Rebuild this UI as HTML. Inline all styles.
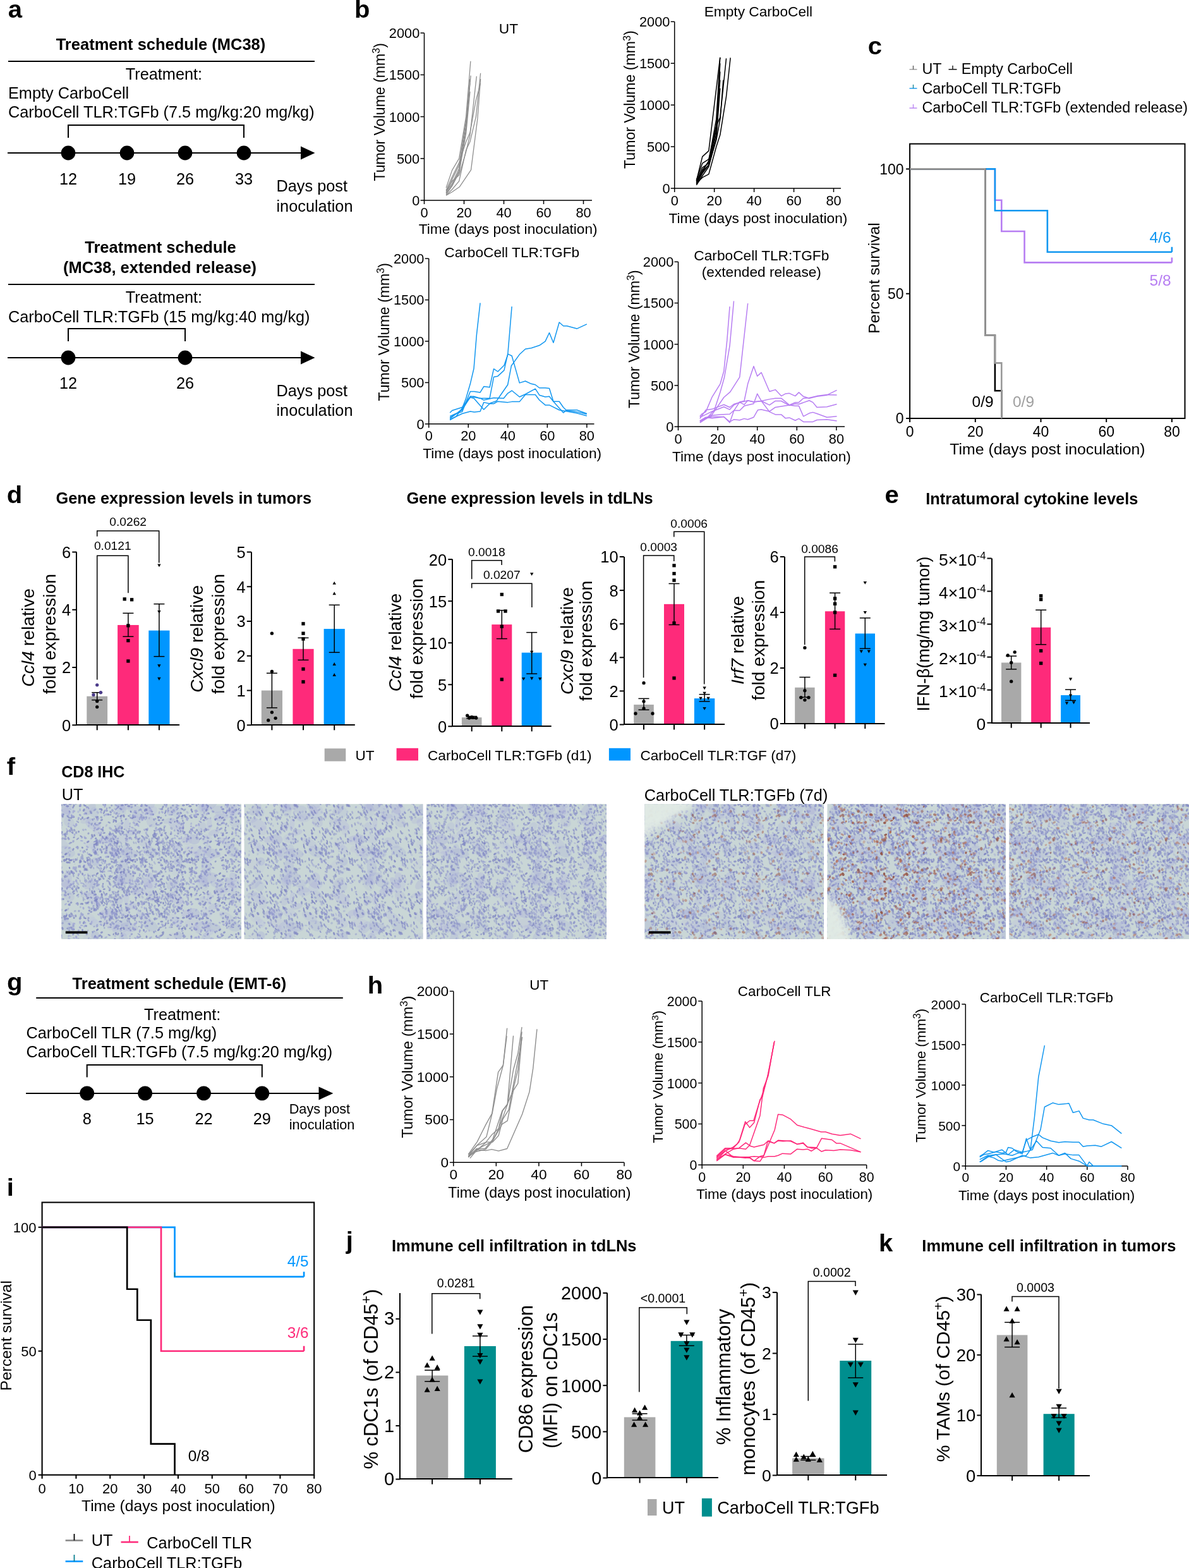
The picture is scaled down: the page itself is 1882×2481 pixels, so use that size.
<!DOCTYPE html>
<html><head><meta charset="utf-8"><title>Figure</title>
<style>html,body{margin:0;padding:0;background:#fff;overflow:hidden;}svg{display:block;}text{font-family:"Liberation Sans", Arial, Helvetica, sans-serif;}</style>
</head><body>
<svg width="1882" height="2481" viewBox="0 0 1882 2481">
<rect width="1882" height="2481" fill="#fff"/>
<text x="0" y="0" font-size="38.5" font-weight="bold" transform="translate(12.8 28.2) scale(1.04 1)">a</text>
<text x="88.69" y="79.2" font-size="25.5" font-weight="bold">Treatment schedule (MC38)</text>
<line x1="13" y1="97" x2="498" y2="97" stroke="#000" stroke-width="2"/>
<text x="198.78" y="125.6" font-size="25.3">Treatment:</text>
<text x="13" y="156.3" font-size="25.3">Empty CarboCell</text>
<text x="13" y="186.3" font-size="25.3">CarboCell TLR:TGFb (7.5 mg/kg:20 mg/kg)</text>
<path d="M108,218 V198 H386 V218" stroke="#000" stroke-width="2" fill="none"/>
<line x1="12" y1="242" x2="480" y2="242" stroke="#000" stroke-width="2"/>
<path d="M476,231.5 L498.5,242 L476,252.5Z" fill="#000"/>
<circle cx="108" cy="242" r="11.4" fill="#000"/>
<text x="93.96" y="292" font-size="25.3">12</text>
<circle cx="201" cy="242" r="11.4" fill="#000"/>
<text x="186.96" y="292" font-size="25.3">19</text>
<circle cx="293" cy="242" r="11.4" fill="#000"/>
<text x="278.96" y="292" font-size="25.3">26</text>
<circle cx="386" cy="242" r="11.4" fill="#000"/>
<text x="371.96" y="292" font-size="25.3">33</text>
<text x="437.5" y="303.2" font-size="25.3">Days post</text>
<text x="437.5" y="334.5" font-size="25.3">inoculation</text>
<text x="134.28" y="400.3" font-size="25.5" font-weight="bold">Treatment schedule</text>
<text x="99.94" y="431.5" font-size="25.5" font-weight="bold">(MC38, extended release)</text>
<line x1="13" y1="450" x2="498" y2="450" stroke="#000" stroke-width="2"/>
<text x="198.78" y="479.2" font-size="25.3">Treatment:</text>
<text x="13" y="509.5" font-size="25.3">CarboCell TLR:TGFb (15 mg/kg:40 mg/kg)</text>
<path d="M108,540 V520 H293 V540" stroke="#000" stroke-width="2" fill="none"/>
<line x1="12" y1="566" x2="480" y2="566" stroke="#000" stroke-width="2"/>
<path d="M476,555.5 L498.5,566 L476,576.5Z" fill="#000"/>
<circle cx="108" cy="566" r="11.4" fill="#000"/>
<text x="93.96" y="615" font-size="25.3">12</text>
<circle cx="293" cy="566" r="11.4" fill="#000"/>
<text x="278.96" y="615" font-size="25.3">26</text>
<text x="437.5" y="626.5" font-size="25.3">Days post</text>
<text x="437.5" y="657.5" font-size="25.3">inoculation</text>
<text x="0" y="0" font-size="38.5" font-weight="bold" transform="translate(561.1 28.3) scale(1.04 1)">b</text>
<line x1="671.5" y1="317" x2="671.5" y2="52.2" stroke="#000" stroke-width="1.5"/>
<line x1="670.75" y1="317" x2="937" y2="317" stroke="#000" stroke-width="1.5"/>
<line x1="665.5" y1="317" x2="671.5" y2="317" stroke="#000" stroke-width="1.5"/>
<text x="652.2" y="324.9" font-size="21.8">0</text>
<line x1="665.5" y1="250.8" x2="671.5" y2="250.8" stroke="#000" stroke-width="1.5"/>
<text x="627.89" y="258.7" font-size="21.8">500</text>
<line x1="665.5" y1="184.6" x2="671.5" y2="184.6" stroke="#000" stroke-width="1.5"/>
<text x="615.79" y="192.5" font-size="21.8">1000</text>
<line x1="665.5" y1="118.4" x2="671.5" y2="118.4" stroke="#000" stroke-width="1.5"/>
<text x="615.79" y="126.3" font-size="21.8">1500</text>
<line x1="665.5" y1="52.2" x2="671.5" y2="52.2" stroke="#000" stroke-width="1.5"/>
<text x="615.79" y="60.1" font-size="21.8">2000</text>
<line x1="671.5" y1="317" x2="671.5" y2="323" stroke="#000" stroke-width="1.5"/>
<text x="665.45" y="343.5" font-size="21.8">0</text>
<line x1="734.5" y1="317" x2="734.5" y2="323" stroke="#000" stroke-width="1.5"/>
<text x="722.4" y="343.5" font-size="21.8">20</text>
<line x1="797.5" y1="317" x2="797.5" y2="323" stroke="#000" stroke-width="1.5"/>
<text x="785.4" y="343.5" font-size="21.8">40</text>
<line x1="860.5" y1="317" x2="860.5" y2="323" stroke="#000" stroke-width="1.5"/>
<text x="848.4" y="343.5" font-size="21.8">60</text>
<line x1="923.5" y1="317" x2="923.5" y2="323" stroke="#000" stroke-width="1.5"/>
<text x="911.4" y="343.5" font-size="21.8">80</text>
<polyline points="706.15,297.14 715.6,269.34 726.62,250.8 737.65,184.6 744.89,96.82" stroke="#8e8e8e" stroke-width="1.3" fill="none" stroke-linejoin="round"/>
<polyline points="706.15,305.08 715.6,283.9 726.62,261.39 737.65,191.22 745.21,119.59" stroke="#8e8e8e" stroke-width="1.3" fill="none" stroke-linejoin="round"/>
<polyline points="706.15,303.76 715.6,290.52 726.62,266.69 737.65,197.84 743.95,125.02" stroke="#8e8e8e" stroke-width="1.3" fill="none" stroke-linejoin="round"/>
<polyline points="706.15,306.41 715.6,293.17 726.62,270.66 737.65,204.46 743.95,131.64" stroke="#8e8e8e" stroke-width="1.3" fill="none" stroke-linejoin="round"/>
<polyline points="706.15,307.73 715.6,294.49 726.62,273.31 737.65,211.08 743.95,144.88" stroke="#8e8e8e" stroke-width="1.3" fill="none" stroke-linejoin="round"/>
<polyline points="706.15,302.44 715.6,286.55 726.62,277.28 737.65,240.21 743.95,213.73 754.35,120.65" stroke="#8e8e8e" stroke-width="1.3" fill="none" stroke-linejoin="round"/>
<polyline points="706.15,309.06 715.6,299.79 726.62,286.55 737.65,237.56 743.95,224.32 753.4,184.6 760.64,115.75" stroke="#8e8e8e" stroke-width="1.3" fill="none" stroke-linejoin="round"/>
<polyline points="706.15,309.06 715.6,303.76 727.25,295.82 745.52,268.81 755.92,187.38 760.64,125.02" stroke="#8e8e8e" stroke-width="1.3" fill="none" stroke-linejoin="round"/>
<polyline points="706.15,301.11 715.6,279.93 726.62,257.42 737.65,224.32 743.95,209.76 753.4,158.12 760.64,131.64" stroke="#8e8e8e" stroke-width="1.3" fill="none" stroke-linejoin="round"/>
<text x="789.85" y="52.5" font-size="22.7">UT</text>
<text x="0" y="0" font-size="23.1" text-anchor="middle" transform="translate(608.5 177.3) rotate(-90)">Tumor Volume (mm<tspan font-size="0.7em" dy="-0.47em">3</tspan><tspan dy="0.329em">)</tspan></text>
<text x="662.77" y="369.5" font-size="22.7">Time (days post inoculation)</text>
<line x1="1067.7" y1="298" x2="1067.7" y2="34.3" stroke="#000" stroke-width="1.5"/>
<line x1="1066.95" y1="298" x2="1331" y2="298" stroke="#000" stroke-width="1.5"/>
<line x1="1061.7" y1="298" x2="1067.7" y2="298" stroke="#000" stroke-width="1.5"/>
<text x="1048.4" y="305.9" font-size="21.8">0</text>
<line x1="1061.7" y1="232.07" x2="1067.7" y2="232.07" stroke="#000" stroke-width="1.5"/>
<text x="1024.09" y="239.97" font-size="21.8">500</text>
<line x1="1061.7" y1="166.15" x2="1067.7" y2="166.15" stroke="#000" stroke-width="1.5"/>
<text x="1012" y="174.05" font-size="21.8">1000</text>
<line x1="1061.7" y1="100.22" x2="1067.7" y2="100.22" stroke="#000" stroke-width="1.5"/>
<text x="1012" y="108.12" font-size="21.8">1500</text>
<line x1="1061.7" y1="34.3" x2="1067.7" y2="34.3" stroke="#000" stroke-width="1.5"/>
<text x="1012" y="42.2" font-size="21.8">2000</text>
<line x1="1067.7" y1="298" x2="1067.7" y2="304" stroke="#000" stroke-width="1.5"/>
<text x="1061.65" y="324.5" font-size="21.8">0</text>
<line x1="1130.65" y1="298" x2="1130.65" y2="304" stroke="#000" stroke-width="1.5"/>
<text x="1118.55" y="324.5" font-size="21.8">20</text>
<line x1="1193.6" y1="298" x2="1193.6" y2="304" stroke="#000" stroke-width="1.5"/>
<text x="1181.5" y="324.5" font-size="21.8">40</text>
<line x1="1256.55" y1="298" x2="1256.55" y2="304" stroke="#000" stroke-width="1.5"/>
<text x="1244.45" y="324.5" font-size="21.8">60</text>
<line x1="1319.5" y1="298" x2="1319.5" y2="304" stroke="#000" stroke-width="1.5"/>
<text x="1307.4" y="324.5" font-size="21.8">80</text>
<polyline points="1102.32,286.13 1111.77,247.9 1121.84,238.67 1139.78,90.86" stroke="#000" stroke-width="1.5" fill="none" stroke-linejoin="round"/>
<polyline points="1102.32,290.09 1111.77,271.63 1121.84,254.49 1133.8,188.56 1139.78,90.86" stroke="#000" stroke-width="1.5" fill="none" stroke-linejoin="round"/>
<polyline points="1102.32,287.45 1111.77,265.04 1121.84,258.44 1133.8,205.7 1139.78,100.22" stroke="#000" stroke-width="1.5" fill="none" stroke-linejoin="round"/>
<polyline points="1102.32,291.41 1111.77,274.27 1121.84,261.08 1133.8,212.3 1139.78,113.41" stroke="#000" stroke-width="1.5" fill="none" stroke-linejoin="round"/>
<polyline points="1102.32,288.77 1111.77,268.99 1121.84,255.81 1133.8,199.11 1139.78,126.59" stroke="#000" stroke-width="1.5" fill="none" stroke-linejoin="round"/>
<polyline points="1102.32,292.73 1111.77,278.22 1121.84,263.72 1133.8,218.89 1139.78,139.78" stroke="#000" stroke-width="1.5" fill="none" stroke-linejoin="round"/>
<polyline points="1102.32,284.81 1111.77,258.44 1121.84,251.85 1133.8,199.11 1139.78,185.93 1149.54,92.45" stroke="#000" stroke-width="1.5" fill="none" stroke-linejoin="round"/>
<polyline points="1102.32,290.09 1111.77,280.86 1121.84,275.59 1133.8,232.07 1139.78,213.62 1149.54,152.97 1156.14,91.39" stroke="#000" stroke-width="1.5" fill="none" stroke-linejoin="round"/>
<polyline points="1102.32,287.45 1111.77,271.63 1121.84,261.08 1133.8,221.53 1140.09,187.25 1144.81,126.59" stroke="#000" stroke-width="1.5" fill="none" stroke-linejoin="round"/>
<text x="1114.69" y="26" font-size="22.7">Empty CarboCell</text>
<text x="0" y="0" font-size="23.1" text-anchor="middle" transform="translate(1005.3 157.6) rotate(-90)">Tumor Volume (mm<tspan font-size="0.7em" dy="-0.47em">3</tspan><tspan dy="0.329em">)</tspan></text>
<text x="1058.47" y="352.5" font-size="22.7">Time (days post inoculation)</text>
<line x1="678.7" y1="670.8" x2="678.7" y2="409.1" stroke="#000" stroke-width="1.5"/>
<line x1="677.95" y1="670.8" x2="940.5" y2="670.8" stroke="#000" stroke-width="1.5"/>
<line x1="672.7" y1="670.8" x2="678.7" y2="670.8" stroke="#000" stroke-width="1.5"/>
<text x="659.4" y="678.7" font-size="21.8">0</text>
<line x1="672.7" y1="605.38" x2="678.7" y2="605.38" stroke="#000" stroke-width="1.5"/>
<text x="635.09" y="613.27" font-size="21.8">500</text>
<line x1="672.7" y1="539.95" x2="678.7" y2="539.95" stroke="#000" stroke-width="1.5"/>
<text x="623" y="547.85" font-size="21.8">1000</text>
<line x1="672.7" y1="474.52" x2="678.7" y2="474.52" stroke="#000" stroke-width="1.5"/>
<text x="623" y="482.42" font-size="21.8">1500</text>
<line x1="672.7" y1="409.1" x2="678.7" y2="409.1" stroke="#000" stroke-width="1.5"/>
<text x="623" y="417" font-size="21.8">2000</text>
<line x1="678.7" y1="670.8" x2="678.7" y2="676.8" stroke="#000" stroke-width="1.5"/>
<text x="672.65" y="697.3" font-size="21.8">0</text>
<line x1="741.24" y1="670.8" x2="741.24" y2="676.8" stroke="#000" stroke-width="1.5"/>
<text x="729.14" y="697.3" font-size="21.8">20</text>
<line x1="803.78" y1="670.8" x2="803.78" y2="676.8" stroke="#000" stroke-width="1.5"/>
<text x="791.68" y="697.3" font-size="21.8">40</text>
<line x1="866.32" y1="670.8" x2="866.32" y2="676.8" stroke="#000" stroke-width="1.5"/>
<text x="854.22" y="697.3" font-size="21.8">60</text>
<line x1="928.86" y1="670.8" x2="928.86" y2="676.8" stroke="#000" stroke-width="1.5"/>
<text x="916.76" y="697.3" font-size="21.8">80</text>
<polyline points="712.16,664.52 722.17,658.8 731.47,645.92 737.19,631.62 744.34,607.31 750.06,582.99 754.35,530.07 760.07,479.3" stroke="#1297f0" stroke-width="1.5" fill="none" stroke-linejoin="round"/>
<polyline points="712.16,658.8 721.45,654.5 731.47,651.64 744.34,619.46 750.77,619.46 760.07,620.89 765.79,611.6 775.09,612.74 781.53,583.71 787.96,588 797.97,577.99 803.69,561.54 810.13,485.02" stroke="#1297f0" stroke-width="1.5" fill="none" stroke-linejoin="round"/>
<polyline points="712.16,660.94 731.47,648.78 744.34,627.33 760.07,630.19 775.09,630.19 781.53,596.58 787.96,595.15 797.97,585.85 803.69,560.11 810.13,562.97 822.29,605.88 831.58,603.01 840.88,607.31 847.32,608.74 853.75,613.74 863.05,613.74 869.49,614.46 875.92,635.2 885.22,635.2 891.66,644.49 895.95,648.78 913.11,648.78 928.84,654.5" stroke="#1297f0" stroke-width="1.5" fill="none" stroke-linejoin="round"/>
<polyline points="712.16,662.37 731.47,647.35 744.34,628.76 750.06,630.19 765.79,648.07 775.8,638.06 785.82,634.48 803.69,608.74 809.42,578.7 822.29,560.82 831.58,552.24 840.88,550.81 853.75,546.52 863.05,540.08 869.49,526.5 875.92,542.23 885.22,510.05 891.66,515.77 897.38,515.77 913.11,520.06 928.84,512.91" stroke="#1297f0" stroke-width="1.5" fill="none" stroke-linejoin="round"/>
<polyline points="712.16,653.07 715.73,649.5 731.47,644.49 744.34,627.33 750.06,627.33 760.07,630.19 765.79,633.05 781.53,629.47 797.26,630.19 803.69,622.32 810.13,618.03 822.29,628.04 831.58,623.75 847.32,615.17 853.75,625.18 863.05,628.04 869.49,627.33 875.92,635.2 891.66,653.07 895.95,649.5 913.11,651.64 928.84,655.22" stroke="#1297f0" stroke-width="1.5" fill="none" stroke-linejoin="round"/>
<polyline points="712.16,663.8 731.47,654.5 744.34,650.93 750.77,651.93 760.07,650.93 765.79,636.63 775.09,638.77 781.53,638.77 787.96,635.2 803.69,636.63 810.13,635.62 822.29,635.62 831.58,624.47 840.88,624.47 847.32,624.47 853.75,633.05 863.05,640.92 869.49,640.92 885.22,648.78 913.11,653.79 928.84,658.08" stroke="#1297f0" stroke-width="1.5" fill="none" stroke-linejoin="round"/>
<text x="703.27" y="406.5" font-size="22.7">CarboCell TLR:TGFb</text>
<text x="0" y="0" font-size="23.1" text-anchor="middle" transform="translate(615.8 525.3) rotate(-90)">Tumor Volume (mm<tspan font-size="0.7em" dy="-0.47em">3</tspan><tspan dy="0.329em">)</tspan></text>
<text x="669.27" y="725" font-size="22.7">Time (days post inoculation)</text>
<line x1="1073.5" y1="675.1" x2="1073.5" y2="414.3" stroke="#000" stroke-width="1.5"/>
<line x1="1072.75" y1="675.1" x2="1337" y2="675.1" stroke="#000" stroke-width="1.5"/>
<line x1="1067.5" y1="675.1" x2="1073.5" y2="675.1" stroke="#000" stroke-width="1.5"/>
<text x="1054.2" y="683" font-size="21.8">0</text>
<line x1="1067.5" y1="609.9" x2="1073.5" y2="609.9" stroke="#000" stroke-width="1.5"/>
<text x="1029.89" y="617.8" font-size="21.8">500</text>
<line x1="1067.5" y1="544.7" x2="1073.5" y2="544.7" stroke="#000" stroke-width="1.5"/>
<text x="1017.79" y="552.6" font-size="21.8">1000</text>
<line x1="1067.5" y1="479.5" x2="1073.5" y2="479.5" stroke="#000" stroke-width="1.5"/>
<text x="1017.79" y="487.4" font-size="21.8">1500</text>
<line x1="1067.5" y1="414.3" x2="1073.5" y2="414.3" stroke="#000" stroke-width="1.5"/>
<text x="1017.79" y="422.2" font-size="21.8">2000</text>
<line x1="1073.5" y1="675.1" x2="1073.5" y2="681.1" stroke="#000" stroke-width="1.5"/>
<text x="1067.45" y="701.6" font-size="21.8">0</text>
<line x1="1136.1" y1="675.1" x2="1136.1" y2="681.1" stroke="#000" stroke-width="1.5"/>
<text x="1124" y="701.6" font-size="21.8">20</text>
<line x1="1198.7" y1="675.1" x2="1198.7" y2="681.1" stroke="#000" stroke-width="1.5"/>
<text x="1186.6" y="701.6" font-size="21.8">40</text>
<line x1="1261.3" y1="675.1" x2="1261.3" y2="681.1" stroke="#000" stroke-width="1.5"/>
<text x="1249.2" y="701.6" font-size="21.8">60</text>
<line x1="1323.9" y1="675.1" x2="1323.9" y2="681.1" stroke="#000" stroke-width="1.5"/>
<text x="1311.8" y="701.6" font-size="21.8">80</text>
<polyline points="1107.87,658.8 1110.73,655.22 1117.16,651.64 1127.18,628.04 1140.05,607.31 1145.77,587.28 1150.77,538.65 1155.07,485.02" stroke="#b77ef2" stroke-width="1.5" fill="none" stroke-linejoin="round"/>
<polyline points="1107.87,665.95 1121.45,658.8 1130.75,648.78 1140.05,620.18 1146.48,597.29 1155.07,547.23 1161.5,476.44" stroke="#b77ef2" stroke-width="1.5" fill="none" stroke-linejoin="round"/>
<polyline points="1107.87,668.81 1127.18,655.93 1145.77,628.76 1155.78,620.18 1170.8,596.58 1183.67,480.01" stroke="#b77ef2" stroke-width="1.5" fill="none" stroke-linejoin="round"/>
<polyline points="1107.87,666.66 1117.16,661.66 1127.18,659.51 1145.77,659.51 1155.07,668.81 1161.5,650.21 1170.8,635.91 1177.95,634.48 1183.67,607.31 1192.97,579.42 1198.69,595.15 1205.12,589.43 1218,619.46 1227.29,616.6 1236.59,626.61 1243.03,623.04 1249.46,622.32 1258.76,626.61 1264.48,620.89 1271.63,627.33 1280.93,630.19 1293.09,627.33 1308.82,625.18 1324.55,617.32" stroke="#b77ef2" stroke-width="1.5" fill="none" stroke-linejoin="round"/>
<polyline points="1107.87,662.37 1117.16,648.78 1127.18,647.35 1145.77,640.2 1155.07,644.49 1161.5,639.49 1170.8,636.63 1177.95,640.2 1183.67,633.77 1192.97,635.91 1205.12,634.48 1218,631.62 1227.29,630.19 1236.59,630.19 1249.46,640.92 1258.76,636.63 1264.48,636.63 1271.63,630.19 1280.93,629.47 1293.09,626.61 1308.82,624.47 1324.55,624.9" stroke="#b77ef2" stroke-width="1.5" fill="none" stroke-linejoin="round"/>
<polyline points="1107.87,665.95 1117.16,660.23 1127.18,661.66 1145.77,659.51 1155.07,667.38 1161.5,663.8 1170.8,664.8 1177.95,662.37 1183.67,663.8 1192.97,660.23 1199.4,648.78 1205.12,648.07 1218,650.93 1227.29,644.49 1236.59,643.06 1249.46,640.92 1258.76,642.35 1264.48,642.35 1271.63,658.8 1280.93,653.79 1286.65,652.36 1293.09,654.5 1308.82,660.23 1324.55,658.8" stroke="#b77ef2" stroke-width="1.5" fill="none" stroke-linejoin="round"/>
<polyline points="1107.87,668.09 1127.18,657.37 1140.05,655.93 1155.07,655.22 1161.5,649.5 1170.8,649.5 1177.95,642.35 1192.97,638.77 1198.69,623.04 1205.12,634.48 1218,651.64 1227.29,655.93 1236.59,655.93 1243.03,661.66 1249.46,660.94 1258.76,665.23 1264.48,662.37 1271.63,667.38 1286.65,667.38 1293.09,664.52 1308.82,663.8 1324.55,665.95" stroke="#b77ef2" stroke-width="1.5" fill="none" stroke-linejoin="round"/>
<polyline points="1107.87,660.23 1117.16,655.93 1127.18,650.93 1145.77,643.78 1155.07,648.07 1161.5,640.92 1170.8,636.63 1177.95,635.2 1183.67,633.77 1192.97,635.91 1205.12,634.48 1218,640.92 1227.29,634.48 1236.59,634.48 1249.46,641.63 1258.76,638.77 1264.48,639.49 1280.93,633.77 1286.65,636.63 1293.09,644.49 1308.82,643.78 1324.55,639.49" stroke="#b77ef2" stroke-width="1.5" fill="none" stroke-linejoin="round"/>
<text x="1098.37" y="411.5" font-size="22.7">CarboCell TLR:TGFb</text>
<text x="1110.74" y="437.5" font-size="22.7">(extended release)</text>
<text x="0" y="0" font-size="23.1" text-anchor="middle" transform="translate(1011.5 536.6) rotate(-90)">Tumor Volume (mm<tspan font-size="0.7em" dy="-0.47em">3</tspan><tspan dy="0.329em">)</tspan></text>
<text x="1063.97" y="729.5" font-size="22.7">Time (days post inoculation)</text>
<text x="0" y="0" font-size="38.5" font-weight="bold" transform="translate(1373.8 86.4) scale(1.04 1)">c</text>
<line x1="1439.5" y1="109.8" x2="1451.5" y2="109.8" stroke="#999" stroke-width="1.4"/>
<line x1="1445.5" y1="103.8" x2="1445.5" y2="109.8" stroke="#555" stroke-width="1.3"/>
<text x="1459.5" y="116.8" font-size="23.3">UT</text>
<line x1="1501.5" y1="109.8" x2="1514.5" y2="109.8" stroke="#000" stroke-width="1.4"/>
<line x1="1508" y1="103.8" x2="1508" y2="109.8" stroke="#000" stroke-width="1.3"/>
<text x="1521.8" y="116.8" font-size="23.3">Empty CarboCell</text>
<line x1="1439.5" y1="139.8" x2="1451.5" y2="139.8" stroke="#1297f0" stroke-width="1.4"/>
<line x1="1445.5" y1="133.8" x2="1445.5" y2="139.8" stroke="#0a7f8f" stroke-width="1.3"/>
<text x="1459.5" y="147.6" font-size="23.3">CarboCell TLR:TGFb</text>
<line x1="1439.5" y1="171" x2="1451.5" y2="171" stroke="#b77ef2" stroke-width="1.4"/>
<line x1="1445.5" y1="165" x2="1445.5" y2="171" stroke="#b77ef2" stroke-width="1.3"/>
<text x="1459.5" y="178.4" font-size="23.3">CarboCell TLR:TGFb (extended release)</text>
<rect x="1440.1" y="227.6" width="435.4" height="434.4" fill="none" stroke="#000" stroke-width="2"/>
<line x1="1434.1" y1="662" x2="1440.1" y2="662" stroke="#000" stroke-width="2"/>
<text x="1417.83" y="670.2" font-size="23">0</text>
<line x1="1434.1" y1="464.7" x2="1440.1" y2="464.7" stroke="#000" stroke-width="2"/>
<text x="1405.07" y="472.9" font-size="23">50</text>
<line x1="1434.1" y1="267.4" x2="1440.1" y2="267.4" stroke="#000" stroke-width="2"/>
<text x="1392.19" y="275.6" font-size="23">100</text>
<line x1="1440.1" y1="662" x2="1440.1" y2="668" stroke="#000" stroke-width="2"/>
<text x="1433.72" y="691" font-size="23">0</text>
<line x1="1543.8" y1="662" x2="1543.8" y2="668" stroke="#000" stroke-width="2"/>
<text x="1531.03" y="691" font-size="23">20</text>
<line x1="1647.5" y1="662" x2="1647.5" y2="668" stroke="#000" stroke-width="2"/>
<text x="1634.73" y="691" font-size="23">40</text>
<line x1="1751.2" y1="662" x2="1751.2" y2="668" stroke="#000" stroke-width="2"/>
<text x="1738.43" y="691" font-size="23">60</text>
<line x1="1854.9" y1="662" x2="1854.9" y2="668" stroke="#000" stroke-width="2"/>
<text x="1842.13" y="691" font-size="23">80</text>
<path d="M1440.1,267.4 H1574.91 V316.72 H1585.28 V366.05 H1621.57 V415.38 H1854.9 M1854.9,407.38 V415.38" stroke="#b77ef2" stroke-width="2.6" fill="none"/>
<path d="M1440.1,267.4 H1574.91 V333.3 H1657.87 V398.8 H1854.9 M1854.9,390.8 V398.8" stroke="#1297f0" stroke-width="2.6" fill="none"/>
<path d="M1440.1,267.4 H1559.36 V530.6 H1574.91 V618.2 H1585.28 V662" stroke="#000" stroke-width="2.6" fill="none"/>
<path d="M1440.1,267.4 H1559.36 V530.6 H1574.91 V574.4 H1585.28 V662" stroke="#999" stroke-width="2.6" fill="none"/>
<text x="1819.54" y="384" font-size="24.5" fill="#1297f0">4/6</text>
<text x="1819.54" y="451.5" font-size="24.5" fill="#b77ef2">5/8</text>
<text x="1538.6" y="644.3" font-size="24.46">0/9</text>
<text x="1603" y="644.3" font-size="24.46" fill="#a0a0a0">0/9</text>
<text x="1503.37" y="719" font-size="24.8">Time (days post inoculation)</text>
<text x="0" y="0" font-size="24.7" text-anchor="middle" transform="translate(1391.8 440) rotate(-90)">Percent survival</text>
<text x="0" y="0" font-size="38.5" font-weight="bold" transform="translate(10.8 796.4) scale(1.04 1)">d</text>
<text x="88.5" y="796.8" font-size="25.36" font-weight="bold">Gene expression levels in tumors</text>
<text x="643.4" y="797" font-size="25.35" font-weight="bold">Gene expression levels in tdLNs</text>
<rect x="137.3" y="1101.67" width="32.8" height="45.63" fill="#a9a9a9"/>
<rect x="186.1" y="988.96" width="33.6" height="158.34" fill="#fe2a7a"/>
<rect x="235.3" y="997.63" width="33.2" height="149.67" fill="#0096ff"/>
<line x1="153.7" y1="1107.6" x2="153.7" y2="1095.74" stroke="#000" stroke-width="1.5"/>
<line x1="145.2" y1="1107.6" x2="162.2" y2="1107.6" stroke="#000" stroke-width="1.5"/>
<line x1="145.2" y1="1095.74" x2="162.2" y2="1095.74" stroke="#000" stroke-width="1.5"/>
<circle cx="153.7" cy="1083.87" r="2.66" fill="#4b3b8a"/>
<circle cx="148" cy="1099.39" r="2.66" fill="#4b3b8a"/>
<circle cx="159.4" cy="1095.74" r="2.66" fill="#4b3b8a"/>
<circle cx="153.7" cy="1109.43" r="2.66" fill="#000"/>
<circle cx="153.7" cy="1118.55" r="2.66" fill="#000"/>
<line x1="202.9" y1="1007.22" x2="202.9" y2="970.26" stroke="#000" stroke-width="1.5"/>
<line x1="194.4" y1="1007.22" x2="211.4" y2="1007.22" stroke="#000" stroke-width="1.5"/>
<line x1="194.4" y1="970.26" x2="211.4" y2="970.26" stroke="#000" stroke-width="1.5"/>
<rect x="194.54" y="945.24" width="5.31" height="5.31" fill="#000"/>
<rect x="205.94" y="946.15" width="5.31" height="5.31" fill="#000"/>
<rect x="200.24" y="987.22" width="5.31" height="5.31" fill="#000"/>
<rect x="200.24" y="1010.95" width="5.31" height="5.31" fill="#000"/>
<rect x="200.24" y="1043.35" width="5.31" height="5.31" fill="#000"/>
<line x1="251.9" y1="1038.7" x2="251.9" y2="955.65" stroke="#000" stroke-width="1.5"/>
<line x1="243.4" y1="1038.7" x2="260.4" y2="1038.7" stroke="#000" stroke-width="1.5"/>
<line x1="243.4" y1="955.65" x2="260.4" y2="955.65" stroke="#000" stroke-width="1.5"/>
<path d="M251.9,897.36 L254.61,892.51 L249.19,892.51Z" fill="#000"/>
<path d="M251.9,970.83 L254.61,965.98 L249.19,965.98Z" fill="#000"/>
<path d="M251.9,1056.15 L254.61,1051.31 L249.19,1051.31Z" fill="#000"/>
<path d="M251.9,1076.69 L254.61,1071.84 L249.19,1071.84Z" fill="#000"/>
<line x1="121" y1="1148" x2="121" y2="873.5" stroke="#000" stroke-width="2"/>
<line x1="120" y1="1147" x2="284.1" y2="1147" stroke="#000" stroke-width="2"/>
<line x1="114.3" y1="1147.3" x2="121.3" y2="1147.3" stroke="#000" stroke-width="2"/>
<text x="97.95" y="1156.7" font-size="25.5">0</text>
<line x1="114.3" y1="1056.04" x2="121.3" y2="1056.04" stroke="#000" stroke-width="2"/>
<text x="97.95" y="1065.44" font-size="25.5">2</text>
<line x1="114.3" y1="964.78" x2="121.3" y2="964.78" stroke="#000" stroke-width="2"/>
<text x="97.95" y="974.18" font-size="25.5">4</text>
<line x1="114.3" y1="873.52" x2="121.3" y2="873.52" stroke="#000" stroke-width="2"/>
<text x="97.95" y="882.92" font-size="25.5">6</text>
<line x1="153.7" y1="1147.3" x2="153.7" y2="1155.3" stroke="#000" stroke-width="2"/>
<line x1="202.9" y1="1147.3" x2="202.9" y2="1155.3" stroke="#000" stroke-width="2"/>
<line x1="251.9" y1="1147.3" x2="251.9" y2="1155.3" stroke="#000" stroke-width="2"/>
<path d="M153.7,1075.6 V879.2 H202.9 V938.3" stroke="#000" stroke-width="1.5" fill="none"/>
<text x="148.92" y="869.7" font-size="19.2">0.0121</text>
<path d="M153.7,848.7 V840 H251.7 V890.6" stroke="#000" stroke-width="1.5" fill="none"/>
<text x="173.32" y="832" font-size="19.2">0.0262</text>
<text x="0" y="0" font-size="28.3" text-anchor="middle" transform="translate(53.8 1008.8) rotate(-90)"><tspan font-style="italic">Ccl4</tspan> relative</text>
<text x="0" y="0" font-size="28.3" text-anchor="middle" transform="translate(87.8 1003.2) rotate(-90)">fold expression</text>
<rect x="413.8" y="1092.54" width="33.2" height="54.76" fill="#a9a9a9"/>
<rect x="463.4" y="1026.83" width="33.2" height="120.47" fill="#fe2a7a"/>
<rect x="512.6" y="995.07" width="33.2" height="152.23" fill="#0096ff"/>
<line x1="430.4" y1="1119.92" x2="430.4" y2="1065.16" stroke="#000" stroke-width="1.5"/>
<line x1="421.9" y1="1119.92" x2="438.9" y2="1119.92" stroke="#000" stroke-width="1.5"/>
<line x1="421.9" y1="1065.16" x2="438.9" y2="1065.16" stroke="#000" stroke-width="1.5"/>
<circle cx="430.4" cy="1002.19" r="2.66" fill="#000"/>
<circle cx="430.4" cy="1062.42" r="2.66" fill="#000"/>
<circle cx="436.1" cy="1136.35" r="2.66" fill="#000"/>
<circle cx="424.7" cy="1139.63" r="2.66" fill="#000"/>
<circle cx="430.4" cy="1127.04" r="2.66" fill="#000"/>
<line x1="480" y1="1044.35" x2="480" y2="1009.3" stroke="#000" stroke-width="1.5"/>
<line x1="471.5" y1="1044.35" x2="488.5" y2="1044.35" stroke="#000" stroke-width="1.5"/>
<line x1="471.5" y1="1009.3" x2="488.5" y2="1009.3" stroke="#000" stroke-width="1.5"/>
<rect x="477.34" y="984.2" width="5.31" height="5.31" fill="#000"/>
<rect x="477.34" y="999.53" width="5.31" height="5.31" fill="#000"/>
<rect x="477.34" y="1008.29" width="5.31" height="5.31" fill="#000"/>
<rect x="477.34" y="1055.93" width="5.31" height="5.31" fill="#000"/>
<rect x="477.34" y="1076.19" width="5.31" height="5.31" fill="#000"/>
<line x1="529.2" y1="1032.3" x2="529.2" y2="957.28" stroke="#000" stroke-width="1.5"/>
<line x1="520.7" y1="1032.3" x2="537.7" y2="1032.3" stroke="#000" stroke-width="1.5"/>
<line x1="520.7" y1="957.28" x2="537.7" y2="957.28" stroke="#000" stroke-width="1.5"/>
<path d="M529.2,919.93 L531.91,924.78 L526.49,924.78Z" fill="#000"/>
<path d="M529.2,936.36 L531.91,941.21 L526.49,941.21Z" fill="#000"/>
<path d="M529.2,1048.07 L531.91,1052.92 L526.49,1052.92Z" fill="#000"/>
<path d="M529.2,1065.05 L531.91,1069.89 L526.49,1069.89Z" fill="#000"/>
<line x1="398" y1="1148" x2="398" y2="873.5" stroke="#000" stroke-width="2"/>
<line x1="397" y1="1147" x2="561.8" y2="1147" stroke="#000" stroke-width="2"/>
<line x1="390.8" y1="1147.3" x2="397.8" y2="1147.3" stroke="#000" stroke-width="2"/>
<text x="374.45" y="1156.7" font-size="25.5">0</text>
<line x1="390.8" y1="1092.54" x2="397.8" y2="1092.54" stroke="#000" stroke-width="2"/>
<text x="374.45" y="1101.94" font-size="25.5">1</text>
<line x1="390.8" y1="1037.78" x2="397.8" y2="1037.78" stroke="#000" stroke-width="2"/>
<text x="374.45" y="1047.18" font-size="25.5">2</text>
<line x1="390.8" y1="983.02" x2="397.8" y2="983.02" stroke="#000" stroke-width="2"/>
<text x="374.45" y="992.42" font-size="25.5">3</text>
<line x1="390.8" y1="928.26" x2="397.8" y2="928.26" stroke="#000" stroke-width="2"/>
<text x="374.45" y="937.66" font-size="25.5">4</text>
<line x1="390.8" y1="873.5" x2="397.8" y2="873.5" stroke="#000" stroke-width="2"/>
<text x="374.45" y="882.9" font-size="25.5">5</text>
<line x1="430.4" y1="1147.3" x2="430.4" y2="1155.3" stroke="#000" stroke-width="2"/>
<line x1="480" y1="1147.3" x2="480" y2="1155.3" stroke="#000" stroke-width="2"/>
<line x1="529.2" y1="1147.3" x2="529.2" y2="1155.3" stroke="#000" stroke-width="2"/>
<text x="0" y="0" font-size="28.3" text-anchor="middle" transform="translate(320.6 1010.8) rotate(-90)"><tspan font-style="italic">Cxcl9</tspan> relative</text>
<text x="0" y="0" font-size="28.3" text-anchor="middle" transform="translate(354.6 1003.2) rotate(-90)">fold expression</text>
<rect x="730.9" y="1135.17" width="31.6" height="14.13" fill="#a9a9a9"/>
<rect x="778.3" y="988.14" width="32" height="161.16" fill="#fe2a7a"/>
<rect x="825.7" y="1032.66" width="32" height="116.64" fill="#0096ff"/>
<line x1="746.7" y1="1136.75" x2="746.7" y2="1133.45" stroke="#000" stroke-width="1.5"/>
<line x1="738.2" y1="1136.75" x2="755.2" y2="1136.75" stroke="#000" stroke-width="1.5"/>
<line x1="738.2" y1="1133.45" x2="755.2" y2="1133.45" stroke="#000" stroke-width="1.5"/>
<circle cx="739.7" cy="1132.13" r="2.66" fill="#000"/>
<circle cx="742.7" cy="1136.09" r="2.66" fill="#000"/>
<circle cx="748.7" cy="1135.43" r="2.66" fill="#000"/>
<circle cx="753.7" cy="1136.09" r="2.66" fill="#000"/>
<circle cx="746.7" cy="1134.77" r="2.66" fill="#000"/>
<line x1="794.3" y1="1010.59" x2="794.3" y2="965.68" stroke="#000" stroke-width="1.5"/>
<line x1="785.8" y1="1010.59" x2="802.8" y2="1010.59" stroke="#000" stroke-width="1.5"/>
<line x1="785.8" y1="965.68" x2="802.8" y2="965.68" stroke="#000" stroke-width="1.5"/>
<rect x="791.64" y="937.93" width="5.31" height="5.31" fill="#000"/>
<rect x="785.94" y="964.35" width="5.31" height="5.31" fill="#000"/>
<rect x="797.34" y="964.35" width="5.31" height="5.31" fill="#000"/>
<rect x="791.64" y="988.65" width="5.31" height="5.31" fill="#000"/>
<rect x="791.64" y="1072.4" width="5.31" height="5.31" fill="#000"/>
<line x1="841.7" y1="1066.08" x2="841.7" y2="1000.69" stroke="#000" stroke-width="1.5"/>
<line x1="833.2" y1="1066.08" x2="850.2" y2="1066.08" stroke="#000" stroke-width="1.5"/>
<line x1="833.2" y1="1000.69" x2="850.2" y2="1000.69" stroke="#000" stroke-width="1.5"/>
<path d="M841.7,911.07 L844.41,906.22 L838.99,906.22Z" fill="#000"/>
<path d="M841.7,1034.58 L844.41,1029.73 L838.99,1029.73Z" fill="#000"/>
<path d="M828.7,1076.86 L831.41,1072.01 L825.99,1072.01Z" fill="#000"/>
<path d="M841.7,1076.19 L844.41,1071.35 L838.99,1071.35Z" fill="#000"/>
<path d="M854.7,1076.86 L857.41,1072.01 L851.99,1072.01Z" fill="#000"/>
<line x1="716" y1="1150" x2="716" y2="885.1" stroke="#000" stroke-width="2"/>
<line x1="715" y1="1149" x2="872.7" y2="1149" stroke="#000" stroke-width="2"/>
<line x1="709.3" y1="1149.3" x2="716.3" y2="1149.3" stroke="#000" stroke-width="2"/>
<text x="692.95" y="1158.7" font-size="25.5">0</text>
<line x1="709.3" y1="1083.25" x2="716.3" y2="1083.25" stroke="#000" stroke-width="2"/>
<text x="692.95" y="1092.65" font-size="25.5">5</text>
<line x1="709.3" y1="1017.2" x2="716.3" y2="1017.2" stroke="#000" stroke-width="2"/>
<text x="678.79" y="1026.6" font-size="25.5">10</text>
<line x1="709.3" y1="951.15" x2="716.3" y2="951.15" stroke="#000" stroke-width="2"/>
<text x="678.79" y="960.55" font-size="25.5">15</text>
<line x1="709.3" y1="885.1" x2="716.3" y2="885.1" stroke="#000" stroke-width="2"/>
<text x="678.79" y="894.5" font-size="25.5">20</text>
<line x1="746.7" y1="1149.3" x2="746.7" y2="1157.3" stroke="#000" stroke-width="2"/>
<line x1="794.3" y1="1149.3" x2="794.3" y2="1157.3" stroke="#000" stroke-width="2"/>
<line x1="841.7" y1="1149.3" x2="841.7" y2="1157.3" stroke="#000" stroke-width="2"/>
<path d="M746.7,916.3 V886.7 H794.1 V894" stroke="#000" stroke-width="1.5" fill="none"/>
<text x="741.02" y="879.8" font-size="19.2">0.0018</text>
<path d="M746.7,930.5 V923.2 H841.9 V960.9" stroke="#000" stroke-width="1.5" fill="none"/>
<text x="764.92" y="916.3" font-size="19.2">0.0207</text>
<text x="0" y="0" font-size="28.3" text-anchor="middle" transform="translate(635 1016.5) rotate(-90)"><tspan font-style="italic">Ccl4</tspan> relative</text>
<text x="0" y="0" font-size="28.3" text-anchor="middle" transform="translate(669 1010.5) rotate(-90)">fold expression</text>
<rect x="1003.2" y="1114.91" width="31.6" height="31.59" fill="#a9a9a9"/>
<rect x="1051" y="955.87" width="32" height="190.63" fill="#fe2a7a"/>
<rect x="1098.9" y="1105.08" width="32.4" height="41.42" fill="#0096ff"/>
<line x1="1019" y1="1123.14" x2="1019" y2="1105.35" stroke="#000" stroke-width="1.5"/>
<line x1="1010.5" y1="1123.14" x2="1027.5" y2="1123.14" stroke="#000" stroke-width="1.5"/>
<line x1="1010.5" y1="1105.35" x2="1027.5" y2="1105.35" stroke="#000" stroke-width="1.5"/>
<circle cx="1019" cy="1080.66" r="2.66" fill="#000"/>
<circle cx="1019" cy="1109.86" r="2.66" fill="#000"/>
<circle cx="1006" cy="1128.98" r="2.66" fill="#000"/>
<circle cx="1019" cy="1121.01" r="2.66" fill="#000"/>
<circle cx="1033" cy="1128.98" r="2.66" fill="#000"/>
<line x1="1067" y1="988.53" x2="1067" y2="923.48" stroke="#000" stroke-width="1.5"/>
<line x1="1058.5" y1="988.53" x2="1075.5" y2="988.53" stroke="#000" stroke-width="1.5"/>
<line x1="1058.5" y1="923.48" x2="1075.5" y2="923.48" stroke="#000" stroke-width="1.5"/>
<rect x="1064.34" y="892.15" width="5.31" height="5.31" fill="#000"/>
<rect x="1064.34" y="904.89" width="5.31" height="5.31" fill="#000"/>
<rect x="1064.34" y="915.51" width="5.31" height="5.31" fill="#000"/>
<rect x="1064.34" y="983.22" width="5.31" height="5.31" fill="#000"/>
<rect x="1064.34" y="1070.3" width="5.31" height="5.31" fill="#000"/>
<line x1="1115.1" y1="1109.86" x2="1115.1" y2="1098.71" stroke="#000" stroke-width="1.5"/>
<line x1="1106.6" y1="1109.86" x2="1123.6" y2="1109.86" stroke="#000" stroke-width="1.5"/>
<line x1="1106.6" y1="1098.71" x2="1123.6" y2="1098.71" stroke="#000" stroke-width="1.5"/>
<path d="M1115.1,1091.47 L1117.81,1086.62 L1112.39,1086.62Z" fill="#000"/>
<path d="M1115.1,1099.7 L1117.81,1094.86 L1112.39,1094.86Z" fill="#000"/>
<path d="M1109.1,1107.67 L1111.81,1102.82 L1106.39,1102.82Z" fill="#000"/>
<path d="M1121.1,1107.67 L1123.81,1102.82 L1118.39,1102.82Z" fill="#000"/>
<path d="M1115.1,1123.86 L1117.81,1119.02 L1112.39,1119.02Z" fill="#000"/>
<line x1="988" y1="1147" x2="988" y2="881" stroke="#000" stroke-width="2"/>
<line x1="987" y1="1146" x2="1147.1" y2="1146" stroke="#000" stroke-width="2"/>
<line x1="980.8" y1="1146.5" x2="987.8" y2="1146.5" stroke="#000" stroke-width="2"/>
<text x="964.45" y="1155.9" font-size="25.5">0</text>
<line x1="980.8" y1="1093.4" x2="987.8" y2="1093.4" stroke="#000" stroke-width="2"/>
<text x="964.45" y="1102.8" font-size="25.5">2</text>
<line x1="980.8" y1="1040.3" x2="987.8" y2="1040.3" stroke="#000" stroke-width="2"/>
<text x="964.45" y="1049.7" font-size="25.5">4</text>
<line x1="980.8" y1="987.2" x2="987.8" y2="987.2" stroke="#000" stroke-width="2"/>
<text x="964.45" y="996.6" font-size="25.5">6</text>
<line x1="980.8" y1="934.1" x2="987.8" y2="934.1" stroke="#000" stroke-width="2"/>
<text x="964.45" y="943.5" font-size="25.5">8</text>
<line x1="980.8" y1="881" x2="987.8" y2="881" stroke="#000" stroke-width="2"/>
<text x="950.29" y="890.4" font-size="25.5">10</text>
<line x1="1019" y1="1146.5" x2="1019" y2="1154.5" stroke="#000" stroke-width="2"/>
<line x1="1067" y1="1146.5" x2="1067" y2="1154.5" stroke="#000" stroke-width="2"/>
<line x1="1115.1" y1="1146.5" x2="1115.1" y2="1154.5" stroke="#000" stroke-width="2"/>
<path d="M1018.6,1072.3 V879 H1066.8 V888" stroke="#000" stroke-width="1.5" fill="none"/>
<text x="1013.32" y="871.7" font-size="19.2">0.0003</text>
<path d="M1066.8,849.4 V841.3 H1114.7 V1082.4" stroke="#000" stroke-width="1.5" fill="none"/>
<text x="1061.37" y="835.2" font-size="19.2">0.0006</text>
<text x="0" y="0" font-size="28.3" text-anchor="middle" transform="translate(906.5 1014) rotate(-90)"><tspan font-style="italic">Cxcl9</tspan> relative</text>
<text x="0" y="0" font-size="28.3" text-anchor="middle" transform="translate(937 1014) rotate(-90)">fold expression</text>
<rect x="1258.2" y="1087.8" width="31.4" height="57.2" fill="#a9a9a9"/>
<rect x="1305.9" y="967.24" width="31.4" height="177.76" fill="#fe2a7a"/>
<rect x="1353.6" y="1002.44" width="31.4" height="142.56" fill="#0096ff"/>
<line x1="1273.9" y1="1103.2" x2="1273.9" y2="1071.52" stroke="#000" stroke-width="1.5"/>
<line x1="1265.4" y1="1103.2" x2="1282.4" y2="1103.2" stroke="#000" stroke-width="1.5"/>
<line x1="1265.4" y1="1071.52" x2="1282.4" y2="1071.52" stroke="#000" stroke-width="1.5"/>
<circle cx="1273.9" cy="1024.88" r="2.66" fill="#000"/>
<circle cx="1273.9" cy="1092.64" r="2.66" fill="#000"/>
<circle cx="1267.9" cy="1103.64" r="2.66" fill="#000"/>
<circle cx="1279.9" cy="1103.64" r="2.66" fill="#000"/>
<circle cx="1273.9" cy="1107.6" r="2.66" fill="#000"/>
<line x1="1321.6" y1="995.4" x2="1321.6" y2="938.2" stroke="#000" stroke-width="1.5"/>
<line x1="1313.1" y1="995.4" x2="1330.1" y2="995.4" stroke="#000" stroke-width="1.5"/>
<line x1="1313.1" y1="938.2" x2="1330.1" y2="938.2" stroke="#000" stroke-width="1.5"/>
<rect x="1318.94" y="894.18" width="5.31" height="5.31" fill="#000"/>
<rect x="1318.94" y="944.34" width="5.31" height="5.31" fill="#000"/>
<rect x="1318.94" y="952.7" width="5.31" height="5.31" fill="#000"/>
<rect x="1318.94" y="966.34" width="5.31" height="5.31" fill="#000"/>
<rect x="1318.94" y="1065.78" width="5.31" height="5.31" fill="#000"/>
<line x1="1369.3" y1="1026.2" x2="1369.3" y2="977.8" stroke="#000" stroke-width="1.5"/>
<line x1="1360.8" y1="1026.2" x2="1377.8" y2="1026.2" stroke="#000" stroke-width="1.5"/>
<line x1="1360.8" y1="977.8" x2="1377.8" y2="977.8" stroke="#000" stroke-width="1.5"/>
<path d="M1369.3,924.77 L1372.01,919.92 L1366.59,919.92Z" fill="#000"/>
<path d="M1369.3,971.85 L1372.01,967 L1366.59,967Z" fill="#000"/>
<path d="M1363.3,1033.45 L1366.01,1028.6 L1360.59,1028.6Z" fill="#000"/>
<path d="M1375.3,1033.45 L1378.01,1028.6 L1372.59,1028.6Z" fill="#000"/>
<path d="M1369.3,1054.57 L1372.01,1049.72 L1366.59,1049.72Z" fill="#000"/>
<line x1="1242" y1="1146" x2="1242" y2="881" stroke="#000" stroke-width="2"/>
<line x1="1241" y1="1145" x2="1400.5" y2="1145" stroke="#000" stroke-width="2"/>
<line x1="1234.9" y1="1145" x2="1241.9" y2="1145" stroke="#000" stroke-width="2"/>
<text x="1218.55" y="1154.4" font-size="25.5">0</text>
<line x1="1234.9" y1="1057" x2="1241.9" y2="1057" stroke="#000" stroke-width="2"/>
<text x="1218.55" y="1066.4" font-size="25.5">2</text>
<line x1="1234.9" y1="969" x2="1241.9" y2="969" stroke="#000" stroke-width="2"/>
<text x="1218.55" y="978.4" font-size="25.5">4</text>
<line x1="1234.9" y1="881" x2="1241.9" y2="881" stroke="#000" stroke-width="2"/>
<text x="1218.55" y="890.4" font-size="25.5">6</text>
<line x1="1273.9" y1="1145" x2="1273.9" y2="1153" stroke="#000" stroke-width="2"/>
<line x1="1321.6" y1="1145" x2="1321.6" y2="1153" stroke="#000" stroke-width="2"/>
<line x1="1369.3" y1="1145" x2="1369.3" y2="1153" stroke="#000" stroke-width="2"/>
<path d="M1273.7,1020.3 V881 H1321.4 V888.5" stroke="#000" stroke-width="1.5" fill="none"/>
<text x="1268.17" y="874.7" font-size="19.2">0.0086</text>
<text x="0" y="0" font-size="28.3" text-anchor="middle" transform="translate(1176.5 1013) rotate(-90)"><tspan font-style="italic">Irf7</tspan> relative</text>
<text x="0" y="0" font-size="28.3" text-anchor="middle" transform="translate(1209.5 1013) rotate(-90)">fold expression</text>
<text x="0" y="0" font-size="38.5" font-weight="bold" transform="translate(1400.4 796.2) scale(1.04 1)">e</text>
<text x="1465.3" y="798.3" font-size="25.41" font-weight="bold">Intratumoral cytokine levels</text>
<rect x="1585" y="1048.47" width="31.4" height="95.23" fill="#a9a9a9"/>
<rect x="1632.2" y="992.78" width="31" height="150.92" fill="#fe2a7a"/>
<rect x="1679.1" y="1099.99" width="30.9" height="43.71" fill="#0096ff"/>
<line x1="1600.7" y1="1058.87" x2="1600.7" y2="1038.06" stroke="#000" stroke-width="1.5"/>
<line x1="1592.2" y1="1058.87" x2="1609.2" y2="1058.87" stroke="#000" stroke-width="1.5"/>
<line x1="1592.2" y1="1038.06" x2="1609.2" y2="1038.06" stroke="#000" stroke-width="1.5"/>
<circle cx="1595.2" cy="1037.02" r="2.66" fill="#000"/>
<circle cx="1606.2" cy="1031.81" r="2.66" fill="#000"/>
<circle cx="1600.7" cy="1048.47" r="2.66" fill="#000"/>
<circle cx="1600.7" cy="1078.13" r="2.66" fill="#000"/>
<line x1="1647.7" y1="1019.84" x2="1647.7" y2="965.2" stroke="#000" stroke-width="1.5"/>
<line x1="1639.2" y1="1019.84" x2="1656.2" y2="1019.84" stroke="#000" stroke-width="1.5"/>
<line x1="1639.2" y1="965.2" x2="1656.2" y2="965.2" stroke="#000" stroke-width="1.5"/>
<rect x="1645.04" y="940.17" width="5.31" height="5.31" fill="#000"/>
<rect x="1645.04" y="945.89" width="5.31" height="5.31" fill="#000"/>
<rect x="1645.04" y="1027.08" width="5.31" height="5.31" fill="#000"/>
<rect x="1645.04" y="1046.85" width="5.31" height="5.31" fill="#000"/>
<line x1="1694.55" y1="1108.31" x2="1694.55" y2="1091.14" stroke="#000" stroke-width="1.5"/>
<line x1="1686.05" y1="1108.31" x2="1703.05" y2="1108.31" stroke="#000" stroke-width="1.5"/>
<line x1="1686.05" y1="1091.14" x2="1703.05" y2="1091.14" stroke="#000" stroke-width="1.5"/>
<path d="M1694.55,1077.34 L1697.26,1072.49 L1691.84,1072.49Z" fill="#000"/>
<path d="M1694.55,1103.36 L1697.26,1098.51 L1691.84,1098.51Z" fill="#000"/>
<path d="M1688.55,1115.33 L1691.26,1110.48 L1685.84,1110.48Z" fill="#000"/>
<path d="M1699.55,1114.29 L1702.26,1109.44 L1696.84,1109.44Z" fill="#000"/>
<line x1="1570" y1="1145" x2="1570" y2="883.5" stroke="#000" stroke-width="2"/>
<line x1="1569" y1="1144" x2="1725.1" y2="1144" stroke="#000" stroke-width="2"/>
<line x1="1562.5" y1="1143.7" x2="1569.5" y2="1143.7" stroke="#000" stroke-width="2"/>
<text x="1545.59" y="1155.1" font-size="26.5">0</text>
<line x1="1562.5" y1="1091.66" x2="1569.5" y2="1091.66" stroke="#000" stroke-width="2"/>
<text x="1560.3" y="1103.06" font-size="26.5" text-anchor="end">1×10<tspan font-size="0.62em" dy="-0.62em">-4</tspan></text>
<line x1="1562.5" y1="1039.62" x2="1569.5" y2="1039.62" stroke="#000" stroke-width="2"/>
<text x="1560.3" y="1051.02" font-size="26.5" text-anchor="end">2×10<tspan font-size="0.62em" dy="-0.62em">-4</tspan></text>
<line x1="1562.5" y1="987.58" x2="1569.5" y2="987.58" stroke="#000" stroke-width="2"/>
<text x="1560.3" y="998.98" font-size="26.5" text-anchor="end">3×10<tspan font-size="0.62em" dy="-0.62em">-4</tspan></text>
<line x1="1562.5" y1="935.54" x2="1569.5" y2="935.54" stroke="#000" stroke-width="2"/>
<text x="1560.3" y="946.94" font-size="26.5" text-anchor="end">4×10<tspan font-size="0.62em" dy="-0.62em">-4</tspan></text>
<line x1="1562.5" y1="883.5" x2="1569.5" y2="883.5" stroke="#000" stroke-width="2"/>
<text x="1560.3" y="894.9" font-size="26.5" text-anchor="end">5×10<tspan font-size="0.62em" dy="-0.62em">-4</tspan></text>
<line x1="1600.7" y1="1143.7" x2="1600.7" y2="1151.7" stroke="#000" stroke-width="2"/>
<line x1="1647.7" y1="1143.7" x2="1647.7" y2="1151.7" stroke="#000" stroke-width="2"/>
<line x1="1694.55" y1="1143.7" x2="1694.55" y2="1151.7" stroke="#000" stroke-width="2"/>
<text x="0" y="0" font-size="27" text-anchor="middle" transform="translate(1470.5 1003) rotate(-90)">IFN-β(mg/mg tumor)</text>
<rect x="513.7" y="1184.3" width="33.6" height="20.2" fill="#a9a9a9"/>
<text x="562.5" y="1203.2" font-size="22.6">UT</text>
<rect x="627.6" y="1183.8" width="34.4" height="19.6" fill="#fe2a7a"/>
<text x="677" y="1203.2" font-size="22.6">CarboCell TLR:TGFb (d1)</text>
<rect x="963.9" y="1183.8" width="34.1" height="19.6" fill="#0096ff"/>
<text x="1013.4" y="1203.2" font-size="22.6">CarboCell TLR:TGF (d7)</text>
<defs><pattern id="nucA" patternUnits="userSpaceOnUse" width="97" height="89"><ellipse cx="82.2" cy="68.0" rx="1.8" ry="1.4" transform="rotate(81 82.2 68.0)" fill="#a0a6d4" fill-opacity="0.83"/><ellipse cx="2.7" cy="74.4" rx="2.0" ry="1.6" transform="rotate(0 2.7 74.4)" fill="#a0a6d4" fill-opacity="0.64"/><ellipse cx="99.7" cy="74.4" rx="2.0" ry="1.6" transform="rotate(0 99.7 74.4)" fill="#a0a6d4" fill-opacity="0.64"/><ellipse cx="57.3" cy="9.1" rx="1.9" ry="1.1" transform="rotate(117 57.3 9.1)" fill="#858cc6" fill-opacity="0.88"/><ellipse cx="21.0" cy="37.6" rx="1.5" ry="1.3" transform="rotate(79 21.0 37.6)" fill="#a0a6d4" fill-opacity="0.74"/><ellipse cx="65.7" cy="67.7" rx="2.6" ry="1.7" transform="rotate(75 65.7 67.7)" fill="#858cc6" fill-opacity="0.62"/><ellipse cx="83.4" cy="10.8" rx="1.9" ry="1.6" transform="rotate(128 83.4 10.8)" fill="#a0a6d4" fill-opacity="0.73"/><ellipse cx="18.4" cy="25.3" rx="2.7" ry="1.4" transform="rotate(169 18.4 25.3)" fill="#a0a6d4" fill-opacity="0.76"/><ellipse cx="23.5" cy="71.0" rx="2.0" ry="1.2" transform="rotate(99 23.5 71.0)" fill="#7a81c0" fill-opacity="0.58"/><ellipse cx="10.5" cy="14.6" rx="2.5" ry="1.4" transform="rotate(132 10.5 14.6)" fill="#a0a6d4" fill-opacity="0.57"/><ellipse cx="-1.6" cy="52.8" rx="2.0" ry="1.2" transform="rotate(90 -1.6 52.8)" fill="#858cc6" fill-opacity="0.82"/><ellipse cx="95.4" cy="52.8" rx="2.0" ry="1.2" transform="rotate(90 95.4 52.8)" fill="#858cc6" fill-opacity="0.82"/><ellipse cx="83.4" cy="20.7" rx="2.1" ry="1.8" transform="rotate(104 83.4 20.7)" fill="#a0a6d4" fill-opacity="0.87"/><ellipse cx="59.1" cy="64.9" rx="2.0" ry="1.7" transform="rotate(172 59.1 64.9)" fill="#939acd" fill-opacity="0.73"/><ellipse cx="41.3" cy="5.0" rx="2.5" ry="1.5" transform="rotate(36 41.3 5.0)" fill="#a0a6d4" fill-opacity="0.72"/><ellipse cx="41.3" cy="94.0" rx="2.5" ry="1.5" transform="rotate(36 41.3 94.0)" fill="#a0a6d4" fill-opacity="0.72"/><ellipse cx="33.6" cy="47.9" rx="2.2" ry="1.5" transform="rotate(82 33.6 47.9)" fill="#858cc6" fill-opacity="0.83"/><ellipse cx="53.4" cy="16.1" rx="1.6" ry="1.5" transform="rotate(153 53.4 16.1)" fill="#7a81c0" fill-opacity="0.56"/><ellipse cx="6.8" cy="77.3" rx="2.0" ry="1.6" transform="rotate(51 6.8 77.3)" fill="#7a81c0" fill-opacity="0.59"/><ellipse cx="103.8" cy="77.3" rx="2.0" ry="1.6" transform="rotate(51 103.8 77.3)" fill="#7a81c0" fill-opacity="0.59"/><ellipse cx="33.4" cy="6.2" rx="1.7" ry="1.5" transform="rotate(30 33.4 6.2)" fill="#7a81c0" fill-opacity="0.78"/><ellipse cx="33.4" cy="95.2" rx="1.7" ry="1.5" transform="rotate(30 33.4 95.2)" fill="#7a81c0" fill-opacity="0.78"/><ellipse cx="68.2" cy="44.2" rx="1.6" ry="1.3" transform="rotate(62 68.2 44.2)" fill="#939acd" fill-opacity="0.64"/><ellipse cx="70.8" cy="-2.1" rx="2.7" ry="1.4" transform="rotate(176 70.8 -2.1)" fill="#939acd" fill-opacity="0.56"/><ellipse cx="70.8" cy="86.9" rx="2.7" ry="1.4" transform="rotate(176 70.8 86.9)" fill="#939acd" fill-opacity="0.56"/><ellipse cx="69.7" cy="14.3" rx="2.3" ry="1.6" transform="rotate(98 69.7 14.3)" fill="#939acd" fill-opacity="0.89"/><ellipse cx="67.4" cy="40.1" rx="2.1" ry="1.1" transform="rotate(121 67.4 40.1)" fill="#7a81c0" fill-opacity="0.78"/><ellipse cx="71.5" cy="11.2" rx="1.8" ry="1.1" transform="rotate(13 71.5 11.2)" fill="#858cc6" fill-opacity="0.66"/><ellipse cx="72.2" cy="37.0" rx="1.8" ry="1.1" transform="rotate(158 72.2 37.0)" fill="#858cc6" fill-opacity="0.76"/><ellipse cx="87.4" cy="41.0" rx="2.5" ry="1.7" transform="rotate(140 87.4 41.0)" fill="#858cc6" fill-opacity="0.68"/><ellipse cx="20.0" cy="60.0" rx="2.0" ry="1.2" transform="rotate(19 20.0 60.0)" fill="#a0a6d4" fill-opacity="0.65"/><ellipse cx="31.6" cy="77.6" rx="2.6" ry="1.1" transform="rotate(36 31.6 77.6)" fill="#7a81c0" fill-opacity="0.83"/><ellipse cx="13.1" cy="38.2" rx="1.8" ry="1.2" transform="rotate(68 13.1 38.2)" fill="#7a81c0" fill-opacity="0.87"/><ellipse cx="51.8" cy="68.3" rx="2.1" ry="1.1" transform="rotate(7 51.8 68.3)" fill="#939acd" fill-opacity="0.61"/><ellipse cx="20.7" cy="67.6" rx="2.2" ry="1.7" transform="rotate(66 20.7 67.6)" fill="#7a81c0" fill-opacity="0.59"/><ellipse cx="-5.4" cy="69.4" rx="2.4" ry="1.4" transform="rotate(104 -5.4 69.4)" fill="#858cc6" fill-opacity="0.66"/><ellipse cx="91.6" cy="69.4" rx="2.4" ry="1.4" transform="rotate(104 91.6 69.4)" fill="#858cc6" fill-opacity="0.66"/><ellipse cx="36.9" cy="-0.8" rx="1.7" ry="1.2" transform="rotate(21 36.9 -0.8)" fill="#a0a6d4" fill-opacity="0.58"/><ellipse cx="36.9" cy="88.2" rx="1.7" ry="1.2" transform="rotate(21 36.9 88.2)" fill="#a0a6d4" fill-opacity="0.58"/><ellipse cx="54.9" cy="-4.3" rx="1.9" ry="1.3" transform="rotate(96 54.9 -4.3)" fill="#858cc6" fill-opacity="0.71"/><ellipse cx="54.9" cy="84.7" rx="1.9" ry="1.3" transform="rotate(96 54.9 84.7)" fill="#858cc6" fill-opacity="0.71"/><ellipse cx="76.3" cy="73.7" rx="1.5" ry="1.6" transform="rotate(17 76.3 73.7)" fill="#858cc6" fill-opacity="0.84"/><ellipse cx="18.2" cy="69.9" rx="2.2" ry="1.2" transform="rotate(81 18.2 69.9)" fill="#939acd" fill-opacity="0.61"/><ellipse cx="42.2" cy="-3.1" rx="2.5" ry="1.5" transform="rotate(147 42.2 -3.1)" fill="#7a81c0" fill-opacity="0.80"/><ellipse cx="42.2" cy="85.9" rx="2.5" ry="1.5" transform="rotate(147 42.2 85.9)" fill="#7a81c0" fill-opacity="0.80"/><ellipse cx="20.1" cy="28.3" rx="1.5" ry="1.7" transform="rotate(167 20.1 28.3)" fill="#7a81c0" fill-opacity="0.71"/><ellipse cx="6.1" cy="-7.7" rx="2.7" ry="1.8" transform="rotate(20 6.1 -7.7)" fill="#939acd" fill-opacity="0.82"/><ellipse cx="6.1" cy="81.3" rx="2.7" ry="1.8" transform="rotate(20 6.1 81.3)" fill="#939acd" fill-opacity="0.82"/><ellipse cx="103.1" cy="-7.7" rx="2.7" ry="1.8" transform="rotate(20 103.1 -7.7)" fill="#939acd" fill-opacity="0.82"/><ellipse cx="103.1" cy="81.3" rx="2.7" ry="1.8" transform="rotate(20 103.1 81.3)" fill="#939acd" fill-opacity="0.82"/><ellipse cx="86.4" cy="77.2" rx="2.1" ry="1.3" transform="rotate(33 86.4 77.2)" fill="#939acd" fill-opacity="0.66"/><ellipse cx="7.9" cy="25.0" rx="2.7" ry="1.4" transform="rotate(117 7.9 25.0)" fill="#7a81c0" fill-opacity="0.88"/><ellipse cx="104.9" cy="25.0" rx="2.7" ry="1.4" transform="rotate(117 104.9 25.0)" fill="#7a81c0" fill-opacity="0.88"/><ellipse cx="29.8" cy="29.1" rx="1.9" ry="1.7" transform="rotate(161 29.8 29.1)" fill="#7a81c0" fill-opacity="0.64"/><ellipse cx="59.3" cy="71.9" rx="1.6" ry="1.3" transform="rotate(145 59.3 71.9)" fill="#a0a6d4" fill-opacity="0.58"/><ellipse cx="6.9" cy="6.7" rx="2.3" ry="1.3" transform="rotate(143 6.9 6.7)" fill="#a0a6d4" fill-opacity="0.71"/><ellipse cx="6.9" cy="95.7" rx="2.3" ry="1.3" transform="rotate(143 6.9 95.7)" fill="#a0a6d4" fill-opacity="0.71"/><ellipse cx="103.9" cy="6.7" rx="2.3" ry="1.3" transform="rotate(143 103.9 6.7)" fill="#a0a6d4" fill-opacity="0.71"/><ellipse cx="103.9" cy="95.7" rx="2.3" ry="1.3" transform="rotate(143 103.9 95.7)" fill="#a0a6d4" fill-opacity="0.71"/><ellipse cx="9.8" cy="69.2" rx="1.9" ry="1.5" transform="rotate(120 9.8 69.2)" fill="#939acd" fill-opacity="0.82"/><ellipse cx="79.7" cy="28.5" rx="1.6" ry="1.5" transform="rotate(165 79.7 28.5)" fill="#7a81c0" fill-opacity="0.59"/><ellipse cx="52.9" cy="64.3" rx="2.4" ry="1.7" transform="rotate(112 52.9 64.3)" fill="#939acd" fill-opacity="0.61"/><ellipse cx="15.3" cy="63.6" rx="2.3" ry="1.3" transform="rotate(12 15.3 63.6)" fill="#a0a6d4" fill-opacity="0.83"/><ellipse cx="52.5" cy="75.8" rx="2.0" ry="1.4" transform="rotate(61 52.5 75.8)" fill="#7a81c0" fill-opacity="0.72"/><ellipse cx="-6.5" cy="-2.1" rx="1.5" ry="1.6" transform="rotate(104 -6.5 -2.1)" fill="#939acd" fill-opacity="0.60"/><ellipse cx="-6.5" cy="86.9" rx="1.5" ry="1.6" transform="rotate(104 -6.5 86.9)" fill="#939acd" fill-opacity="0.60"/><ellipse cx="90.5" cy="-2.1" rx="1.5" ry="1.6" transform="rotate(104 90.5 -2.1)" fill="#939acd" fill-opacity="0.60"/><ellipse cx="90.5" cy="86.9" rx="1.5" ry="1.6" transform="rotate(104 90.5 86.9)" fill="#939acd" fill-opacity="0.60"/><ellipse cx="26.9" cy="50.2" rx="1.7" ry="1.2" transform="rotate(87 26.9 50.2)" fill="#939acd" fill-opacity="0.74"/><ellipse cx="62.9" cy="39.0" rx="2.3" ry="1.6" transform="rotate(43 62.9 39.0)" fill="#a0a6d4" fill-opacity="0.79"/><ellipse cx="69.1" cy="30.0" rx="2.2" ry="1.6" transform="rotate(118 69.1 30.0)" fill="#939acd" fill-opacity="0.57"/><ellipse cx="49.6" cy="78.1" rx="1.7" ry="1.6" transform="rotate(159 49.6 78.1)" fill="#7a81c0" fill-opacity="0.65"/><ellipse cx="53.6" cy="14.7" rx="2.3" ry="1.4" transform="rotate(15 53.6 14.7)" fill="#858cc6" fill-opacity="0.86"/><ellipse cx="55.4" cy="15.7" rx="1.8" ry="1.3" transform="rotate(103 55.4 15.7)" fill="#858cc6" fill-opacity="0.72"/><ellipse cx="61.8" cy="34.2" rx="2.5" ry="1.5" transform="rotate(179 61.8 34.2)" fill="#858cc6" fill-opacity="0.83"/><ellipse cx="26.0" cy="-7.8" rx="2.7" ry="1.2" transform="rotate(140 26.0 -7.8)" fill="#858cc6" fill-opacity="0.71"/><ellipse cx="26.0" cy="81.2" rx="2.7" ry="1.2" transform="rotate(140 26.0 81.2)" fill="#858cc6" fill-opacity="0.71"/><ellipse cx="-2.8" cy="34.0" rx="2.5" ry="1.4" transform="rotate(30 -2.8 34.0)" fill="#7a81c0" fill-opacity="0.70"/><ellipse cx="94.2" cy="34.0" rx="2.5" ry="1.4" transform="rotate(30 94.2 34.0)" fill="#7a81c0" fill-opacity="0.70"/><ellipse cx="47.3" cy="18.9" rx="2.0" ry="1.5" transform="rotate(164 47.3 18.9)" fill="#7a81c0" fill-opacity="0.65"/><ellipse cx="54.3" cy="-3.6" rx="2.1" ry="1.5" transform="rotate(6 54.3 -3.6)" fill="#939acd" fill-opacity="0.84"/><ellipse cx="54.3" cy="85.4" rx="2.1" ry="1.5" transform="rotate(6 54.3 85.4)" fill="#939acd" fill-opacity="0.84"/><ellipse cx="27.6" cy="48.3" rx="1.8" ry="1.5" transform="rotate(45 27.6 48.3)" fill="#a0a6d4" fill-opacity="0.83"/><ellipse cx="-2.6" cy="48.5" rx="2.1" ry="1.7" transform="rotate(138 -2.6 48.5)" fill="#a0a6d4" fill-opacity="0.62"/><ellipse cx="94.4" cy="48.5" rx="2.1" ry="1.7" transform="rotate(138 94.4 48.5)" fill="#a0a6d4" fill-opacity="0.62"/><ellipse cx="87.7" cy="2.1" rx="2.2" ry="1.1" transform="rotate(53 87.7 2.1)" fill="#939acd" fill-opacity="0.58"/><ellipse cx="87.7" cy="91.1" rx="2.2" ry="1.1" transform="rotate(53 87.7 91.1)" fill="#939acd" fill-opacity="0.58"/><ellipse cx="78.1" cy="38.9" rx="2.3" ry="1.6" transform="rotate(58 78.1 38.9)" fill="#858cc6" fill-opacity="0.70"/><ellipse cx="29.6" cy="35.5" rx="2.4" ry="1.6" transform="rotate(89 29.6 35.5)" fill="#a0a6d4" fill-opacity="0.68"/><ellipse cx="-0.5" cy="56.6" rx="2.4" ry="1.6" transform="rotate(131 -0.5 56.6)" fill="#939acd" fill-opacity="0.90"/><ellipse cx="96.5" cy="56.6" rx="2.4" ry="1.6" transform="rotate(131 96.5 56.6)" fill="#939acd" fill-opacity="0.90"/><ellipse cx="81.0" cy="36.4" rx="2.4" ry="1.8" transform="rotate(55 81.0 36.4)" fill="#939acd" fill-opacity="0.71"/><ellipse cx="19.1" cy="46.8" rx="2.3" ry="1.5" transform="rotate(175 19.1 46.8)" fill="#7a81c0" fill-opacity="0.85"/><ellipse cx="71.2" cy="79.9" rx="2.4" ry="1.4" transform="rotate(134 71.2 79.9)" fill="#7a81c0" fill-opacity="0.77"/><ellipse cx="61.0" cy="56.4" rx="2.6" ry="1.6" transform="rotate(152 61.0 56.4)" fill="#858cc6" fill-opacity="0.84"/><ellipse cx="33.9" cy="23.5" rx="2.3" ry="1.7" transform="rotate(98 33.9 23.5)" fill="#939acd" fill-opacity="0.71"/><ellipse cx="16.5" cy="45.4" rx="1.8" ry="1.2" transform="rotate(106 16.5 45.4)" fill="#858cc6" fill-opacity="0.67"/><ellipse cx="1.9" cy="45.1" rx="2.6" ry="1.6" transform="rotate(72 1.9 45.1)" fill="#7a81c0" fill-opacity="0.76"/><ellipse cx="98.9" cy="45.1" rx="2.6" ry="1.6" transform="rotate(72 98.9 45.1)" fill="#7a81c0" fill-opacity="0.76"/><ellipse cx="20.1" cy="78.9" rx="1.8" ry="1.2" transform="rotate(150 20.1 78.9)" fill="#7a81c0" fill-opacity="0.71"/><ellipse cx="4.8" cy="26.4" rx="2.4" ry="1.8" transform="rotate(100 4.8 26.4)" fill="#7a81c0" fill-opacity="0.76"/><ellipse cx="101.8" cy="26.4" rx="2.4" ry="1.8" transform="rotate(100 101.8 26.4)" fill="#7a81c0" fill-opacity="0.76"/><ellipse cx="54.4" cy="15.3" rx="2.4" ry="1.7" transform="rotate(59 54.4 15.3)" fill="#939acd" fill-opacity="0.64"/><ellipse cx="23.7" cy="58.8" rx="2.5" ry="1.7" transform="rotate(72 23.7 58.8)" fill="#a0a6d4" fill-opacity="0.88"/><ellipse cx="26.1" cy="6.5" rx="2.4" ry="1.7" transform="rotate(104 26.1 6.5)" fill="#939acd" fill-opacity="0.76"/><ellipse cx="26.1" cy="95.5" rx="2.4" ry="1.7" transform="rotate(104 26.1 95.5)" fill="#939acd" fill-opacity="0.76"/><ellipse cx="51.1" cy="12.3" rx="1.7" ry="1.6" transform="rotate(65 51.1 12.3)" fill="#a0a6d4" fill-opacity="0.63"/><ellipse cx="69.7" cy="27.2" rx="1.6" ry="1.4" transform="rotate(89 69.7 27.2)" fill="#858cc6" fill-opacity="0.88"/><ellipse cx="78.5" cy="2.1" rx="2.4" ry="1.6" transform="rotate(89 78.5 2.1)" fill="#a0a6d4" fill-opacity="0.67"/><ellipse cx="78.5" cy="91.1" rx="2.4" ry="1.6" transform="rotate(89 78.5 91.1)" fill="#a0a6d4" fill-opacity="0.67"/><ellipse cx="11.5" cy="61.6" rx="1.6" ry="1.4" transform="rotate(89 11.5 61.6)" fill="#a0a6d4" fill-opacity="0.81"/><ellipse cx="22.9" cy="25.2" rx="2.2" ry="1.4" transform="rotate(81 22.9 25.2)" fill="#7a81c0" fill-opacity="0.67"/><ellipse cx="88.2" cy="-0.5" rx="1.6" ry="1.7" transform="rotate(154 88.2 -0.5)" fill="#7a81c0" fill-opacity="0.86"/><ellipse cx="88.2" cy="88.5" rx="1.6" ry="1.7" transform="rotate(154 88.2 88.5)" fill="#7a81c0" fill-opacity="0.86"/><ellipse cx="27.9" cy="17.4" rx="1.7" ry="1.7" transform="rotate(116 27.9 17.4)" fill="#858cc6" fill-opacity="0.56"/><ellipse cx="64.5" cy="5.1" rx="2.0" ry="1.2" transform="rotate(83 64.5 5.1)" fill="#7a81c0" fill-opacity="0.87"/><ellipse cx="64.5" cy="94.1" rx="2.0" ry="1.2" transform="rotate(83 64.5 94.1)" fill="#7a81c0" fill-opacity="0.87"/><ellipse cx="5.9" cy="74.8" rx="1.6" ry="1.3" transform="rotate(21 5.9 74.8)" fill="#858cc6" fill-opacity="0.62"/><ellipse cx="102.9" cy="74.8" rx="1.6" ry="1.3" transform="rotate(21 102.9 74.8)" fill="#858cc6" fill-opacity="0.62"/><ellipse cx="12.6" cy="24.9" rx="2.5" ry="1.2" transform="rotate(81 12.6 24.9)" fill="#7a81c0" fill-opacity="0.77"/><ellipse cx="62.2" cy="21.6" rx="1.6" ry="1.8" transform="rotate(106 62.2 21.6)" fill="#7a81c0" fill-opacity="0.70"/><ellipse cx="61.9" cy="-2.7" rx="2.6" ry="1.5" transform="rotate(97 61.9 -2.7)" fill="#a0a6d4" fill-opacity="0.87"/><ellipse cx="61.9" cy="86.3" rx="2.6" ry="1.5" transform="rotate(97 61.9 86.3)" fill="#a0a6d4" fill-opacity="0.87"/><ellipse cx="25.9" cy="54.3" rx="2.7" ry="1.2" transform="rotate(32 25.9 54.3)" fill="#858cc6" fill-opacity="0.60"/><ellipse cx="82.9" cy="75.8" rx="1.6" ry="1.2" transform="rotate(146 82.9 75.8)" fill="#a0a6d4" fill-opacity="0.73"/><ellipse cx="30.3" cy="11.3" rx="1.5" ry="1.6" transform="rotate(161 30.3 11.3)" fill="#a0a6d4" fill-opacity="0.56"/><ellipse cx="8.8" cy="71.2" rx="1.6" ry="1.1" transform="rotate(69 8.8 71.2)" fill="#7a81c0" fill-opacity="0.66"/><ellipse cx="77.1" cy="71.8" rx="2.5" ry="1.3" transform="rotate(76 77.1 71.8)" fill="#939acd" fill-opacity="0.73"/><ellipse cx="-7.5" cy="45.3" rx="2.0" ry="1.7" transform="rotate(87 -7.5 45.3)" fill="#939acd" fill-opacity="0.78"/><ellipse cx="89.5" cy="45.3" rx="2.0" ry="1.7" transform="rotate(87 89.5 45.3)" fill="#939acd" fill-opacity="0.78"/><ellipse cx="-1.2" cy="64.0" rx="2.5" ry="1.6" transform="rotate(96 -1.2 64.0)" fill="#7a81c0" fill-opacity="0.81"/><ellipse cx="95.8" cy="64.0" rx="2.5" ry="1.6" transform="rotate(96 95.8 64.0)" fill="#7a81c0" fill-opacity="0.81"/><ellipse cx="37.8" cy="28.9" rx="2.0" ry="1.2" transform="rotate(12 37.8 28.9)" fill="#7a81c0" fill-opacity="0.84"/><ellipse cx="30.4" cy="26.6" rx="1.9" ry="1.3" transform="rotate(135 30.4 26.6)" fill="#858cc6" fill-opacity="0.73"/><ellipse cx="88.7" cy="29.0" rx="1.9" ry="1.1" transform="rotate(176 88.7 29.0)" fill="#a0a6d4" fill-opacity="0.71"/><ellipse cx="71.9" cy="33.9" rx="2.6" ry="1.2" transform="rotate(104 71.9 33.9)" fill="#858cc6" fill-opacity="0.60"/><ellipse cx="55.8" cy="-0.7" rx="2.4" ry="1.6" transform="rotate(134 55.8 -0.7)" fill="#7a81c0" fill-opacity="0.90"/><ellipse cx="55.8" cy="88.3" rx="2.4" ry="1.6" transform="rotate(134 55.8 88.3)" fill="#7a81c0" fill-opacity="0.90"/><ellipse cx="35.9" cy="27.4" rx="2.2" ry="1.3" transform="rotate(91 35.9 27.4)" fill="#858cc6" fill-opacity="0.60"/><ellipse cx="54.6" cy="80.7" rx="1.7" ry="1.4" transform="rotate(131 54.6 80.7)" fill="#858cc6" fill-opacity="0.83"/><ellipse cx="66.1" cy="63.6" rx="1.7" ry="1.1" transform="rotate(103 66.1 63.6)" fill="#858cc6" fill-opacity="0.85"/><ellipse cx="21.1" cy="74.6" rx="2.1" ry="1.4" transform="rotate(106 21.1 74.6)" fill="#a0a6d4" fill-opacity="0.80"/><ellipse cx="86.5" cy="53.2" rx="2.5" ry="1.7" transform="rotate(77 86.5 53.2)" fill="#7a81c0" fill-opacity="0.74"/><ellipse cx="77.4" cy="64.6" rx="2.5" ry="1.8" transform="rotate(46 77.4 64.6)" fill="#939acd" fill-opacity="0.55"/><ellipse cx="36.9" cy="78.0" rx="1.6" ry="1.5" transform="rotate(92 36.9 78.0)" fill="#a0a6d4" fill-opacity="0.56"/><ellipse cx="44.5" cy="16.9" rx="1.9" ry="1.6" transform="rotate(1 44.5 16.9)" fill="#858cc6" fill-opacity="0.84"/><ellipse cx="-0.6" cy="28.1" rx="2.4" ry="1.6" transform="rotate(179 -0.6 28.1)" fill="#7a81c0" fill-opacity="0.73"/><ellipse cx="96.4" cy="28.1" rx="2.4" ry="1.6" transform="rotate(179 96.4 28.1)" fill="#7a81c0" fill-opacity="0.73"/><ellipse cx="79.4" cy="-4.2" rx="2.0" ry="1.5" transform="rotate(55 79.4 -4.2)" fill="#7a81c0" fill-opacity="0.60"/><ellipse cx="79.4" cy="84.8" rx="2.0" ry="1.5" transform="rotate(55 79.4 84.8)" fill="#7a81c0" fill-opacity="0.60"/><ellipse cx="13.6" cy="68.8" rx="2.7" ry="1.3" transform="rotate(2 13.6 68.8)" fill="#a0a6d4" fill-opacity="0.81"/><ellipse cx="35.7" cy="35.8" rx="2.6" ry="1.7" transform="rotate(121 35.7 35.8)" fill="#858cc6" fill-opacity="0.87"/><ellipse cx="37.2" cy="41.3" rx="2.5" ry="1.4" transform="rotate(135 37.2 41.3)" fill="#a0a6d4" fill-opacity="0.82"/><ellipse cx="77.9" cy="43.1" rx="1.7" ry="1.2" transform="rotate(179 77.9 43.1)" fill="#7a81c0" fill-opacity="0.68"/><ellipse cx="76.3" cy="-4.5" rx="2.0" ry="1.8" transform="rotate(52 76.3 -4.5)" fill="#a0a6d4" fill-opacity="0.79"/><ellipse cx="76.3" cy="84.5" rx="2.0" ry="1.8" transform="rotate(52 76.3 84.5)" fill="#a0a6d4" fill-opacity="0.79"/><ellipse cx="75.4" cy="43.2" rx="2.4" ry="1.4" transform="rotate(175 75.4 43.2)" fill="#a0a6d4" fill-opacity="0.58"/><ellipse cx="-3.2" cy="20.4" rx="1.5" ry="1.3" transform="rotate(86 -3.2 20.4)" fill="#858cc6" fill-opacity="0.69"/><ellipse cx="93.8" cy="20.4" rx="1.5" ry="1.3" transform="rotate(86 93.8 20.4)" fill="#858cc6" fill-opacity="0.69"/><ellipse cx="80.9" cy="7.9" rx="2.2" ry="1.8" transform="rotate(99 80.9 7.9)" fill="#a0a6d4" fill-opacity="0.67"/><ellipse cx="80.9" cy="96.9" rx="2.2" ry="1.8" transform="rotate(99 80.9 96.9)" fill="#a0a6d4" fill-opacity="0.67"/><ellipse cx="-2.9" cy="9.2" rx="2.2" ry="1.4" transform="rotate(121 -2.9 9.2)" fill="#858cc6" fill-opacity="0.90"/><ellipse cx="94.1" cy="9.2" rx="2.2" ry="1.4" transform="rotate(121 94.1 9.2)" fill="#858cc6" fill-opacity="0.90"/><ellipse cx="17.4" cy="71.7" rx="2.3" ry="1.1" transform="rotate(39 17.4 71.7)" fill="#858cc6" fill-opacity="0.85"/><ellipse cx="43.4" cy="60.7" rx="2.1" ry="1.4" transform="rotate(109 43.4 60.7)" fill="#a0a6d4" fill-opacity="0.59"/><ellipse cx="87.8" cy="17.9" rx="2.1" ry="1.4" transform="rotate(160 87.8 17.9)" fill="#7a81c0" fill-opacity="0.85"/><ellipse cx="78.6" cy="-7.7" rx="2.4" ry="1.5" transform="rotate(155 78.6 -7.7)" fill="#858cc6" fill-opacity="0.55"/><ellipse cx="78.6" cy="81.3" rx="2.4" ry="1.5" transform="rotate(155 78.6 81.3)" fill="#858cc6" fill-opacity="0.55"/><ellipse cx="63.8" cy="-6.6" rx="2.7" ry="1.3" transform="rotate(97 63.8 -6.6)" fill="#a0a6d4" fill-opacity="0.65"/><ellipse cx="63.8" cy="82.4" rx="2.7" ry="1.3" transform="rotate(97 63.8 82.4)" fill="#a0a6d4" fill-opacity="0.65"/><ellipse cx="9.8" cy="45.2" rx="1.8" ry="1.3" transform="rotate(27 9.8 45.2)" fill="#7a81c0" fill-opacity="0.62"/><ellipse cx="58.1" cy="-3.6" rx="2.1" ry="1.5" transform="rotate(27 58.1 -3.6)" fill="#a0a6d4" fill-opacity="0.64"/><ellipse cx="58.1" cy="85.4" rx="2.1" ry="1.5" transform="rotate(27 58.1 85.4)" fill="#a0a6d4" fill-opacity="0.64"/><ellipse cx="29.7" cy="43.7" rx="2.1" ry="1.5" transform="rotate(43 29.7 43.7)" fill="#939acd" fill-opacity="0.76"/><ellipse cx="85.4" cy="61.8" rx="2.1" ry="1.1" transform="rotate(59 85.4 61.8)" fill="#939acd" fill-opacity="0.78"/><ellipse cx="86.5" cy="28.1" rx="2.1" ry="1.3" transform="rotate(23 86.5 28.1)" fill="#939acd" fill-opacity="0.79"/><ellipse cx="61.6" cy="73.8" rx="1.6" ry="1.2" transform="rotate(21 61.6 73.8)" fill="#939acd" fill-opacity="0.73"/><ellipse cx="29.9" cy="29.2" rx="2.4" ry="1.7" transform="rotate(148 29.9 29.2)" fill="#939acd" fill-opacity="0.58"/><ellipse cx="66.0" cy="-1.3" rx="1.9" ry="1.5" transform="rotate(93 66.0 -1.3)" fill="#858cc6" fill-opacity="0.59"/><ellipse cx="66.0" cy="87.7" rx="1.9" ry="1.5" transform="rotate(93 66.0 87.7)" fill="#858cc6" fill-opacity="0.59"/><ellipse cx="11.0" cy="80.0" rx="1.7" ry="1.5" transform="rotate(62 11.0 80.0)" fill="#858cc6" fill-opacity="0.80"/><ellipse cx="30.8" cy="24.0" rx="1.6" ry="1.1" transform="rotate(25 30.8 24.0)" fill="#a0a6d4" fill-opacity="0.68"/><ellipse cx="67.1" cy="8.4" rx="1.9" ry="1.1" transform="rotate(160 67.1 8.4)" fill="#858cc6" fill-opacity="0.67"/><ellipse cx="62.2" cy="75.1" rx="2.2" ry="1.7" transform="rotate(73 62.2 75.1)" fill="#a0a6d4" fill-opacity="0.75"/><ellipse cx="38.2" cy="80.0" rx="2.3" ry="1.5" transform="rotate(10 38.2 80.0)" fill="#858cc6" fill-opacity="0.61"/><ellipse cx="42.2" cy="48.6" rx="1.8" ry="1.3" transform="rotate(95 42.2 48.6)" fill="#a0a6d4" fill-opacity="0.59"/><ellipse cx="72.3" cy="6.1" rx="2.7" ry="1.4" transform="rotate(100 72.3 6.1)" fill="#858cc6" fill-opacity="0.77"/><ellipse cx="72.3" cy="95.1" rx="2.7" ry="1.4" transform="rotate(100 72.3 95.1)" fill="#858cc6" fill-opacity="0.77"/><ellipse cx="12.8" cy="6.6" rx="2.2" ry="1.6" transform="rotate(149 12.8 6.6)" fill="#a0a6d4" fill-opacity="0.84"/><ellipse cx="12.8" cy="95.6" rx="2.2" ry="1.6" transform="rotate(149 12.8 95.6)" fill="#a0a6d4" fill-opacity="0.84"/><ellipse cx="32.5" cy="79.1" rx="1.7" ry="1.7" transform="rotate(69 32.5 79.1)" fill="#a0a6d4" fill-opacity="0.69"/><ellipse cx="14.1" cy="26.3" rx="2.3" ry="1.5" transform="rotate(172 14.1 26.3)" fill="#858cc6" fill-opacity="0.87"/><ellipse cx="36.8" cy="50.0" rx="2.6" ry="1.4" transform="rotate(140 36.8 50.0)" fill="#a0a6d4" fill-opacity="0.65"/><ellipse cx="39.4" cy="41.1" rx="1.6" ry="1.6" transform="rotate(116 39.4 41.1)" fill="#858cc6" fill-opacity="0.83"/><ellipse cx="57.0" cy="47.2" rx="2.4" ry="1.5" transform="rotate(141 57.0 47.2)" fill="#7a81c0" fill-opacity="0.83"/><ellipse cx="23.8" cy="71.9" rx="1.8" ry="1.5" transform="rotate(64 23.8 71.9)" fill="#939acd" fill-opacity="0.59"/><ellipse cx="68.3" cy="37.6" rx="2.4" ry="1.3" transform="rotate(113 68.3 37.6)" fill="#858cc6" fill-opacity="0.77"/><ellipse cx="34.8" cy="67.1" rx="1.9" ry="1.7" transform="rotate(43 34.8 67.1)" fill="#939acd" fill-opacity="0.57"/><ellipse cx="86.5" cy="15.3" rx="2.3" ry="1.4" transform="rotate(61 86.5 15.3)" fill="#858cc6" fill-opacity="0.89"/><ellipse cx="87.0" cy="34.1" rx="2.5" ry="1.2" transform="rotate(129 87.0 34.1)" fill="#858cc6" fill-opacity="0.64"/><ellipse cx="31.9" cy="21.8" rx="2.3" ry="1.6" transform="rotate(67 31.9 21.8)" fill="#939acd" fill-opacity="0.70"/><ellipse cx="11.7" cy="43.5" rx="1.8" ry="1.2" transform="rotate(2 11.7 43.5)" fill="#a0a6d4" fill-opacity="0.59"/><ellipse cx="7.2" cy="16.3" rx="2.4" ry="1.6" transform="rotate(144 7.2 16.3)" fill="#7a81c0" fill-opacity="0.87"/><ellipse cx="104.2" cy="16.3" rx="2.4" ry="1.6" transform="rotate(144 104.2 16.3)" fill="#7a81c0" fill-opacity="0.87"/><ellipse cx="50.9" cy="9.4" rx="1.8" ry="1.4" transform="rotate(146 50.9 9.4)" fill="#939acd" fill-opacity="0.74"/><ellipse cx="0.5" cy="71.5" rx="2.7" ry="1.7" transform="rotate(119 0.5 71.5)" fill="#7a81c0" fill-opacity="0.78"/><ellipse cx="97.5" cy="71.5" rx="2.7" ry="1.7" transform="rotate(119 97.5 71.5)" fill="#7a81c0" fill-opacity="0.78"/><ellipse cx="52.0" cy="49.6" rx="1.7" ry="1.4" transform="rotate(4 52.0 49.6)" fill="#939acd" fill-opacity="0.70"/><ellipse cx="-6.2" cy="64.5" rx="2.3" ry="1.6" transform="rotate(118 -6.2 64.5)" fill="#858cc6" fill-opacity="0.64"/><ellipse cx="90.8" cy="64.5" rx="2.3" ry="1.6" transform="rotate(118 90.8 64.5)" fill="#858cc6" fill-opacity="0.64"/><ellipse cx="11.6" cy="57.3" rx="2.0" ry="1.5" transform="rotate(115 11.6 57.3)" fill="#a0a6d4" fill-opacity="0.57"/><ellipse cx="75.4" cy="1.9" rx="2.5" ry="1.4" transform="rotate(130 75.4 1.9)" fill="#939acd" fill-opacity="0.76"/><ellipse cx="75.4" cy="90.9" rx="2.5" ry="1.4" transform="rotate(130 75.4 90.9)" fill="#939acd" fill-opacity="0.76"/><ellipse cx="68.6" cy="28.3" rx="2.1" ry="1.4" transform="rotate(90 68.6 28.3)" fill="#a0a6d4" fill-opacity="0.74"/><ellipse cx="67.8" cy="71.9" rx="2.1" ry="1.3" transform="rotate(167 67.8 71.9)" fill="#7a81c0" fill-opacity="0.75"/><ellipse cx="75.7" cy="55.4" rx="2.4" ry="1.3" transform="rotate(26 75.7 55.4)" fill="#7a81c0" fill-opacity="0.64"/><ellipse cx="54.9" cy="1.2" rx="2.6" ry="1.8" transform="rotate(41 54.9 1.2)" fill="#858cc6" fill-opacity="0.83"/><ellipse cx="54.9" cy="90.2" rx="2.6" ry="1.8" transform="rotate(41 54.9 90.2)" fill="#858cc6" fill-opacity="0.83"/><ellipse cx="19.2" cy="38.2" rx="2.5" ry="1.5" transform="rotate(100 19.2 38.2)" fill="#a0a6d4" fill-opacity="0.80"/><ellipse cx="-6.3" cy="13.6" rx="2.3" ry="1.1" transform="rotate(73 -6.3 13.6)" fill="#a0a6d4" fill-opacity="0.79"/><ellipse cx="90.7" cy="13.6" rx="2.3" ry="1.1" transform="rotate(73 90.7 13.6)" fill="#a0a6d4" fill-opacity="0.79"/><ellipse cx="12.5" cy="47.9" rx="1.6" ry="1.3" transform="rotate(69 12.5 47.9)" fill="#7a81c0" fill-opacity="0.62"/><ellipse cx="38.5" cy="66.7" rx="1.7" ry="1.3" transform="rotate(26 38.5 66.7)" fill="#a0a6d4" fill-opacity="0.74"/><ellipse cx="80.3" cy="18.6" rx="2.1" ry="1.3" transform="rotate(146 80.3 18.6)" fill="#858cc6" fill-opacity="0.77"/><ellipse cx="24.7" cy="5.2" rx="2.5" ry="1.3" transform="rotate(146 24.7 5.2)" fill="#858cc6" fill-opacity="0.59"/><ellipse cx="24.7" cy="94.2" rx="2.5" ry="1.3" transform="rotate(146 24.7 94.2)" fill="#858cc6" fill-opacity="0.59"/><ellipse cx="56.9" cy="66.3" rx="2.1" ry="1.4" transform="rotate(164 56.9 66.3)" fill="#939acd" fill-opacity="0.84"/><ellipse cx="-7.5" cy="11.9" rx="2.4" ry="1.3" transform="rotate(1 -7.5 11.9)" fill="#858cc6" fill-opacity="0.83"/><ellipse cx="89.5" cy="11.9" rx="2.4" ry="1.3" transform="rotate(1 89.5 11.9)" fill="#858cc6" fill-opacity="0.83"/><ellipse cx="54.6" cy="59.0" rx="2.2" ry="1.3" transform="rotate(7 54.6 59.0)" fill="#939acd" fill-opacity="0.79"/><ellipse cx="48.8" cy="76.1" rx="2.7" ry="1.6" transform="rotate(76 48.8 76.1)" fill="#7a81c0" fill-opacity="0.72"/><ellipse cx="80.9" cy="16.6" rx="1.5" ry="1.6" transform="rotate(88 80.9 16.6)" fill="#a0a6d4" fill-opacity="0.84"/><ellipse cx="-7.3" cy="80.8" rx="1.6" ry="1.6" transform="rotate(8 -7.3 80.8)" fill="#a0a6d4" fill-opacity="0.84"/><ellipse cx="89.7" cy="80.8" rx="1.6" ry="1.6" transform="rotate(8 89.7 80.8)" fill="#a0a6d4" fill-opacity="0.84"/><ellipse cx="16.8" cy="44.7" rx="2.5" ry="1.4" transform="rotate(65 16.8 44.7)" fill="#939acd" fill-opacity="0.68"/><ellipse cx="-1.8" cy="69.1" rx="1.6" ry="1.7" transform="rotate(83 -1.8 69.1)" fill="#939acd" fill-opacity="0.86"/><ellipse cx="95.2" cy="69.1" rx="1.6" ry="1.7" transform="rotate(83 95.2 69.1)" fill="#939acd" fill-opacity="0.86"/><ellipse cx="-6.0" cy="41.8" rx="2.2" ry="1.1" transform="rotate(156 -6.0 41.8)" fill="#a0a6d4" fill-opacity="0.58"/><ellipse cx="91.0" cy="41.8" rx="2.2" ry="1.1" transform="rotate(156 91.0 41.8)" fill="#a0a6d4" fill-opacity="0.58"/><ellipse cx="49.6" cy="50.9" rx="1.9" ry="1.3" transform="rotate(63 49.6 50.9)" fill="#858cc6" fill-opacity="0.74"/><ellipse cx="46.3" cy="38.0" rx="2.2" ry="1.3" transform="rotate(27 46.3 38.0)" fill="#7a81c0" fill-opacity="0.57"/><ellipse cx="76.7" cy="32.1" rx="2.0" ry="1.5" transform="rotate(4 76.7 32.1)" fill="#858cc6" fill-opacity="0.56"/><ellipse cx="9.8" cy="29.6" rx="2.6" ry="1.6" transform="rotate(6 9.8 29.6)" fill="#7a81c0" fill-opacity="0.75"/><ellipse cx="61.5" cy="75.4" rx="2.0" ry="1.5" transform="rotate(146 61.5 75.4)" fill="#858cc6" fill-opacity="0.87"/><ellipse cx="35.0" cy="13.0" rx="2.2" ry="1.5" transform="rotate(73 35.0 13.0)" fill="#a0a6d4" fill-opacity="0.84"/><ellipse cx="82.6" cy="54.2" rx="1.5" ry="1.1" transform="rotate(114 82.6 54.2)" fill="#7a81c0" fill-opacity="0.81"/><ellipse cx="27.5" cy="69.9" rx="1.6" ry="1.6" transform="rotate(163 27.5 69.9)" fill="#7a81c0" fill-opacity="0.69"/><ellipse cx="53.4" cy="57.1" rx="1.8" ry="1.2" transform="rotate(130 53.4 57.1)" fill="#858cc6" fill-opacity="0.81"/><ellipse cx="84.7" cy="-2.1" rx="2.5" ry="1.2" transform="rotate(57 84.7 -2.1)" fill="#7a81c0" fill-opacity="0.85"/><ellipse cx="84.7" cy="86.9" rx="2.5" ry="1.2" transform="rotate(57 84.7 86.9)" fill="#7a81c0" fill-opacity="0.85"/><ellipse cx="42.9" cy="32.4" rx="2.4" ry="1.1" transform="rotate(57 42.9 32.4)" fill="#939acd" fill-opacity="0.86"/><ellipse cx="57.1" cy="59.1" rx="2.5" ry="1.4" transform="rotate(175 57.1 59.1)" fill="#939acd" fill-opacity="0.63"/><ellipse cx="-2.5" cy="45.1" rx="2.4" ry="1.4" transform="rotate(141 -2.5 45.1)" fill="#7a81c0" fill-opacity="0.89"/><ellipse cx="94.5" cy="45.1" rx="2.4" ry="1.4" transform="rotate(141 94.5 45.1)" fill="#7a81c0" fill-opacity="0.89"/><ellipse cx="-3.5" cy="64.4" rx="1.8" ry="1.8" transform="rotate(2 -3.5 64.4)" fill="#a0a6d4" fill-opacity="0.56"/><ellipse cx="93.5" cy="64.4" rx="1.8" ry="1.8" transform="rotate(2 93.5 64.4)" fill="#a0a6d4" fill-opacity="0.56"/><ellipse cx="53.5" cy="0.8" rx="2.4" ry="1.2" transform="rotate(147 53.5 0.8)" fill="#858cc6" fill-opacity="0.88"/><ellipse cx="53.5" cy="89.8" rx="2.4" ry="1.2" transform="rotate(147 53.5 89.8)" fill="#858cc6" fill-opacity="0.88"/><ellipse cx="43.0" cy="21.6" rx="2.1" ry="1.3" transform="rotate(170 43.0 21.6)" fill="#858cc6" fill-opacity="0.62"/><ellipse cx="66.4" cy="26.4" rx="2.6" ry="1.4" transform="rotate(85 66.4 26.4)" fill="#858cc6" fill-opacity="0.72"/><ellipse cx="63.9" cy="51.4" rx="2.2" ry="1.7" transform="rotate(149 63.9 51.4)" fill="#7a81c0" fill-opacity="0.67"/><ellipse cx="18.9" cy="45.8" rx="2.1" ry="1.7" transform="rotate(109 18.9 45.8)" fill="#a0a6d4" fill-opacity="0.76"/><ellipse cx="87.8" cy="68.4" rx="2.2" ry="1.2" transform="rotate(48 87.8 68.4)" fill="#7a81c0" fill-opacity="0.75"/><ellipse cx="58.9" cy="23.1" rx="1.9" ry="1.5" transform="rotate(8 58.9 23.1)" fill="#a0a6d4" fill-opacity="0.71"/></pattern><pattern id="nucB" patternUnits="userSpaceOnUse" width="83" height="101"><ellipse cx="-4.3" cy="5.7" rx="2.0" ry="1.5" transform="rotate(72 -4.3 5.7)" fill="#7a81c0" fill-opacity="0.80"/><ellipse cx="-4.3" cy="106.7" rx="2.0" ry="1.5" transform="rotate(72 -4.3 106.7)" fill="#7a81c0" fill-opacity="0.80"/><ellipse cx="78.7" cy="5.7" rx="2.0" ry="1.5" transform="rotate(72 78.7 5.7)" fill="#7a81c0" fill-opacity="0.80"/><ellipse cx="78.7" cy="106.7" rx="2.0" ry="1.5" transform="rotate(72 78.7 106.7)" fill="#7a81c0" fill-opacity="0.80"/><ellipse cx="17.6" cy="3.6" rx="2.9" ry="1.6" transform="rotate(69 17.6 3.6)" fill="#7a81c0" fill-opacity="0.80"/><ellipse cx="17.6" cy="104.6" rx="2.9" ry="1.6" transform="rotate(69 17.6 104.6)" fill="#7a81c0" fill-opacity="0.80"/><ellipse cx="30.9" cy="-6.5" rx="2.6" ry="1.5" transform="rotate(76 30.9 -6.5)" fill="#939acd" fill-opacity="0.66"/><ellipse cx="30.9" cy="94.5" rx="2.6" ry="1.5" transform="rotate(76 30.9 94.5)" fill="#939acd" fill-opacity="0.66"/><ellipse cx="31.5" cy="90.1" rx="2.6" ry="1.3" transform="rotate(57 31.5 90.1)" fill="#858cc6" fill-opacity="0.56"/><ellipse cx="42.3" cy="36.3" rx="2.6" ry="1.3" transform="rotate(80 42.3 36.3)" fill="#939acd" fill-opacity="0.78"/><ellipse cx="-7.8" cy="77.1" rx="3.0" ry="1.2" transform="rotate(79 -7.8 77.1)" fill="#939acd" fill-opacity="0.56"/><ellipse cx="75.2" cy="77.1" rx="3.0" ry="1.2" transform="rotate(79 75.2 77.1)" fill="#939acd" fill-opacity="0.56"/><ellipse cx="59.4" cy="46.6" rx="2.6" ry="1.3" transform="rotate(78 59.4 46.6)" fill="#7a81c0" fill-opacity="0.68"/><ellipse cx="54.9" cy="45.9" rx="3.2" ry="1.2" transform="rotate(72 54.9 45.9)" fill="#7a81c0" fill-opacity="0.75"/><ellipse cx="18.4" cy="32.8" rx="2.9" ry="1.1" transform="rotate(77 18.4 32.8)" fill="#939acd" fill-opacity="0.77"/><ellipse cx="25.2" cy="80.7" rx="3.1" ry="1.3" transform="rotate(65 25.2 80.7)" fill="#7a81c0" fill-opacity="0.71"/><ellipse cx="17.2" cy="51.7" rx="3.2" ry="1.4" transform="rotate(52 17.2 51.7)" fill="#939acd" fill-opacity="0.75"/><ellipse cx="15.9" cy="75.2" rx="2.0" ry="1.4" transform="rotate(58 15.9 75.2)" fill="#858cc6" fill-opacity="0.74"/><ellipse cx="62.6" cy="13.8" rx="2.3" ry="1.5" transform="rotate(78 62.6 13.8)" fill="#858cc6" fill-opacity="0.65"/><ellipse cx="2.6" cy="36.6" rx="2.1" ry="1.4" transform="rotate(52 2.6 36.6)" fill="#858cc6" fill-opacity="0.51"/><ellipse cx="85.6" cy="36.6" rx="2.1" ry="1.4" transform="rotate(52 85.6 36.6)" fill="#858cc6" fill-opacity="0.51"/><ellipse cx="1.8" cy="25.8" rx="3.0" ry="1.1" transform="rotate(56 1.8 25.8)" fill="#7a81c0" fill-opacity="0.50"/><ellipse cx="84.8" cy="25.8" rx="3.0" ry="1.1" transform="rotate(56 84.8 25.8)" fill="#7a81c0" fill-opacity="0.50"/><ellipse cx="65.9" cy="25.0" rx="3.3" ry="1.0" transform="rotate(78 65.9 25.0)" fill="#7a81c0" fill-opacity="0.76"/><ellipse cx="28.0" cy="3.1" rx="2.5" ry="1.5" transform="rotate(72 28.0 3.1)" fill="#939acd" fill-opacity="0.76"/><ellipse cx="28.0" cy="104.1" rx="2.5" ry="1.5" transform="rotate(72 28.0 104.1)" fill="#939acd" fill-opacity="0.76"/><ellipse cx="58.5" cy="47.8" rx="2.2" ry="1.4" transform="rotate(59 58.5 47.8)" fill="#858cc6" fill-opacity="0.51"/><ellipse cx="-4.3" cy="52.3" rx="3.0" ry="1.3" transform="rotate(60 -4.3 52.3)" fill="#939acd" fill-opacity="0.59"/><ellipse cx="78.7" cy="52.3" rx="3.0" ry="1.3" transform="rotate(60 78.7 52.3)" fill="#939acd" fill-opacity="0.59"/><ellipse cx="34.8" cy="1.8" rx="2.7" ry="1.1" transform="rotate(52 34.8 1.8)" fill="#858cc6" fill-opacity="0.55"/><ellipse cx="34.8" cy="102.8" rx="2.7" ry="1.1" transform="rotate(52 34.8 102.8)" fill="#858cc6" fill-opacity="0.55"/><ellipse cx="37.6" cy="23.4" rx="3.2" ry="1.4" transform="rotate(51 37.6 23.4)" fill="#858cc6" fill-opacity="0.58"/><ellipse cx="20.8" cy="59.7" rx="2.8" ry="1.5" transform="rotate(71 20.8 59.7)" fill="#939acd" fill-opacity="0.74"/><ellipse cx="62.3" cy="15.3" rx="2.4" ry="1.1" transform="rotate(65 62.3 15.3)" fill="#858cc6" fill-opacity="0.58"/><ellipse cx="15.1" cy="23.4" rx="2.2" ry="1.3" transform="rotate(64 15.1 23.4)" fill="#939acd" fill-opacity="0.69"/><ellipse cx="56.8" cy="76.8" rx="2.2" ry="1.5" transform="rotate(63 56.8 76.8)" fill="#858cc6" fill-opacity="0.70"/><ellipse cx="34.7" cy="53.0" rx="2.2" ry="1.1" transform="rotate(74 34.7 53.0)" fill="#939acd" fill-opacity="0.51"/><ellipse cx="9.8" cy="37.0" rx="2.9" ry="1.6" transform="rotate(59 9.8 37.0)" fill="#7a81c0" fill-opacity="0.64"/><ellipse cx="16.5" cy="78.3" rx="3.1" ry="1.5" transform="rotate(52 16.5 78.3)" fill="#7a81c0" fill-opacity="0.67"/><ellipse cx="48.9" cy="7.5" rx="2.3" ry="1.2" transform="rotate(78 48.9 7.5)" fill="#858cc6" fill-opacity="0.58"/><ellipse cx="48.9" cy="108.5" rx="2.3" ry="1.2" transform="rotate(78 48.9 108.5)" fill="#858cc6" fill-opacity="0.58"/><ellipse cx="9.6" cy="37.7" rx="2.9" ry="1.1" transform="rotate(60 9.6 37.7)" fill="#858cc6" fill-opacity="0.59"/><ellipse cx="51.2" cy="33.8" rx="2.4" ry="1.1" transform="rotate(53 51.2 33.8)" fill="#7a81c0" fill-opacity="0.73"/><ellipse cx="60.1" cy="50.3" rx="2.4" ry="1.3" transform="rotate(74 60.1 50.3)" fill="#939acd" fill-opacity="0.67"/><ellipse cx="59.7" cy="73.5" rx="2.5" ry="1.3" transform="rotate(70 59.7 73.5)" fill="#939acd" fill-opacity="0.58"/><ellipse cx="21.5" cy="43.2" rx="2.9" ry="1.6" transform="rotate(68 21.5 43.2)" fill="#7a81c0" fill-opacity="0.53"/><ellipse cx="-0.2" cy="14.8" rx="2.5" ry="1.0" transform="rotate(53 -0.2 14.8)" fill="#7a81c0" fill-opacity="0.85"/><ellipse cx="82.8" cy="14.8" rx="2.5" ry="1.0" transform="rotate(53 82.8 14.8)" fill="#7a81c0" fill-opacity="0.85"/><ellipse cx="10.7" cy="29.9" rx="2.2" ry="1.4" transform="rotate(70 10.7 29.9)" fill="#939acd" fill-opacity="0.56"/><ellipse cx="12.9" cy="-1.3" rx="3.3" ry="1.3" transform="rotate(60 12.9 -1.3)" fill="#858cc6" fill-opacity="0.75"/><ellipse cx="12.9" cy="99.7" rx="3.3" ry="1.3" transform="rotate(60 12.9 99.7)" fill="#858cc6" fill-opacity="0.75"/><ellipse cx="74.3" cy="46.6" rx="2.9" ry="1.2" transform="rotate(80 74.3 46.6)" fill="#7a81c0" fill-opacity="0.76"/><ellipse cx="59.7" cy="81.8" rx="2.4" ry="1.4" transform="rotate(62 59.7 81.8)" fill="#858cc6" fill-opacity="0.67"/><ellipse cx="59.0" cy="-6.4" rx="2.9" ry="1.3" transform="rotate(79 59.0 -6.4)" fill="#939acd" fill-opacity="0.75"/><ellipse cx="59.0" cy="94.6" rx="2.9" ry="1.3" transform="rotate(79 59.0 94.6)" fill="#939acd" fill-opacity="0.75"/><ellipse cx="6.8" cy="82.8" rx="2.9" ry="1.3" transform="rotate(56 6.8 82.8)" fill="#7a81c0" fill-opacity="0.63"/><ellipse cx="89.8" cy="82.8" rx="2.9" ry="1.3" transform="rotate(56 89.8 82.8)" fill="#7a81c0" fill-opacity="0.63"/><ellipse cx="-7.1" cy="31.6" rx="2.6" ry="1.5" transform="rotate(64 -7.1 31.6)" fill="#858cc6" fill-opacity="0.79"/><ellipse cx="75.9" cy="31.6" rx="2.6" ry="1.5" transform="rotate(64 75.9 31.6)" fill="#858cc6" fill-opacity="0.79"/><ellipse cx="-4.7" cy="73.7" rx="2.7" ry="1.5" transform="rotate(77 -4.7 73.7)" fill="#858cc6" fill-opacity="0.64"/><ellipse cx="78.3" cy="73.7" rx="2.7" ry="1.5" transform="rotate(77 78.3 73.7)" fill="#858cc6" fill-opacity="0.64"/><ellipse cx="66.5" cy="27.7" rx="3.2" ry="1.3" transform="rotate(65 66.5 27.7)" fill="#7a81c0" fill-opacity="0.55"/><ellipse cx="36.1" cy="25.6" rx="2.7" ry="1.3" transform="rotate(56 36.1 25.6)" fill="#858cc6" fill-opacity="0.62"/><ellipse cx="44.3" cy="67.6" rx="2.0" ry="1.4" transform="rotate(78 44.3 67.6)" fill="#939acd" fill-opacity="0.66"/><ellipse cx="38.2" cy="-1.3" rx="2.8" ry="1.2" transform="rotate(73 38.2 -1.3)" fill="#939acd" fill-opacity="0.59"/><ellipse cx="38.2" cy="99.7" rx="2.8" ry="1.2" transform="rotate(73 38.2 99.7)" fill="#939acd" fill-opacity="0.59"/><ellipse cx="69.2" cy="72.7" rx="2.0" ry="1.3" transform="rotate(80 69.2 72.7)" fill="#7a81c0" fill-opacity="0.60"/><ellipse cx="46.3" cy="-3.3" rx="2.4" ry="1.3" transform="rotate(61 46.3 -3.3)" fill="#939acd" fill-opacity="0.57"/><ellipse cx="46.3" cy="97.7" rx="2.4" ry="1.3" transform="rotate(61 46.3 97.7)" fill="#939acd" fill-opacity="0.57"/><ellipse cx="41.4" cy="13.5" rx="2.9" ry="1.4" transform="rotate(59 41.4 13.5)" fill="#939acd" fill-opacity="0.79"/><ellipse cx="53.6" cy="80.4" rx="2.8" ry="1.2" transform="rotate(75 53.6 80.4)" fill="#858cc6" fill-opacity="0.68"/><ellipse cx="49.5" cy="85.7" rx="2.1" ry="1.3" transform="rotate(53 49.5 85.7)" fill="#858cc6" fill-opacity="0.58"/><ellipse cx="19.3" cy="28.0" rx="3.2" ry="1.1" transform="rotate(75 19.3 28.0)" fill="#939acd" fill-opacity="0.80"/><ellipse cx="29.6" cy="33.8" rx="2.4" ry="1.3" transform="rotate(76 29.6 33.8)" fill="#939acd" fill-opacity="0.81"/><ellipse cx="36.7" cy="64.6" rx="3.2" ry="1.2" transform="rotate(53 36.7 64.6)" fill="#858cc6" fill-opacity="0.66"/><ellipse cx="70.2" cy="18.7" rx="2.1" ry="1.1" transform="rotate(58 70.2 18.7)" fill="#7a81c0" fill-opacity="0.72"/><ellipse cx="68.4" cy="34.6" rx="3.1" ry="1.6" transform="rotate(65 68.4 34.6)" fill="#7a81c0" fill-opacity="0.76"/><ellipse cx="33.2" cy="72.1" rx="2.9" ry="1.4" transform="rotate(79 33.2 72.1)" fill="#7a81c0" fill-opacity="0.60"/><ellipse cx="55.7" cy="37.1" rx="2.5" ry="1.1" transform="rotate(79 55.7 37.1)" fill="#939acd" fill-opacity="0.65"/><ellipse cx="-6.3" cy="31.8" rx="2.4" ry="1.6" transform="rotate(53 -6.3 31.8)" fill="#858cc6" fill-opacity="0.63"/><ellipse cx="76.7" cy="31.8" rx="2.4" ry="1.6" transform="rotate(53 76.7 31.8)" fill="#858cc6" fill-opacity="0.63"/><ellipse cx="73.3" cy="76.9" rx="2.5" ry="1.3" transform="rotate(57 73.3 76.9)" fill="#7a81c0" fill-opacity="0.64"/><ellipse cx="52.9" cy="15.2" rx="2.3" ry="1.6" transform="rotate(53 52.9 15.2)" fill="#858cc6" fill-opacity="0.77"/><ellipse cx="11.7" cy="36.4" rx="2.0" ry="1.1" transform="rotate(71 11.7 36.4)" fill="#7a81c0" fill-opacity="0.71"/><ellipse cx="30.9" cy="77.5" rx="2.0" ry="1.1" transform="rotate(76 30.9 77.5)" fill="#939acd" fill-opacity="0.66"/><ellipse cx="26.6" cy="58.3" rx="2.1" ry="1.4" transform="rotate(71 26.6 58.3)" fill="#939acd" fill-opacity="0.58"/><ellipse cx="63.6" cy="49.5" rx="3.1" ry="1.3" transform="rotate(69 63.6 49.5)" fill="#858cc6" fill-opacity="0.71"/><ellipse cx="-1.3" cy="-1.1" rx="3.1" ry="1.3" transform="rotate(62 -1.3 -1.1)" fill="#7a81c0" fill-opacity="0.66"/><ellipse cx="-1.3" cy="99.9" rx="3.1" ry="1.3" transform="rotate(62 -1.3 99.9)" fill="#7a81c0" fill-opacity="0.66"/><ellipse cx="81.7" cy="-1.1" rx="3.1" ry="1.3" transform="rotate(62 81.7 -1.1)" fill="#7a81c0" fill-opacity="0.66"/><ellipse cx="81.7" cy="99.9" rx="3.1" ry="1.3" transform="rotate(62 81.7 99.9)" fill="#7a81c0" fill-opacity="0.66"/><ellipse cx="37.5" cy="59.7" rx="2.1" ry="1.6" transform="rotate(65 37.5 59.7)" fill="#858cc6" fill-opacity="0.53"/><ellipse cx="66.2" cy="0.9" rx="2.0" ry="1.2" transform="rotate(55 66.2 0.9)" fill="#858cc6" fill-opacity="0.65"/><ellipse cx="66.2" cy="101.9" rx="2.0" ry="1.2" transform="rotate(55 66.2 101.9)" fill="#858cc6" fill-opacity="0.65"/><ellipse cx="27.9" cy="82.8" rx="2.6" ry="1.5" transform="rotate(64 27.9 82.8)" fill="#858cc6" fill-opacity="0.67"/><ellipse cx="11.5" cy="50.7" rx="2.0" ry="1.1" transform="rotate(78 11.5 50.7)" fill="#7a81c0" fill-opacity="0.62"/><ellipse cx="19.8" cy="37.5" rx="1.9" ry="1.3" transform="rotate(57 19.8 37.5)" fill="#939acd" fill-opacity="0.57"/><ellipse cx="17.9" cy="38.3" rx="2.8" ry="1.5" transform="rotate(77 17.9 38.3)" fill="#7a81c0" fill-opacity="0.68"/><ellipse cx="56.1" cy="51.6" rx="3.1" ry="1.1" transform="rotate(79 56.1 51.6)" fill="#858cc6" fill-opacity="0.63"/><ellipse cx="35.8" cy="43.2" rx="2.5" ry="1.5" transform="rotate(74 35.8 43.2)" fill="#7a81c0" fill-opacity="0.53"/><ellipse cx="43.8" cy="49.4" rx="2.3" ry="1.3" transform="rotate(54 43.8 49.4)" fill="#7a81c0" fill-opacity="0.73"/><ellipse cx="45.8" cy="20.4" rx="2.2" ry="1.3" transform="rotate(69 45.8 20.4)" fill="#7a81c0" fill-opacity="0.51"/><ellipse cx="59.9" cy="54.5" rx="2.9" ry="1.5" transform="rotate(57 59.9 54.5)" fill="#858cc6" fill-opacity="0.71"/><ellipse cx="16.3" cy="10.9" rx="2.8" ry="1.3" transform="rotate(56 16.3 10.9)" fill="#858cc6" fill-opacity="0.84"/><ellipse cx="38.5" cy="29.5" rx="2.2" ry="1.5" transform="rotate(71 38.5 29.5)" fill="#939acd" fill-opacity="0.80"/><ellipse cx="5.6" cy="90.7" rx="2.8" ry="1.0" transform="rotate(59 5.6 90.7)" fill="#858cc6" fill-opacity="0.72"/><ellipse cx="88.6" cy="90.7" rx="2.8" ry="1.0" transform="rotate(59 88.6 90.7)" fill="#858cc6" fill-opacity="0.72"/><ellipse cx="-4.6" cy="1.6" rx="2.5" ry="1.2" transform="rotate(72 -4.6 1.6)" fill="#7a81c0" fill-opacity="0.68"/><ellipse cx="-4.6" cy="102.6" rx="2.5" ry="1.2" transform="rotate(72 -4.6 102.6)" fill="#7a81c0" fill-opacity="0.68"/><ellipse cx="78.4" cy="1.6" rx="2.5" ry="1.2" transform="rotate(72 78.4 1.6)" fill="#7a81c0" fill-opacity="0.68"/><ellipse cx="78.4" cy="102.6" rx="2.5" ry="1.2" transform="rotate(72 78.4 102.6)" fill="#7a81c0" fill-opacity="0.68"/><ellipse cx="16.7" cy="78.0" rx="2.9" ry="1.5" transform="rotate(63 16.7 78.0)" fill="#939acd" fill-opacity="0.84"/><ellipse cx="50.9" cy="62.1" rx="2.7" ry="1.3" transform="rotate(73 50.9 62.1)" fill="#7a81c0" fill-opacity="0.62"/><ellipse cx="30.7" cy="63.3" rx="2.6" ry="1.5" transform="rotate(70 30.7 63.3)" fill="#7a81c0" fill-opacity="0.81"/><ellipse cx="25.5" cy="20.9" rx="3.1" ry="1.2" transform="rotate(50 25.5 20.9)" fill="#858cc6" fill-opacity="0.57"/><ellipse cx="26.5" cy="25.8" rx="2.9" ry="1.2" transform="rotate(63 26.5 25.8)" fill="#939acd" fill-opacity="0.66"/><ellipse cx="23.5" cy="58.0" rx="2.2" ry="1.1" transform="rotate(73 23.5 58.0)" fill="#7a81c0" fill-opacity="0.52"/><ellipse cx="-7.1" cy="65.2" rx="2.6" ry="1.5" transform="rotate(77 -7.1 65.2)" fill="#858cc6" fill-opacity="0.70"/><ellipse cx="75.9" cy="65.2" rx="2.6" ry="1.5" transform="rotate(77 75.9 65.2)" fill="#858cc6" fill-opacity="0.70"/><ellipse cx="71.1" cy="22.9" rx="2.8" ry="1.6" transform="rotate(60 71.1 22.9)" fill="#7a81c0" fill-opacity="0.75"/><ellipse cx="19.5" cy="21.5" rx="2.0" ry="1.4" transform="rotate(54 19.5 21.5)" fill="#7a81c0" fill-opacity="0.76"/><ellipse cx="9.9" cy="46.0" rx="2.5" ry="1.6" transform="rotate(59 9.9 46.0)" fill="#858cc6" fill-opacity="0.58"/><ellipse cx="67.8" cy="9.1" rx="3.2" ry="1.4" transform="rotate(52 67.8 9.1)" fill="#7a81c0" fill-opacity="0.65"/><ellipse cx="22.6" cy="36.8" rx="2.4" ry="1.6" transform="rotate(65 22.6 36.8)" fill="#858cc6" fill-opacity="0.75"/><ellipse cx="18.4" cy="2.5" rx="2.6" ry="1.1" transform="rotate(54 18.4 2.5)" fill="#939acd" fill-opacity="0.58"/><ellipse cx="18.4" cy="103.5" rx="2.6" ry="1.1" transform="rotate(54 18.4 103.5)" fill="#939acd" fill-opacity="0.58"/><ellipse cx="12.0" cy="29.8" rx="3.0" ry="1.4" transform="rotate(66 12.0 29.8)" fill="#7a81c0" fill-opacity="0.73"/><ellipse cx="11.6" cy="31.4" rx="2.8" ry="1.3" transform="rotate(78 11.6 31.4)" fill="#939acd" fill-opacity="0.77"/><ellipse cx="8.1" cy="36.3" rx="2.8" ry="1.2" transform="rotate(74 8.1 36.3)" fill="#7a81c0" fill-opacity="0.60"/><ellipse cx="23.5" cy="60.6" rx="2.1" ry="1.0" transform="rotate(63 23.5 60.6)" fill="#7a81c0" fill-opacity="0.50"/><ellipse cx="-0.1" cy="72.2" rx="3.1" ry="1.0" transform="rotate(66 -0.1 72.2)" fill="#7a81c0" fill-opacity="0.77"/><ellipse cx="82.9" cy="72.2" rx="3.1" ry="1.0" transform="rotate(66 82.9 72.2)" fill="#7a81c0" fill-opacity="0.77"/><ellipse cx="19.9" cy="18.4" rx="2.8" ry="1.0" transform="rotate(73 19.9 18.4)" fill="#7a81c0" fill-opacity="0.79"/><ellipse cx="24.5" cy="91.3" rx="2.0" ry="1.1" transform="rotate(74 24.5 91.3)" fill="#858cc6" fill-opacity="0.64"/><ellipse cx="9.2" cy="60.3" rx="2.0" ry="1.1" transform="rotate(56 9.2 60.3)" fill="#858cc6" fill-opacity="0.74"/><ellipse cx="70.8" cy="58.8" rx="2.2" ry="1.3" transform="rotate(80 70.8 58.8)" fill="#939acd" fill-opacity="0.65"/><ellipse cx="12.8" cy="13.1" rx="2.9" ry="1.0" transform="rotate(79 12.8 13.1)" fill="#858cc6" fill-opacity="0.68"/><ellipse cx="36.3" cy="-4.9" rx="3.0" ry="1.4" transform="rotate(55 36.3 -4.9)" fill="#7a81c0" fill-opacity="0.85"/><ellipse cx="36.3" cy="96.1" rx="3.0" ry="1.4" transform="rotate(55 36.3 96.1)" fill="#7a81c0" fill-opacity="0.85"/><ellipse cx="12.1" cy="25.4" rx="2.2" ry="1.1" transform="rotate(62 12.1 25.4)" fill="#7a81c0" fill-opacity="0.59"/><ellipse cx="38.5" cy="42.7" rx="2.3" ry="1.1" transform="rotate(73 38.5 42.7)" fill="#858cc6" fill-opacity="0.79"/><ellipse cx="2.3" cy="30.5" rx="3.1" ry="1.6" transform="rotate(66 2.3 30.5)" fill="#7a81c0" fill-opacity="0.59"/><ellipse cx="85.3" cy="30.5" rx="3.1" ry="1.6" transform="rotate(66 85.3 30.5)" fill="#7a81c0" fill-opacity="0.59"/><ellipse cx="38.7" cy="46.2" rx="2.6" ry="1.4" transform="rotate(77 38.7 46.2)" fill="#858cc6" fill-opacity="0.69"/><ellipse cx="38.3" cy="-4.8" rx="3.0" ry="1.3" transform="rotate(65 38.3 -4.8)" fill="#858cc6" fill-opacity="0.76"/><ellipse cx="38.3" cy="96.2" rx="3.0" ry="1.3" transform="rotate(65 38.3 96.2)" fill="#858cc6" fill-opacity="0.76"/><ellipse cx="-3.4" cy="11.8" rx="2.7" ry="1.4" transform="rotate(64 -3.4 11.8)" fill="#7a81c0" fill-opacity="0.84"/><ellipse cx="79.6" cy="11.8" rx="2.7" ry="1.4" transform="rotate(64 79.6 11.8)" fill="#7a81c0" fill-opacity="0.84"/><ellipse cx="51.2" cy="77.3" rx="2.9" ry="1.2" transform="rotate(74 51.2 77.3)" fill="#939acd" fill-opacity="0.56"/><ellipse cx="74.4" cy="17.6" rx="2.5" ry="1.4" transform="rotate(72 74.4 17.6)" fill="#858cc6" fill-opacity="0.64"/><ellipse cx="47.3" cy="40.9" rx="2.8" ry="1.5" transform="rotate(77 47.3 40.9)" fill="#7a81c0" fill-opacity="0.61"/><ellipse cx="49.2" cy="20.8" rx="2.0" ry="1.0" transform="rotate(75 49.2 20.8)" fill="#939acd" fill-opacity="0.71"/><ellipse cx="14.8" cy="84.2" rx="2.4" ry="1.0" transform="rotate(68 14.8 84.2)" fill="#939acd" fill-opacity="0.72"/><ellipse cx="73.5" cy="60.9" rx="2.4" ry="1.2" transform="rotate(54 73.5 60.9)" fill="#7a81c0" fill-opacity="0.52"/><ellipse cx="39.7" cy="90.7" rx="3.3" ry="1.5" transform="rotate(69 39.7 90.7)" fill="#7a81c0" fill-opacity="0.57"/><ellipse cx="27.2" cy="33.7" rx="3.0" ry="1.2" transform="rotate(68 27.2 33.7)" fill="#939acd" fill-opacity="0.66"/><ellipse cx="41.8" cy="57.9" rx="2.2" ry="1.5" transform="rotate(79 41.8 57.9)" fill="#858cc6" fill-opacity="0.81"/><ellipse cx="53.9" cy="63.1" rx="2.2" ry="1.3" transform="rotate(62 53.9 63.1)" fill="#939acd" fill-opacity="0.71"/><ellipse cx="13.4" cy="41.0" rx="2.6" ry="1.2" transform="rotate(55 13.4 41.0)" fill="#858cc6" fill-opacity="0.75"/><ellipse cx="15.1" cy="48.9" rx="1.9" ry="1.4" transform="rotate(78 15.1 48.9)" fill="#7a81c0" fill-opacity="0.58"/><ellipse cx="37.9" cy="64.5" rx="2.9" ry="1.2" transform="rotate(69 37.9 64.5)" fill="#858cc6" fill-opacity="0.50"/><ellipse cx="25.3" cy="57.7" rx="2.6" ry="1.1" transform="rotate(79 25.3 57.7)" fill="#858cc6" fill-opacity="0.55"/><ellipse cx="63.9" cy="91.9" rx="2.8" ry="1.2" transform="rotate(76 63.9 91.9)" fill="#7a81c0" fill-opacity="0.53"/><ellipse cx="43.7" cy="80.7" rx="2.3" ry="1.0" transform="rotate(77 43.7 80.7)" fill="#858cc6" fill-opacity="0.53"/><ellipse cx="15.5" cy="31.1" rx="3.2" ry="1.5" transform="rotate(71 15.5 31.1)" fill="#939acd" fill-opacity="0.77"/><ellipse cx="19.0" cy="62.5" rx="2.8" ry="1.5" transform="rotate(69 19.0 62.5)" fill="#858cc6" fill-opacity="0.55"/><ellipse cx="2.4" cy="12.0" rx="2.0" ry="1.5" transform="rotate(65 2.4 12.0)" fill="#7a81c0" fill-opacity="0.71"/><ellipse cx="85.4" cy="12.0" rx="2.0" ry="1.5" transform="rotate(65 85.4 12.0)" fill="#7a81c0" fill-opacity="0.71"/><ellipse cx="-3.6" cy="74.0" rx="2.2" ry="1.3" transform="rotate(51 -3.6 74.0)" fill="#858cc6" fill-opacity="0.62"/><ellipse cx="79.4" cy="74.0" rx="2.2" ry="1.3" transform="rotate(51 79.4 74.0)" fill="#858cc6" fill-opacity="0.62"/><ellipse cx="6.1" cy="55.0" rx="2.0" ry="1.6" transform="rotate(65 6.1 55.0)" fill="#939acd" fill-opacity="0.74"/><ellipse cx="89.1" cy="55.0" rx="2.0" ry="1.6" transform="rotate(65 89.1 55.0)" fill="#939acd" fill-opacity="0.74"/><ellipse cx="24.5" cy="6.4" rx="2.8" ry="1.6" transform="rotate(53 24.5 6.4)" fill="#858cc6" fill-opacity="0.81"/><ellipse cx="24.5" cy="107.4" rx="2.8" ry="1.6" transform="rotate(53 24.5 107.4)" fill="#858cc6" fill-opacity="0.81"/><ellipse cx="70.2" cy="15.7" rx="2.3" ry="1.3" transform="rotate(76 70.2 15.7)" fill="#7a81c0" fill-opacity="0.55"/><ellipse cx="19.0" cy="73.3" rx="2.9" ry="1.5" transform="rotate(80 19.0 73.3)" fill="#858cc6" fill-opacity="0.73"/><ellipse cx="53.9" cy="3.8" rx="3.3" ry="1.3" transform="rotate(65 53.9 3.8)" fill="#7a81c0" fill-opacity="0.62"/><ellipse cx="53.9" cy="104.8" rx="3.3" ry="1.3" transform="rotate(65 53.9 104.8)" fill="#7a81c0" fill-opacity="0.62"/><ellipse cx="-3.7" cy="66.3" rx="2.0" ry="1.4" transform="rotate(61 -3.7 66.3)" fill="#939acd" fill-opacity="0.77"/><ellipse cx="79.3" cy="66.3" rx="2.0" ry="1.4" transform="rotate(61 79.3 66.3)" fill="#939acd" fill-opacity="0.77"/><ellipse cx="52.6" cy="62.2" rx="2.9" ry="1.1" transform="rotate(65 52.6 62.2)" fill="#7a81c0" fill-opacity="0.75"/><ellipse cx="54.9" cy="62.7" rx="2.9" ry="1.3" transform="rotate(59 54.9 62.7)" fill="#7a81c0" fill-opacity="0.58"/><ellipse cx="55.9" cy="46.1" rx="2.3" ry="1.0" transform="rotate(53 55.9 46.1)" fill="#858cc6" fill-opacity="0.70"/><ellipse cx="21.5" cy="56.0" rx="2.4" ry="1.1" transform="rotate(54 21.5 56.0)" fill="#858cc6" fill-opacity="0.83"/><ellipse cx="14.2" cy="15.3" rx="2.0" ry="1.2" transform="rotate(63 14.2 15.3)" fill="#858cc6" fill-opacity="0.54"/><ellipse cx="8.0" cy="3.3" rx="2.5" ry="1.1" transform="rotate(76 8.0 3.3)" fill="#939acd" fill-opacity="0.80"/><ellipse cx="8.0" cy="104.3" rx="2.5" ry="1.1" transform="rotate(76 8.0 104.3)" fill="#939acd" fill-opacity="0.80"/><ellipse cx="91.0" cy="3.3" rx="2.5" ry="1.1" transform="rotate(76 91.0 3.3)" fill="#939acd" fill-opacity="0.80"/><ellipse cx="91.0" cy="104.3" rx="2.5" ry="1.1" transform="rotate(76 91.0 104.3)" fill="#939acd" fill-opacity="0.80"/><ellipse cx="70.8" cy="81.8" rx="2.7" ry="1.6" transform="rotate(78 70.8 81.8)" fill="#939acd" fill-opacity="0.61"/><ellipse cx="40.1" cy="85.1" rx="3.0" ry="1.6" transform="rotate(55 40.1 85.1)" fill="#939acd" fill-opacity="0.60"/><ellipse cx="43.8" cy="58.0" rx="2.4" ry="1.0" transform="rotate(50 43.8 58.0)" fill="#939acd" fill-opacity="0.81"/><ellipse cx="7.5" cy="84.7" rx="2.6" ry="1.3" transform="rotate(69 7.5 84.7)" fill="#858cc6" fill-opacity="0.84"/><ellipse cx="90.5" cy="84.7" rx="2.6" ry="1.3" transform="rotate(69 90.5 84.7)" fill="#858cc6" fill-opacity="0.84"/><ellipse cx="8.8" cy="22.4" rx="2.2" ry="1.1" transform="rotate(65 8.8 22.4)" fill="#858cc6" fill-opacity="0.68"/><ellipse cx="13.5" cy="7.1" rx="3.0" ry="1.1" transform="rotate(65 13.5 7.1)" fill="#7a81c0" fill-opacity="0.63"/><ellipse cx="13.5" cy="108.1" rx="3.0" ry="1.1" transform="rotate(65 13.5 108.1)" fill="#7a81c0" fill-opacity="0.63"/><ellipse cx="74.6" cy="55.8" rx="2.5" ry="1.0" transform="rotate(62 74.6 55.8)" fill="#939acd" fill-opacity="0.58"/><ellipse cx="33.1" cy="22.4" rx="3.1" ry="1.1" transform="rotate(79 33.1 22.4)" fill="#858cc6" fill-opacity="0.68"/><ellipse cx="23.1" cy="26.4" rx="1.9" ry="1.4" transform="rotate(62 23.1 26.4)" fill="#7a81c0" fill-opacity="0.52"/><ellipse cx="16.2" cy="32.7" rx="2.3" ry="1.6" transform="rotate(69 16.2 32.7)" fill="#939acd" fill-opacity="0.62"/><ellipse cx="17.2" cy="26.0" rx="2.9" ry="1.2" transform="rotate(65 17.2 26.0)" fill="#939acd" fill-opacity="0.52"/><ellipse cx="34.7" cy="22.8" rx="2.4" ry="1.4" transform="rotate(54 34.7 22.8)" fill="#7a81c0" fill-opacity="0.85"/><ellipse cx="-2.2" cy="77.1" rx="2.0" ry="1.5" transform="rotate(52 -2.2 77.1)" fill="#7a81c0" fill-opacity="0.70"/><ellipse cx="80.8" cy="77.1" rx="2.0" ry="1.5" transform="rotate(52 80.8 77.1)" fill="#7a81c0" fill-opacity="0.70"/><ellipse cx="30.4" cy="-2.4" rx="2.8" ry="1.5" transform="rotate(64 30.4 -2.4)" fill="#7a81c0" fill-opacity="0.82"/><ellipse cx="30.4" cy="98.6" rx="2.8" ry="1.5" transform="rotate(64 30.4 98.6)" fill="#7a81c0" fill-opacity="0.82"/><ellipse cx="48.9" cy="10.4" rx="1.9" ry="1.1" transform="rotate(72 48.9 10.4)" fill="#7a81c0" fill-opacity="0.51"/><ellipse cx="21.2" cy="1.8" rx="2.7" ry="1.6" transform="rotate(77 21.2 1.8)" fill="#858cc6" fill-opacity="0.64"/><ellipse cx="21.2" cy="102.8" rx="2.7" ry="1.6" transform="rotate(77 21.2 102.8)" fill="#858cc6" fill-opacity="0.64"/><ellipse cx="52.7" cy="18.9" rx="1.9" ry="1.1" transform="rotate(55 52.7 18.9)" fill="#7a81c0" fill-opacity="0.75"/><ellipse cx="2.7" cy="27.9" rx="2.2" ry="1.1" transform="rotate(56 2.7 27.9)" fill="#7a81c0" fill-opacity="0.58"/><ellipse cx="85.7" cy="27.9" rx="2.2" ry="1.1" transform="rotate(56 85.7 27.9)" fill="#7a81c0" fill-opacity="0.58"/><ellipse cx="51.8" cy="82.1" rx="2.1" ry="1.1" transform="rotate(56 51.8 82.1)" fill="#858cc6" fill-opacity="0.60"/><ellipse cx="72.7" cy="20.7" rx="2.1" ry="1.5" transform="rotate(57 72.7 20.7)" fill="#858cc6" fill-opacity="0.63"/><ellipse cx="17.4" cy="39.1" rx="1.9" ry="1.1" transform="rotate(80 17.4 39.1)" fill="#939acd" fill-opacity="0.73"/></pattern><pattern id="nucC" patternUnits="userSpaceOnUse" width="71" height="67"><ellipse cx="38.6" cy="24.8" rx="2.2" ry="1.5" transform="rotate(12 38.6 24.8)" fill="#858cc6" fill-opacity="0.87"/><ellipse cx="39.1" cy="12.8" rx="2.4" ry="1.5" transform="rotate(99 39.1 12.8)" fill="#a0a6d4" fill-opacity="0.77"/><ellipse cx="45.1" cy="58.2" rx="2.1" ry="1.6" transform="rotate(121 45.1 58.2)" fill="#858cc6" fill-opacity="0.61"/><ellipse cx="3.0" cy="52.3" rx="2.5" ry="1.3" transform="rotate(107 3.0 52.3)" fill="#a0a6d4" fill-opacity="0.80"/><ellipse cx="74.0" cy="52.3" rx="2.5" ry="1.3" transform="rotate(107 74.0 52.3)" fill="#a0a6d4" fill-opacity="0.80"/><ellipse cx="28.0" cy="53.7" rx="2.0" ry="1.8" transform="rotate(158 28.0 53.7)" fill="#858cc6" fill-opacity="0.56"/><ellipse cx="18.3" cy="45.0" rx="2.4" ry="1.7" transform="rotate(76 18.3 45.0)" fill="#a0a6d4" fill-opacity="0.75"/><ellipse cx="28.9" cy="15.6" rx="1.9" ry="1.7" transform="rotate(5 28.9 15.6)" fill="#7a81c0" fill-opacity="0.90"/><ellipse cx="11.6" cy="57.7" rx="2.7" ry="1.7" transform="rotate(102 11.6 57.7)" fill="#939acd" fill-opacity="0.77"/><ellipse cx="19.0" cy="8.3" rx="2.1" ry="1.5" transform="rotate(87 19.0 8.3)" fill="#7a81c0" fill-opacity="0.83"/><ellipse cx="10.7" cy="19.7" rx="2.4" ry="1.7" transform="rotate(8 10.7 19.7)" fill="#858cc6" fill-opacity="0.68"/><ellipse cx="39.1" cy="-5.2" rx="1.8" ry="1.3" transform="rotate(6 39.1 -5.2)" fill="#858cc6" fill-opacity="0.58"/><ellipse cx="39.1" cy="61.8" rx="1.8" ry="1.3" transform="rotate(6 39.1 61.8)" fill="#858cc6" fill-opacity="0.58"/><ellipse cx="2.2" cy="13.2" rx="2.0" ry="1.5" transform="rotate(28 2.2 13.2)" fill="#858cc6" fill-opacity="0.89"/><ellipse cx="73.2" cy="13.2" rx="2.0" ry="1.5" transform="rotate(28 73.2 13.2)" fill="#858cc6" fill-opacity="0.89"/><ellipse cx="25.6" cy="9.3" rx="2.5" ry="1.4" transform="rotate(157 25.6 9.3)" fill="#a0a6d4" fill-opacity="0.78"/><ellipse cx="39.7" cy="41.5" rx="2.6" ry="1.5" transform="rotate(78 39.7 41.5)" fill="#939acd" fill-opacity="0.88"/><ellipse cx="18.3" cy="20.3" rx="1.9" ry="1.7" transform="rotate(178 18.3 20.3)" fill="#7a81c0" fill-opacity="0.56"/><ellipse cx="44.9" cy="4.0" rx="2.3" ry="1.4" transform="rotate(122 44.9 4.0)" fill="#7a81c0" fill-opacity="0.76"/><ellipse cx="44.9" cy="71.0" rx="2.3" ry="1.4" transform="rotate(122 44.9 71.0)" fill="#7a81c0" fill-opacity="0.76"/><ellipse cx="34.8" cy="39.5" rx="2.6" ry="1.1" transform="rotate(66 34.8 39.5)" fill="#a0a6d4" fill-opacity="0.65"/><ellipse cx="12.6" cy="12.4" rx="2.4" ry="1.7" transform="rotate(48 12.6 12.4)" fill="#a0a6d4" fill-opacity="0.59"/><ellipse cx="-2.0" cy="45.8" rx="1.7" ry="1.5" transform="rotate(118 -2.0 45.8)" fill="#7a81c0" fill-opacity="0.63"/><ellipse cx="69.0" cy="45.8" rx="1.7" ry="1.5" transform="rotate(118 69.0 45.8)" fill="#7a81c0" fill-opacity="0.63"/><ellipse cx="30.9" cy="46.8" rx="1.6" ry="1.3" transform="rotate(60 30.9 46.8)" fill="#939acd" fill-opacity="0.70"/><ellipse cx="12.0" cy="22.6" rx="2.3" ry="1.7" transform="rotate(81 12.0 22.6)" fill="#939acd" fill-opacity="0.83"/><ellipse cx="-3.0" cy="21.1" rx="2.5" ry="1.5" transform="rotate(155 -3.0 21.1)" fill="#7a81c0" fill-opacity="0.83"/><ellipse cx="68.0" cy="21.1" rx="2.5" ry="1.5" transform="rotate(155 68.0 21.1)" fill="#7a81c0" fill-opacity="0.83"/><ellipse cx="57.2" cy="23.1" rx="1.7" ry="1.3" transform="rotate(143 57.2 23.1)" fill="#7a81c0" fill-opacity="0.71"/><ellipse cx="20.6" cy="38.1" rx="1.5" ry="1.4" transform="rotate(36 20.6 38.1)" fill="#a0a6d4" fill-opacity="0.88"/><ellipse cx="-0.9" cy="29.1" rx="2.6" ry="1.7" transform="rotate(40 -0.9 29.1)" fill="#a0a6d4" fill-opacity="0.84"/><ellipse cx="70.1" cy="29.1" rx="2.6" ry="1.7" transform="rotate(40 70.1 29.1)" fill="#a0a6d4" fill-opacity="0.84"/><ellipse cx="36.9" cy="19.4" rx="1.9" ry="1.3" transform="rotate(12 36.9 19.4)" fill="#7a81c0" fill-opacity="0.59"/><ellipse cx="2.5" cy="53.8" rx="2.1" ry="1.2" transform="rotate(159 2.5 53.8)" fill="#a0a6d4" fill-opacity="0.75"/><ellipse cx="73.5" cy="53.8" rx="2.1" ry="1.2" transform="rotate(159 73.5 53.8)" fill="#a0a6d4" fill-opacity="0.75"/><ellipse cx="52.9" cy="11.5" rx="1.9" ry="1.6" transform="rotate(94 52.9 11.5)" fill="#a0a6d4" fill-opacity="0.57"/><ellipse cx="8.1" cy="8.4" rx="2.7" ry="1.5" transform="rotate(146 8.1 8.4)" fill="#858cc6" fill-opacity="0.67"/><ellipse cx="38.0" cy="54.7" rx="1.7" ry="1.7" transform="rotate(166 38.0 54.7)" fill="#939acd" fill-opacity="0.84"/><ellipse cx="44.6" cy="57.8" rx="1.6" ry="1.3" transform="rotate(48 44.6 57.8)" fill="#a0a6d4" fill-opacity="0.57"/><ellipse cx="58.2" cy="57.4" rx="2.4" ry="1.1" transform="rotate(9 58.2 57.4)" fill="#a0a6d4" fill-opacity="0.89"/><ellipse cx="6.1" cy="33.6" rx="1.9" ry="1.3" transform="rotate(63 6.1 33.6)" fill="#a0a6d4" fill-opacity="0.76"/><ellipse cx="77.1" cy="33.6" rx="1.9" ry="1.3" transform="rotate(63 77.1 33.6)" fill="#a0a6d4" fill-opacity="0.76"/><ellipse cx="13.6" cy="22.0" rx="1.6" ry="1.5" transform="rotate(129 13.6 22.0)" fill="#a0a6d4" fill-opacity="0.83"/><ellipse cx="3.1" cy="30.9" rx="2.3" ry="1.5" transform="rotate(115 3.1 30.9)" fill="#858cc6" fill-opacity="0.77"/><ellipse cx="74.1" cy="30.9" rx="2.3" ry="1.5" transform="rotate(115 74.1 30.9)" fill="#858cc6" fill-opacity="0.77"/><ellipse cx="26.4" cy="33.2" rx="2.3" ry="1.4" transform="rotate(125 26.4 33.2)" fill="#a0a6d4" fill-opacity="0.56"/><ellipse cx="19.2" cy="39.5" rx="2.5" ry="1.3" transform="rotate(23 19.2 39.5)" fill="#858cc6" fill-opacity="0.88"/><ellipse cx="-7.3" cy="53.0" rx="1.8" ry="1.4" transform="rotate(22 -7.3 53.0)" fill="#a0a6d4" fill-opacity="0.78"/><ellipse cx="63.7" cy="53.0" rx="1.8" ry="1.4" transform="rotate(22 63.7 53.0)" fill="#a0a6d4" fill-opacity="0.78"/><ellipse cx="40.0" cy="6.9" rx="2.2" ry="1.1" transform="rotate(26 40.0 6.9)" fill="#a0a6d4" fill-opacity="0.57"/><ellipse cx="40.0" cy="73.9" rx="2.2" ry="1.1" transform="rotate(26 40.0 73.9)" fill="#a0a6d4" fill-opacity="0.57"/><ellipse cx="7.1" cy="59.0" rx="1.7" ry="1.1" transform="rotate(151 7.1 59.0)" fill="#858cc6" fill-opacity="0.56"/><ellipse cx="78.1" cy="59.0" rx="1.7" ry="1.1" transform="rotate(151 78.1 59.0)" fill="#858cc6" fill-opacity="0.56"/><ellipse cx="34.2" cy="46.7" rx="1.8" ry="1.3" transform="rotate(16 34.2 46.7)" fill="#939acd" fill-opacity="0.59"/><ellipse cx="-4.6" cy="4.1" rx="1.9" ry="1.5" transform="rotate(149 -4.6 4.1)" fill="#939acd" fill-opacity="0.90"/><ellipse cx="-4.6" cy="71.1" rx="1.9" ry="1.5" transform="rotate(149 -4.6 71.1)" fill="#939acd" fill-opacity="0.90"/><ellipse cx="66.4" cy="4.1" rx="1.9" ry="1.5" transform="rotate(149 66.4 4.1)" fill="#939acd" fill-opacity="0.90"/><ellipse cx="66.4" cy="71.1" rx="1.9" ry="1.5" transform="rotate(149 66.4 71.1)" fill="#939acd" fill-opacity="0.90"/><ellipse cx="32.2" cy="46.9" rx="2.6" ry="1.3" transform="rotate(108 32.2 46.9)" fill="#7a81c0" fill-opacity="0.74"/><ellipse cx="26.6" cy="15.8" rx="2.6" ry="1.7" transform="rotate(174 26.6 15.8)" fill="#a0a6d4" fill-opacity="0.79"/><ellipse cx="47.8" cy="34.6" rx="2.1" ry="1.6" transform="rotate(162 47.8 34.6)" fill="#939acd" fill-opacity="0.61"/><ellipse cx="34.3" cy="46.8" rx="2.6" ry="1.5" transform="rotate(154 34.3 46.8)" fill="#939acd" fill-opacity="0.64"/><ellipse cx="41.6" cy="21.1" rx="1.8" ry="1.6" transform="rotate(172 41.6 21.1)" fill="#7a81c0" fill-opacity="0.78"/><ellipse cx="42.3" cy="39.2" rx="2.7" ry="1.7" transform="rotate(55 42.3 39.2)" fill="#7a81c0" fill-opacity="0.72"/><ellipse cx="12.2" cy="24.2" rx="1.9" ry="1.6" transform="rotate(26 12.2 24.2)" fill="#a0a6d4" fill-opacity="0.80"/><ellipse cx="41.2" cy="-6.6" rx="2.3" ry="1.1" transform="rotate(179 41.2 -6.6)" fill="#858cc6" fill-opacity="0.85"/><ellipse cx="41.2" cy="60.4" rx="2.3" ry="1.1" transform="rotate(179 41.2 60.4)" fill="#858cc6" fill-opacity="0.85"/></pattern><pattern id="cytA" patternUnits="userSpaceOnUse" width="131" height="117"><ellipse cx="19.8" cy="76.2" rx="6.6" ry="6.7" transform="rotate(66 19.8 76.2)" fill="#9ea3d8" fill-opacity="0.28"/><ellipse cx="11.3" cy="48.9" rx="7.9" ry="6.8" transform="rotate(11 11.3 48.9)" fill="#b0b4e0" fill-opacity="0.14"/><ellipse cx="82.2" cy="-6.1" rx="10.6" ry="6.0" transform="rotate(176 82.2 -6.1)" fill="#9ea3d8" fill-opacity="0.22"/><ellipse cx="82.2" cy="110.9" rx="10.6" ry="6.0" transform="rotate(176 82.2 110.9)" fill="#9ea3d8" fill-opacity="0.22"/><ellipse cx="54.9" cy="63.3" rx="10.6" ry="6.8" transform="rotate(123 54.9 63.3)" fill="#9ea3d8" fill-opacity="0.22"/><ellipse cx="48.8" cy="64.1" rx="6.5" ry="4.3" transform="rotate(37 48.8 64.1)" fill="#b0b4e0" fill-opacity="0.22"/><ellipse cx="61.0" cy="108.0" rx="8.9" ry="5.2" transform="rotate(32 61.0 108.0)" fill="#9ea3d8" fill-opacity="0.13"/><ellipse cx="64.9" cy="40.2" rx="9.6" ry="7.0" transform="rotate(13 64.9 40.2)" fill="#b0b4e0" fill-opacity="0.20"/><ellipse cx="19.9" cy="57.2" rx="6.3" ry="7.3" transform="rotate(138 19.9 57.2)" fill="#b0b4e0" fill-opacity="0.26"/><ellipse cx="44.6" cy="41.0" rx="10.0" ry="8.0" transform="rotate(12 44.6 41.0)" fill="#9ea3d8" fill-opacity="0.29"/><ellipse cx="87.0" cy="7.1" rx="11.6" ry="7.2" transform="rotate(179 87.0 7.1)" fill="#a8acdc" fill-opacity="0.17"/><ellipse cx="87.0" cy="124.1" rx="11.6" ry="7.2" transform="rotate(179 87.0 124.1)" fill="#a8acdc" fill-opacity="0.17"/><ellipse cx="87.6" cy="2.6" rx="9.7" ry="4.8" transform="rotate(21 87.6 2.6)" fill="#9ea3d8" fill-opacity="0.16"/><ellipse cx="87.6" cy="119.6" rx="9.7" ry="4.8" transform="rotate(21 87.6 119.6)" fill="#9ea3d8" fill-opacity="0.16"/><ellipse cx="96.7" cy="46.6" rx="13.3" ry="6.5" transform="rotate(30 96.7 46.6)" fill="#a8acdc" fill-opacity="0.22"/><ellipse cx="107.3" cy="101.1" rx="8.2" ry="6.1" transform="rotate(65 107.3 101.1)" fill="#a8acdc" fill-opacity="0.29"/><ellipse cx="23.1" cy="27.1" rx="7.9" ry="6.4" transform="rotate(106 23.1 27.1)" fill="#a8acdc" fill-opacity="0.17"/><ellipse cx="70.0" cy="71.3" rx="8.5" ry="4.6" transform="rotate(155 70.0 71.3)" fill="#b0b4e0" fill-opacity="0.24"/><ellipse cx="59.8" cy="101.9" rx="13.6" ry="7.4" transform="rotate(101 59.8 101.9)" fill="#a8acdc" fill-opacity="0.19"/><ellipse cx="83.1" cy="7.3" rx="6.5" ry="5.0" transform="rotate(29 83.1 7.3)" fill="#a8acdc" fill-opacity="0.23"/><ellipse cx="83.1" cy="124.3" rx="6.5" ry="5.0" transform="rotate(29 83.1 124.3)" fill="#a8acdc" fill-opacity="0.23"/><ellipse cx="74.2" cy="62.8" rx="13.6" ry="7.1" transform="rotate(13 74.2 62.8)" fill="#9ea3d8" fill-opacity="0.23"/><ellipse cx="33.0" cy="40.6" rx="8.9" ry="4.6" transform="rotate(153 33.0 40.6)" fill="#a8acdc" fill-opacity="0.21"/><ellipse cx="18.9" cy="87.7" rx="11.9" ry="6.4" transform="rotate(125 18.9 87.7)" fill="#b0b4e0" fill-opacity="0.12"/><ellipse cx="69.2" cy="17.2" rx="10.3" ry="4.1" transform="rotate(95 69.2 17.2)" fill="#b0b4e0" fill-opacity="0.28"/><ellipse cx="34.2" cy="42.9" rx="7.3" ry="7.9" transform="rotate(96 34.2 42.9)" fill="#b0b4e0" fill-opacity="0.18"/><ellipse cx="106.3" cy="-1.8" rx="12.8" ry="8.0" transform="rotate(147 106.3 -1.8)" fill="#b0b4e0" fill-opacity="0.26"/><ellipse cx="106.3" cy="115.2" rx="12.8" ry="8.0" transform="rotate(147 106.3 115.2)" fill="#b0b4e0" fill-opacity="0.26"/><ellipse cx="64.6" cy="85.5" rx="13.9" ry="8.0" transform="rotate(85 64.6 85.5)" fill="#9ea3d8" fill-opacity="0.24"/><ellipse cx="58.6" cy="-7.4" rx="13.9" ry="8.8" transform="rotate(66 58.6 -7.4)" fill="#9ea3d8" fill-opacity="0.14"/><ellipse cx="58.6" cy="109.6" rx="13.9" ry="8.8" transform="rotate(66 58.6 109.6)" fill="#9ea3d8" fill-opacity="0.14"/><ellipse cx="44.2" cy="56.5" rx="13.9" ry="7.1" transform="rotate(0 44.2 56.5)" fill="#b0b4e0" fill-opacity="0.18"/><ellipse cx="109.3" cy="14.0" rx="9.1" ry="7.6" transform="rotate(36 109.3 14.0)" fill="#9ea3d8" fill-opacity="0.20"/><ellipse cx="11.4" cy="-6.3" rx="11.8" ry="6.3" transform="rotate(134 11.4 -6.3)" fill="#9ea3d8" fill-opacity="0.25"/><ellipse cx="11.4" cy="110.7" rx="11.8" ry="6.3" transform="rotate(134 11.4 110.7)" fill="#9ea3d8" fill-opacity="0.25"/><ellipse cx="16.6" cy="17.7" rx="13.2" ry="8.0" transform="rotate(26 16.6 17.7)" fill="#b0b4e0" fill-opacity="0.30"/><ellipse cx="45.9" cy="64.2" rx="7.0" ry="4.1" transform="rotate(175 45.9 64.2)" fill="#b0b4e0" fill-opacity="0.14"/><ellipse cx="18.2" cy="-1.6" rx="7.6" ry="8.4" transform="rotate(5 18.2 -1.6)" fill="#9ea3d8" fill-opacity="0.17"/><ellipse cx="18.2" cy="115.4" rx="7.6" ry="8.4" transform="rotate(5 18.2 115.4)" fill="#9ea3d8" fill-opacity="0.17"/><ellipse cx="76.8" cy="30.3" rx="9.4" ry="4.7" transform="rotate(164 76.8 30.3)" fill="#a8acdc" fill-opacity="0.28"/><ellipse cx="106.8" cy="60.5" rx="12.6" ry="8.4" transform="rotate(24 106.8 60.5)" fill="#9ea3d8" fill-opacity="0.21"/><ellipse cx="57.7" cy="21.4" rx="6.0" ry="8.0" transform="rotate(31 57.7 21.4)" fill="#a8acdc" fill-opacity="0.23"/><ellipse cx="8.1" cy="79.8" rx="10.2" ry="6.4" transform="rotate(140 8.1 79.8)" fill="#b0b4e0" fill-opacity="0.13"/><ellipse cx="5.5" cy="11.4" rx="9.6" ry="4.1" transform="rotate(161 5.5 11.4)" fill="#9ea3d8" fill-opacity="0.20"/><ellipse cx="136.5" cy="11.4" rx="9.6" ry="4.1" transform="rotate(161 136.5 11.4)" fill="#9ea3d8" fill-opacity="0.20"/><ellipse cx="66.2" cy="59.9" rx="11.5" ry="6.3" transform="rotate(96 66.2 59.9)" fill="#a8acdc" fill-opacity="0.21"/><ellipse cx="68.5" cy="102.5" rx="13.4" ry="8.6" transform="rotate(161 68.5 102.5)" fill="#9ea3d8" fill-opacity="0.27"/><ellipse cx="15.9" cy="51.7" rx="6.6" ry="5.2" transform="rotate(13 15.9 51.7)" fill="#b0b4e0" fill-opacity="0.17"/><ellipse cx="101.8" cy="-7.1" rx="11.1" ry="5.8" transform="rotate(46 101.8 -7.1)" fill="#9ea3d8" fill-opacity="0.29"/><ellipse cx="101.8" cy="109.9" rx="11.1" ry="5.8" transform="rotate(46 101.8 109.9)" fill="#9ea3d8" fill-opacity="0.29"/></pattern><pattern id="brnA" patternUnits="userSpaceOnUse" width="101" height="93"><ellipse cx="10.4" cy="36.8" rx="1.7" ry="1.3" transform="rotate(72 10.4 36.8)" fill="#b8745c" fill-opacity="0.63"/><ellipse cx="22.4" cy="49.9" rx="1.9" ry="1.4" transform="rotate(19 22.4 49.9)" fill="#9c5646" fill-opacity="0.68"/><ellipse cx="64.7" cy="24.2" rx="1.9" ry="1.4" transform="rotate(52 64.7 24.2)" fill="#b8745c" fill-opacity="0.38"/><ellipse cx="67.8" cy="47.1" rx="1.8" ry="1.7" transform="rotate(16 67.8 47.1)" fill="#b8745c" fill-opacity="0.35"/><ellipse cx="71.2" cy="29.0" rx="2.6" ry="1.4" transform="rotate(76 71.2 29.0)" fill="#b8745c" fill-opacity="0.50"/><ellipse cx="30.8" cy="75.6" rx="1.6" ry="1.2" transform="rotate(113 30.8 75.6)" fill="#b8745c" fill-opacity="0.53"/><ellipse cx="70.8" cy="13.5" rx="2.5" ry="1.3" transform="rotate(164 70.8 13.5)" fill="#8e4e40" fill-opacity="0.45"/><ellipse cx="75.4" cy="29.8" rx="2.3" ry="2.1" transform="rotate(18 75.4 29.8)" fill="#a8604c" fill-opacity="0.60"/><ellipse cx="58.8" cy="80.2" rx="1.7" ry="2.1" transform="rotate(52 58.8 80.2)" fill="#a8604c" fill-opacity="0.36"/><ellipse cx="90.5" cy="-4.2" rx="2.6" ry="2.2" transform="rotate(3 90.5 -4.2)" fill="#b8745c" fill-opacity="0.46"/><ellipse cx="90.5" cy="88.8" rx="2.6" ry="2.2" transform="rotate(3 90.5 88.8)" fill="#b8745c" fill-opacity="0.46"/><ellipse cx="65.8" cy="80.1" rx="2.8" ry="1.9" transform="rotate(14 65.8 80.1)" fill="#9c5646" fill-opacity="0.66"/><ellipse cx="25.3" cy="55.7" rx="1.7" ry="1.8" transform="rotate(65 25.3 55.7)" fill="#8e4e40" fill-opacity="0.41"/><ellipse cx="36.6" cy="27.0" rx="1.6" ry="2.2" transform="rotate(76 36.6 27.0)" fill="#9c5646" fill-opacity="0.39"/><ellipse cx="74.4" cy="55.4" rx="3.0" ry="1.8" transform="rotate(98 74.4 55.4)" fill="#9c5646" fill-opacity="0.46"/><ellipse cx="84.3" cy="27.2" rx="3.0" ry="1.9" transform="rotate(36 84.3 27.2)" fill="#9c5646" fill-opacity="0.43"/><ellipse cx="3.7" cy="39.2" rx="1.9" ry="2.1" transform="rotate(150 3.7 39.2)" fill="#8e4e40" fill-opacity="0.42"/><ellipse cx="104.7" cy="39.2" rx="1.9" ry="2.1" transform="rotate(150 104.7 39.2)" fill="#8e4e40" fill-opacity="0.42"/><ellipse cx="25.6" cy="48.9" rx="2.7" ry="1.6" transform="rotate(47 25.6 48.9)" fill="#b8745c" fill-opacity="0.37"/><ellipse cx="57.1" cy="-0.9" rx="2.1" ry="2.1" transform="rotate(118 57.1 -0.9)" fill="#a8604c" fill-opacity="0.52"/><ellipse cx="57.1" cy="92.1" rx="2.1" ry="2.1" transform="rotate(118 57.1 92.1)" fill="#a8604c" fill-opacity="0.52"/><ellipse cx="21.3" cy="81.3" rx="2.8" ry="2.1" transform="rotate(61 21.3 81.3)" fill="#8e4e40" fill-opacity="0.63"/><ellipse cx="82.3" cy="49.1" rx="2.5" ry="1.9" transform="rotate(48 82.3 49.1)" fill="#8e4e40" fill-opacity="0.68"/><ellipse cx="-2.9" cy="-3.6" rx="2.5" ry="1.2" transform="rotate(162 -2.9 -3.6)" fill="#9c5646" fill-opacity="0.62"/><ellipse cx="-2.9" cy="89.4" rx="2.5" ry="1.2" transform="rotate(162 -2.9 89.4)" fill="#9c5646" fill-opacity="0.62"/><ellipse cx="98.1" cy="-3.6" rx="2.5" ry="1.2" transform="rotate(162 98.1 -3.6)" fill="#9c5646" fill-opacity="0.62"/><ellipse cx="98.1" cy="89.4" rx="2.5" ry="1.2" transform="rotate(162 98.1 89.4)" fill="#9c5646" fill-opacity="0.62"/><ellipse cx="86.5" cy="80.9" rx="2.5" ry="1.7" transform="rotate(85 86.5 80.9)" fill="#8e4e40" fill-opacity="0.67"/><ellipse cx="0.3" cy="-7.2" rx="1.5" ry="2.1" transform="rotate(21 0.3 -7.2)" fill="#8e4e40" fill-opacity="0.66"/><ellipse cx="0.3" cy="85.8" rx="1.5" ry="2.1" transform="rotate(21 0.3 85.8)" fill="#8e4e40" fill-opacity="0.66"/><ellipse cx="101.3" cy="-7.2" rx="1.5" ry="2.1" transform="rotate(21 101.3 -7.2)" fill="#8e4e40" fill-opacity="0.66"/><ellipse cx="101.3" cy="85.8" rx="1.5" ry="2.1" transform="rotate(21 101.3 85.8)" fill="#8e4e40" fill-opacity="0.66"/><ellipse cx="88.7" cy="18.8" rx="2.5" ry="1.5" transform="rotate(161 88.7 18.8)" fill="#8e4e40" fill-opacity="0.67"/><ellipse cx="8.0" cy="64.7" rx="1.7" ry="1.8" transform="rotate(46 8.0 64.7)" fill="#9c5646" fill-opacity="0.36"/><ellipse cx="109.0" cy="64.7" rx="1.7" ry="1.8" transform="rotate(46 109.0 64.7)" fill="#9c5646" fill-opacity="0.36"/><ellipse cx="88.8" cy="84.2" rx="1.9" ry="1.5" transform="rotate(13 88.8 84.2)" fill="#8e4e40" fill-opacity="0.48"/><ellipse cx="31.4" cy="21.7" rx="2.2" ry="2.2" transform="rotate(17 31.4 21.7)" fill="#a8604c" fill-opacity="0.67"/><ellipse cx="37.0" cy="-0.0" rx="2.1" ry="1.9" transform="rotate(80 37.0 -0.0)" fill="#9c5646" fill-opacity="0.57"/><ellipse cx="37.0" cy="93.0" rx="2.1" ry="1.9" transform="rotate(80 37.0 93.0)" fill="#9c5646" fill-opacity="0.57"/><ellipse cx="48.3" cy="11.0" rx="2.3" ry="1.6" transform="rotate(29 48.3 11.0)" fill="#9c5646" fill-opacity="0.46"/><ellipse cx="26.1" cy="-2.4" rx="1.5" ry="1.4" transform="rotate(117 26.1 -2.4)" fill="#a8604c" fill-opacity="0.54"/><ellipse cx="26.1" cy="90.6" rx="1.5" ry="1.4" transform="rotate(117 26.1 90.6)" fill="#a8604c" fill-opacity="0.54"/><ellipse cx="72.3" cy="45.0" rx="1.6" ry="1.4" transform="rotate(153 72.3 45.0)" fill="#b8745c" fill-opacity="0.43"/><ellipse cx="87.3" cy="0.2" rx="1.6" ry="2.1" transform="rotate(98 87.3 0.2)" fill="#8e4e40" fill-opacity="0.62"/><ellipse cx="87.3" cy="93.2" rx="1.6" ry="2.1" transform="rotate(98 87.3 93.2)" fill="#8e4e40" fill-opacity="0.62"/><ellipse cx="-6.4" cy="47.1" rx="2.2" ry="1.8" transform="rotate(71 -6.4 47.1)" fill="#b8745c" fill-opacity="0.62"/><ellipse cx="94.6" cy="47.1" rx="2.2" ry="1.8" transform="rotate(71 94.6 47.1)" fill="#b8745c" fill-opacity="0.62"/><ellipse cx="66.9" cy="12.4" rx="1.6" ry="1.3" transform="rotate(146 66.9 12.4)" fill="#9c5646" fill-opacity="0.45"/><ellipse cx="19.9" cy="73.8" rx="2.5" ry="2.1" transform="rotate(14 19.9 73.8)" fill="#9c5646" fill-opacity="0.47"/><ellipse cx="17.6" cy="82.1" rx="2.4" ry="1.7" transform="rotate(136 17.6 82.1)" fill="#a8604c" fill-opacity="0.63"/><ellipse cx="-4.7" cy="14.7" rx="2.4" ry="1.7" transform="rotate(103 -4.7 14.7)" fill="#a8604c" fill-opacity="0.62"/><ellipse cx="96.3" cy="14.7" rx="2.4" ry="1.7" transform="rotate(103 96.3 14.7)" fill="#a8604c" fill-opacity="0.62"/><ellipse cx="11.8" cy="60.6" rx="2.5" ry="1.9" transform="rotate(111 11.8 60.6)" fill="#b8745c" fill-opacity="0.65"/><ellipse cx="89.0" cy="22.1" rx="2.2" ry="1.4" transform="rotate(66 89.0 22.1)" fill="#b8745c" fill-opacity="0.54"/><ellipse cx="45.6" cy="74.7" rx="2.3" ry="2.2" transform="rotate(56 45.6 74.7)" fill="#8e4e40" fill-opacity="0.49"/></pattern><pattern id="brnB" patternUnits="userSpaceOnUse" width="89" height="79"><ellipse cx="66.0" cy="62.8" rx="2.9" ry="1.9" transform="rotate(166 66.0 62.8)" fill="#a8604c" fill-opacity="0.64"/><ellipse cx="22.2" cy="4.1" rx="1.7" ry="1.6" transform="rotate(156 22.2 4.1)" fill="#8e4e40" fill-opacity="0.54"/><ellipse cx="22.2" cy="83.1" rx="1.7" ry="1.6" transform="rotate(156 22.2 83.1)" fill="#8e4e40" fill-opacity="0.54"/><ellipse cx="1.2" cy="17.1" rx="1.9" ry="2.1" transform="rotate(138 1.2 17.1)" fill="#9c5646" fill-opacity="0.62"/><ellipse cx="90.2" cy="17.1" rx="1.9" ry="2.1" transform="rotate(138 90.2 17.1)" fill="#9c5646" fill-opacity="0.62"/><ellipse cx="55.0" cy="35.1" rx="1.7" ry="2.2" transform="rotate(1 55.0 35.1)" fill="#9c5646" fill-opacity="0.69"/><ellipse cx="14.8" cy="24.8" rx="1.8" ry="2.1" transform="rotate(113 14.8 24.8)" fill="#9c5646" fill-opacity="0.68"/><ellipse cx="-3.0" cy="70.6" rx="1.9" ry="1.6" transform="rotate(30 -3.0 70.6)" fill="#9c5646" fill-opacity="0.44"/><ellipse cx="86.0" cy="70.6" rx="1.9" ry="1.6" transform="rotate(30 86.0 70.6)" fill="#9c5646" fill-opacity="0.44"/><ellipse cx="72.7" cy="46.3" rx="2.4" ry="1.9" transform="rotate(12 72.7 46.3)" fill="#b8745c" fill-opacity="0.64"/><ellipse cx="28.1" cy="38.0" rx="2.6" ry="1.3" transform="rotate(176 28.1 38.0)" fill="#a8604c" fill-opacity="0.68"/><ellipse cx="36.0" cy="43.4" rx="2.1" ry="1.6" transform="rotate(151 36.0 43.4)" fill="#8e4e40" fill-opacity="0.37"/><ellipse cx="-4.0" cy="15.5" rx="2.6" ry="2.1" transform="rotate(170 -4.0 15.5)" fill="#b8745c" fill-opacity="0.53"/><ellipse cx="85.0" cy="15.5" rx="2.6" ry="2.1" transform="rotate(170 85.0 15.5)" fill="#b8745c" fill-opacity="0.53"/><ellipse cx="22.3" cy="36.6" rx="2.4" ry="2.0" transform="rotate(66 22.3 36.6)" fill="#b8745c" fill-opacity="0.36"/><ellipse cx="8.1" cy="26.9" rx="2.4" ry="2.1" transform="rotate(61 8.1 26.9)" fill="#a8604c" fill-opacity="0.46"/><ellipse cx="15.8" cy="6.2" rx="1.7" ry="1.9" transform="rotate(179 15.8 6.2)" fill="#9c5646" fill-opacity="0.60"/><ellipse cx="15.8" cy="85.2" rx="1.7" ry="1.9" transform="rotate(179 15.8 85.2)" fill="#9c5646" fill-opacity="0.60"/><ellipse cx="53.5" cy="-6.0" rx="1.5" ry="1.9" transform="rotate(62 53.5 -6.0)" fill="#b8745c" fill-opacity="0.51"/><ellipse cx="53.5" cy="73.0" rx="1.5" ry="1.9" transform="rotate(62 53.5 73.0)" fill="#b8745c" fill-opacity="0.51"/><ellipse cx="5.0" cy="-6.6" rx="1.5" ry="1.7" transform="rotate(151 5.0 -6.6)" fill="#9c5646" fill-opacity="0.69"/><ellipse cx="5.0" cy="72.4" rx="1.5" ry="1.7" transform="rotate(151 5.0 72.4)" fill="#9c5646" fill-opacity="0.69"/><ellipse cx="94.0" cy="-6.6" rx="1.5" ry="1.7" transform="rotate(151 94.0 -6.6)" fill="#9c5646" fill-opacity="0.69"/><ellipse cx="94.0" cy="72.4" rx="1.5" ry="1.7" transform="rotate(151 94.0 72.4)" fill="#9c5646" fill-opacity="0.69"/><ellipse cx="11.8" cy="70.8" rx="2.1" ry="1.4" transform="rotate(67 11.8 70.8)" fill="#a8604c" fill-opacity="0.65"/><ellipse cx="40.3" cy="-0.1" rx="2.8" ry="2.2" transform="rotate(82 40.3 -0.1)" fill="#8e4e40" fill-opacity="0.59"/><ellipse cx="40.3" cy="78.9" rx="2.8" ry="2.2" transform="rotate(82 40.3 78.9)" fill="#8e4e40" fill-opacity="0.59"/><ellipse cx="24.4" cy="37.1" rx="2.9" ry="1.3" transform="rotate(148 24.4 37.1)" fill="#9c5646" fill-opacity="0.57"/><ellipse cx="30.1" cy="7.0" rx="1.9" ry="2.0" transform="rotate(156 30.1 7.0)" fill="#b8745c" fill-opacity="0.37"/><ellipse cx="30.1" cy="86.0" rx="1.9" ry="2.0" transform="rotate(156 30.1 86.0)" fill="#b8745c" fill-opacity="0.37"/><ellipse cx="31.7" cy="46.4" rx="1.6" ry="1.5" transform="rotate(101 31.7 46.4)" fill="#b8745c" fill-opacity="0.64"/><ellipse cx="-1.7" cy="56.6" rx="2.9" ry="1.5" transform="rotate(32 -1.7 56.6)" fill="#a8604c" fill-opacity="0.52"/><ellipse cx="87.3" cy="56.6" rx="2.9" ry="1.5" transform="rotate(32 87.3 56.6)" fill="#a8604c" fill-opacity="0.52"/><ellipse cx="29.0" cy="21.6" rx="1.9" ry="1.7" transform="rotate(121 29.0 21.6)" fill="#b8745c" fill-opacity="0.47"/><ellipse cx="65.7" cy="65.4" rx="2.0" ry="2.0" transform="rotate(157 65.7 65.4)" fill="#8e4e40" fill-opacity="0.69"/><ellipse cx="46.1" cy="41.8" rx="1.7" ry="2.0" transform="rotate(169 46.1 41.8)" fill="#8e4e40" fill-opacity="0.45"/><ellipse cx="59.7" cy="32.9" rx="2.4" ry="2.1" transform="rotate(93 59.7 32.9)" fill="#8e4e40" fill-opacity="0.46"/></pattern><pattern id="brnC" patternUnits="userSpaceOnUse" width="67" height="73"><ellipse cx="55.1" cy="35.4" rx="1.9" ry="1.2" transform="rotate(119 55.1 35.4)" fill="#8e4e40" fill-opacity="0.69"/><ellipse cx="21.4" cy="1.6" rx="2.2" ry="1.4" transform="rotate(157 21.4 1.6)" fill="#a8604c" fill-opacity="0.42"/><ellipse cx="21.4" cy="74.6" rx="2.2" ry="1.4" transform="rotate(157 21.4 74.6)" fill="#a8604c" fill-opacity="0.42"/><ellipse cx="53.9" cy="19.4" rx="2.7" ry="1.9" transform="rotate(152 53.9 19.4)" fill="#b8745c" fill-opacity="0.70"/><ellipse cx="27.5" cy="18.3" rx="2.5" ry="2.0" transform="rotate(126 27.5 18.3)" fill="#b8745c" fill-opacity="0.38"/><ellipse cx="-6.5" cy="60.4" rx="2.9" ry="1.7" transform="rotate(150 -6.5 60.4)" fill="#9c5646" fill-opacity="0.53"/><ellipse cx="60.5" cy="60.4" rx="2.9" ry="1.7" transform="rotate(150 60.5 60.4)" fill="#9c5646" fill-opacity="0.53"/><ellipse cx="46.8" cy="58.8" rx="3.0" ry="1.2" transform="rotate(65 46.8 58.8)" fill="#8e4e40" fill-opacity="0.46"/></pattern><radialGradient id="lightTL" cx="0" cy="0" r="0.35" gradientUnits="objectBoundingBox"><stop offset="0" stop-color="#e4ece6" stop-opacity="1"/><stop offset="0.5" stop-color="#e4ece6" stop-opacity="0.75"/><stop offset="1" stop-color="#e4ece6" stop-opacity="0"/></radialGradient><radialGradient id="lightBL" cx="0" cy="1" r="0.22" gradientUnits="objectBoundingBox"><stop offset="0" stop-color="#e4ece6" stop-opacity="1"/><stop offset="0.55" stop-color="#e4ece6" stop-opacity="0.85"/><stop offset="1" stop-color="#e4ece6" stop-opacity="0"/></radialGradient><filter id="soft" x="0" y="0" width="1" height="1"><feGaussianBlur stdDeviation="0.45"/></filter><filter id="blur6" x="-0.2" y="-0.2" width="1.4" height="1.4"><feGaussianBlur stdDeviation="6"/></filter><clipPath id="clip4"><rect x="1020.4" y="1272.2" width="283.6" height="213.8"/></clipPath><clipPath id="clip5"><rect x="1309.5" y="1272.2" width="282.5" height="213.8"/></clipPath></defs>
<text x="0" y="0" font-size="38.5" font-weight="bold" transform="translate(10.8 1225.5) scale(1.04 1)">f</text>
<text x="97.3" y="1229.6" font-size="25.03" font-weight="bold">CD8 IHC</text>
<text x="97.8" y="1265.8" font-size="25.3">UT</text>
<text x="1019.8" y="1266.5" font-size="25.3">CarboCell TLR:TGFb (7d)</text>
<rect x="97.2" y="1272.2" width="284.8" height="213.8" fill="#cfddd4"/>
<rect x="97.2" y="1272.2" width="284.8" height="213.8" fill="#a9aee0" opacity="0.14"/>
<rect x="97.2" y="1272.2" width="284.8" height="213.8" fill="url(#cytA)"/>
<g filter="url(#soft)">
<rect x="97.2" y="1272.2" width="284.8" height="213.8" fill="url(#nucA)" opacity="1"/>
<rect x="97.2" y="1272.2" width="284.8" height="213.8" fill="url(#nucC)" opacity="0.9"/>
</g>
<ellipse cx="215" cy="1385" rx="100" ry="75" fill="url(#nucB)" opacity="0.8"/>
<rect x="103.8" y="1473.4" width="34.6" height="3.8" fill="#000"/>
<rect x="386.6" y="1272.2" width="282.9" height="213.8" fill="#cfddd4"/>
<rect x="386.6" y="1272.2" width="282.9" height="213.8" fill="#a9aee0" opacity="0.14"/>
<rect x="386.6" y="1272.2" width="282.9" height="213.8" fill="url(#cytA)"/>
<g filter="url(#soft)">
<rect x="386.6" y="1272.2" width="282.9" height="213.8" fill="url(#nucB)" opacity="1"/>
<rect x="386.6" y="1272.2" width="282.9" height="213.8" fill="url(#nucC)" opacity="0.6"/>
</g>
<rect x="675" y="1272.2" width="285" height="213.8" fill="#cfddd4"/>
<rect x="675" y="1272.2" width="285" height="213.8" fill="#a9aee0" opacity="0.14"/>
<rect x="675" y="1272.2" width="285" height="213.8" fill="url(#cytA)"/>
<g filter="url(#soft)">
<rect x="675" y="1272.2" width="285" height="213.8" fill="url(#nucA)" opacity="0.9"/>
<rect x="675" y="1272.2" width="285" height="213.8" fill="url(#nucB)" opacity="0.7"/>
</g>
<rect x="1020.4" y="1272.2" width="283.6" height="213.8" fill="#cfddd4"/>
<rect x="1020.4" y="1272.2" width="283.6" height="213.8" fill="#a9aee0" opacity="0.14"/>
<rect x="1020.4" y="1272.2" width="283.6" height="213.8" fill="url(#cytA)"/>
<g filter="url(#soft)">
<rect x="1020.4" y="1272.2" width="283.6" height="213.8" fill="url(#nucA)" opacity="0.95"/>
<rect x="1020.4" y="1272.2" width="283.6" height="213.8" fill="url(#nucB)" opacity="0.7"/>
<rect x="1020.4" y="1272.2" width="283.6" height="213.8" fill="url(#brnA)" opacity="0.8"/>
</g>
<g clip-path="url(#clip4)"><path d="M1005,1260 L1115,1260 Q1080,1290 1040,1310 L1005,1335Z" fill="#e2ebe5" opacity="0.95" filter="url(#blur6)"/></g>
<rect x="1027" y="1473.4" width="34.6" height="3.8" fill="#000"/>
<rect x="1309.5" y="1272.2" width="282.5" height="213.8" fill="#cfddd4"/>
<rect x="1309.5" y="1272.2" width="282.5" height="213.8" fill="#a9aee0" opacity="0.14"/>
<rect x="1309.5" y="1272.2" width="282.5" height="213.8" fill="url(#cytA)"/>
<g filter="url(#soft)">
<rect x="1309.5" y="1272.2" width="282.5" height="213.8" fill="url(#nucA)" opacity="1"/>
<rect x="1309.5" y="1272.2" width="282.5" height="213.8" fill="url(#nucB)" opacity="0.9"/>
<rect x="1309.5" y="1272.2" width="282.5" height="213.8" fill="url(#nucC)" opacity="0.8"/>
<rect x="1309.5" y="1272.2" width="282.5" height="213.8" fill="url(#brnA)" opacity="1"/>
<rect x="1309.5" y="1272.2" width="282.5" height="213.8" fill="url(#brnB)" opacity="1"/>
<rect x="1309.5" y="1272.2" width="282.5" height="213.8" fill="url(#brnC)" opacity="1"/>
</g>
<ellipse cx="1395" cy="1370" rx="80" ry="100" fill="url(#brnA)" opacity="0.9"/>
<g clip-path="url(#clip5)"><path d="M1300,1412 Q1338,1428 1348,1500 L1300,1500Z" fill="#e2ebe5" opacity="0.95" filter="url(#blur6)"/></g>
<rect x="1597.4" y="1272.2" width="284.6" height="213.8" fill="#cfddd4"/>
<rect x="1597.4" y="1272.2" width="284.6" height="213.8" fill="#a9aee0" opacity="0.14"/>
<rect x="1597.4" y="1272.2" width="284.6" height="213.8" fill="url(#cytA)"/>
<g filter="url(#soft)">
<rect x="1597.4" y="1272.2" width="284.6" height="213.8" fill="url(#nucA)" opacity="0.95"/>
<rect x="1597.4" y="1272.2" width="284.6" height="213.8" fill="url(#nucB)" opacity="0.8"/>
<rect x="1597.4" y="1272.2" width="284.6" height="213.8" fill="url(#nucC)" opacity="0.6"/>
<rect x="1597.4" y="1272.2" width="284.6" height="213.8" fill="url(#brnB)" opacity="0.9"/>
<rect x="1597.4" y="1272.2" width="284.6" height="213.8" fill="url(#brnC)" opacity="0.8"/>
</g>
<ellipse cx="1630" cy="1400" rx="30" ry="45" fill="url(#brnA)" opacity="0.9"/>
<text x="0" y="0" font-size="38.5" font-weight="bold" transform="translate(11 1567.3) scale(1.04 1)">g</text>
<text x="114.58" y="1565" font-size="25.5" font-weight="bold">Treatment schedule (EMT-6)</text>
<line x1="57.2" y1="1579" x2="542.8" y2="1579" stroke="#000" stroke-width="2"/>
<text x="227.98" y="1613.5" font-size="25.3">Treatment:</text>
<text x="41.5" y="1643.2" font-size="25.3">CarboCell TLR (7.5 mg/kg)</text>
<text x="41.5" y="1672.6" font-size="25.3">CarboCell TLR:TGFb (7.5 mg/kg:20 mg/kg)</text>
<path d="M137.7,1704.5 V1685 H414.8 V1704.5" stroke="#000" stroke-width="2" fill="none"/>
<line x1="41.1" y1="1730" x2="508" y2="1730" stroke="#000" stroke-width="2"/>
<path d="M504.5,1719.4 L527.4,1729.9 L504.5,1740.4Z" fill="#000"/>
<circle cx="137.7" cy="1729.9" r="11.4" fill="#000"/>
<text x="130.68" y="1779" font-size="25.3">8</text>
<circle cx="229.6" cy="1729.9" r="11.4" fill="#000"/>
<text x="215.56" y="1779" font-size="25.3">15</text>
<circle cx="322.5" cy="1729.9" r="11.4" fill="#000"/>
<text x="308.46" y="1779" font-size="25.3">22</text>
<circle cx="414.8" cy="1729.9" r="11.4" fill="#000"/>
<text x="400.76" y="1779" font-size="25.3">29</text>
<text x="457.7" y="1761.5" font-size="21.7">Days post</text>
<text x="457.7" y="1787" font-size="21.7">inoculation</text>
<text x="0" y="0" font-size="38.5" font-weight="bold" transform="translate(581.8 1572.3) scale(1.04 1)">h</text>
<line x1="717.8" y1="1839.3" x2="717.8" y2="1568.4" stroke="#000" stroke-width="1.5"/>
<line x1="717.05" y1="1839.3" x2="988" y2="1839.3" stroke="#000" stroke-width="1.5"/>
<line x1="711.8" y1="1839.3" x2="717.8" y2="1839.3" stroke="#000" stroke-width="1.5"/>
<text x="697.6" y="1847.2" font-size="22.7">0</text>
<line x1="711.8" y1="1771.58" x2="717.8" y2="1771.58" stroke="#000" stroke-width="1.5"/>
<text x="672.29" y="1779.48" font-size="22.7">500</text>
<line x1="711.8" y1="1703.85" x2="717.8" y2="1703.85" stroke="#000" stroke-width="1.5"/>
<text x="659.69" y="1711.75" font-size="22.7">1000</text>
<line x1="711.8" y1="1636.12" x2="717.8" y2="1636.12" stroke="#000" stroke-width="1.5"/>
<text x="659.69" y="1644.03" font-size="22.7">1500</text>
<line x1="711.8" y1="1568.4" x2="717.8" y2="1568.4" stroke="#000" stroke-width="1.5"/>
<text x="659.69" y="1576.3" font-size="22.7">2000</text>
<line x1="717.8" y1="1839.3" x2="717.8" y2="1845.3" stroke="#000" stroke-width="1.5"/>
<text x="711.5" y="1865.8" font-size="22.7">0</text>
<line x1="785.35" y1="1839.3" x2="785.35" y2="1845.3" stroke="#000" stroke-width="1.5"/>
<text x="772.75" y="1865.8" font-size="22.7">20</text>
<line x1="852.9" y1="1839.3" x2="852.9" y2="1845.3" stroke="#000" stroke-width="1.5"/>
<text x="840.3" y="1865.8" font-size="22.7">40</text>
<line x1="920.45" y1="1839.3" x2="920.45" y2="1845.3" stroke="#000" stroke-width="1.5"/>
<text x="907.85" y="1865.8" font-size="22.7">60</text>
<line x1="988" y1="1839.3" x2="988" y2="1845.3" stroke="#000" stroke-width="1.5"/>
<text x="975.4" y="1865.8" font-size="22.7">80</text>
<polyline points="741.31,1826.37 755.35,1806.61 768.86,1779.58 778.74,1761.91 788.62,1696.41 796.41,1685.5 802.65,1626.76" stroke="#8e8e8e" stroke-width="1.4" fill="none" stroke-linejoin="round"/>
<polyline points="741.31,1829.49 754.31,1812.85 769.9,1798.82 779.26,1760.87 786.54,1722.4 796.41,1685.5 802.13,1639.23" stroke="#8e8e8e" stroke-width="1.4" fill="none" stroke-linejoin="round"/>
<polyline points="743.91,1832.6 752.23,1822.73 768.86,1807.65 778.74,1795.18 789.14,1785.82 795.37,1757.75 803.17,1747.35 812.53,1638.71" stroke="#8e8e8e" stroke-width="1.4" fill="none" stroke-linejoin="round"/>
<polyline points="741.31,1831.05 755.35,1818.05 779.26,1806.09 789.14,1786.34 803.17,1747.87 812.53,1692.77 819.8,1666.78 826.04,1625.2" stroke="#8e8e8e" stroke-width="1.4" fill="none" stroke-linejoin="round"/>
<polyline points="741.31,1828.97 754.31,1819.09 768.86,1820.65 778.22,1818.57 789.14,1821.17 802.65,1817.53 826.56,1762.95 838,1727.6 843.72,1690.69 849.95,1628.32" stroke="#8e8e8e" stroke-width="1.4" fill="none" stroke-linejoin="round"/>
<polyline points="741.31,1830.01 753.27,1822.21 768.86,1818.57 779.26,1806.09 794.85,1778.54 803.17,1773.35 812.53,1725.52 819.8,1714.09 826.04,1640.79" stroke="#8e8e8e" stroke-width="1.4" fill="none" stroke-linejoin="round"/>
<polyline points="741.31,1831.05 754.31,1817.53 767.82,1817.53 779.78,1802.98 794.85,1757.75 803.17,1746.83 811.49,1727.08 819.8,1692.77 826.04,1632.48" stroke="#8e8e8e" stroke-width="1.4" fill="none" stroke-linejoin="round"/>
<polyline points="741.31,1826.89 755.35,1812.33 769.9,1807.13 779.78,1807.13 789.14,1796.74 795.89,1770.75 805.25,1756.19 812.53,1716.69 821.88,1666.78 826.56,1640.79" stroke="#8e8e8e" stroke-width="1.4" fill="none" stroke-linejoin="round"/>
<text x="838.25" y="1566.3" font-size="22.4">UT</text>
<text x="0" y="0" font-size="23.8" text-anchor="middle" transform="translate(652.7 1688.2) rotate(-90)">Tumor Volume (mm<tspan font-size="0.7em" dy="-0.47em">3</tspan><tspan dy="0.329em">)</tspan></text>
<text x="709.35" y="1895" font-size="23.2">Time (days post inoculation)</text>
<line x1="1111.2" y1="1843.2" x2="1111.2" y2="1584" stroke="#000" stroke-width="1.5"/>
<line x1="1110.45" y1="1843.2" x2="1371.7" y2="1843.2" stroke="#000" stroke-width="1.5"/>
<line x1="1105.2" y1="1843.2" x2="1111.2" y2="1843.2" stroke="#000" stroke-width="1.5"/>
<text x="1091.52" y="1851.1" font-size="21.4">0</text>
<line x1="1105.2" y1="1778.4" x2="1111.2" y2="1778.4" stroke="#000" stroke-width="1.5"/>
<text x="1067.66" y="1786.3" font-size="21.4">500</text>
<line x1="1105.2" y1="1713.6" x2="1111.2" y2="1713.6" stroke="#000" stroke-width="1.5"/>
<text x="1055.79" y="1721.5" font-size="21.4">1000</text>
<line x1="1105.2" y1="1648.8" x2="1111.2" y2="1648.8" stroke="#000" stroke-width="1.5"/>
<text x="1055.79" y="1656.7" font-size="21.4">1500</text>
<line x1="1105.2" y1="1584" x2="1111.2" y2="1584" stroke="#000" stroke-width="1.5"/>
<text x="1055.79" y="1591.9" font-size="21.4">2000</text>
<line x1="1111.2" y1="1843.2" x2="1111.2" y2="1849.2" stroke="#000" stroke-width="1.5"/>
<text x="1105.26" y="1869.7" font-size="21.4">0</text>
<line x1="1176.32" y1="1843.2" x2="1176.32" y2="1849.2" stroke="#000" stroke-width="1.5"/>
<text x="1164.44" y="1869.7" font-size="21.4">20</text>
<line x1="1241.44" y1="1843.2" x2="1241.44" y2="1849.2" stroke="#000" stroke-width="1.5"/>
<text x="1229.56" y="1869.7" font-size="21.4">40</text>
<line x1="1306.56" y1="1843.2" x2="1306.56" y2="1849.2" stroke="#000" stroke-width="1.5"/>
<text x="1294.68" y="1869.7" font-size="21.4">60</text>
<line x1="1371.68" y1="1843.2" x2="1371.68" y2="1849.2" stroke="#000" stroke-width="1.5"/>
<text x="1359.8" y="1869.7" font-size="21.4">80</text>
<polyline points="1134.26,1829.04 1147.89,1816.64 1160.29,1816.64 1169.58,1807.34 1179.65,1774.8 1186.63,1784.1 1193.6,1776.35 1202.9,1739.94 1206.77,1735.29 1214.52,1705.08 1226.14,1646.97" stroke="#fe2a7a" stroke-width="1.5" fill="none" stroke-linejoin="round"/>
<polyline points="1134.26,1835.23 1147.89,1821.29 1160.29,1815.09 1166.48,1810.44 1171.13,1803.47 1178.88,1779.45 1186.63,1773.25 1192.83,1773.25 1200.57,1748.46 1208.32,1726.77 1216.07,1698.88 1225.36,1649.3" stroke="#fe2a7a" stroke-width="1.5" fill="none" stroke-linejoin="round"/>
<polyline points="1134.26,1836.78 1147.89,1825.94 1161.06,1818.19 1169.58,1816.64 1180.43,1818.19 1186.63,1811.99 1202.9,1765.51 1208.32,1722.12 1216.07,1701.98 1225.36,1648.52" stroke="#fe2a7a" stroke-width="1.5" fill="none" stroke-linejoin="round"/>
<polyline points="1134.26,1832.13 1147.89,1820.51 1160.29,1830.59 1171.13,1831.36 1180.43,1832.13 1186.63,1831.36 1193.6,1836.78 1202.9,1829.81 1209.09,1828.26 1215.29,1805.79 1225.36,1808.89 1231.56,1805.02 1239.31,1805.79 1251.71,1805.02 1261.78,1810.44 1271.07,1808.89 1278.05,1815.09 1284.24,1816.64 1292.77,1816.64 1300.51,1822.06 1306.71,1819.74 1319.88,1820.51 1329.95,1818.96 1346.22,1819.74 1362.49,1822.84" stroke="#fe2a7a" stroke-width="1.5" fill="none" stroke-linejoin="round"/>
<polyline points="1134.26,1836.78 1147.89,1826.71 1161.06,1829.81 1186.63,1832.13 1193.6,1836.78 1202.9,1837.56 1209.09,1828.26 1226.14,1787.97 1231.56,1763.18 1238.53,1763.96 1251.71,1770.93 1261.78,1780.23 1274.95,1784.1 1284.24,1786.43 1299.74,1791.07 1306.71,1791.07 1316.78,1794.17 1329.95,1796.5 1346.22,1794.17 1362.49,1801.92" stroke="#fe2a7a" stroke-width="1.5" fill="none" stroke-linejoin="round"/>
<polyline points="1134.26,1830.59 1147.89,1818.19 1169.58,1816.64 1180.43,1808.12 1188.18,1813.54 1193.6,1815.09 1209.09,1811.22 1216.07,1805.02 1225.36,1808.89 1231.56,1804.24 1251.71,1805.79 1261.78,1810.44 1271.07,1808.12 1278.05,1815.09 1292.77,1815.87 1300.51,1801.15 1316.78,1803.47 1323.76,1808.89 1329.95,1808.89 1362.49,1822.84" stroke="#fe2a7a" stroke-width="1.5" fill="none" stroke-linejoin="round"/>
<polyline points="1134.26,1833.68 1147.89,1826.71 1161.06,1831.36 1186.63,1830.59 1193.6,1829.81 1202.9,1830.59 1209.09,1831.36 1216.07,1829.81 1226.14,1829.81 1231.56,1828.26 1238.53,1825.16 1251.71,1825.94 1261.78,1818.19 1271.07,1818.96 1278.05,1818.19 1284.24,1821.29 1292.77,1815.87" stroke="#fe2a7a" stroke-width="1.5" fill="none" stroke-linejoin="round"/>
<text x="1167.84" y="1575.8" font-size="22.4">CarboCell TLR</text>
<text x="0" y="0" font-size="22.2" text-anchor="middle" transform="translate(1048.9 1703.8) rotate(-90)">Tumor Volume (mm<tspan font-size="0.7em" dy="-0.47em">3</tspan><tspan dy="0.329em">)</tspan></text>
<text x="1102.14" y="1897" font-size="22.4">Time (days post inoculation)</text>
<line x1="1528.3" y1="1844.9" x2="1528.3" y2="1588.9" stroke="#000" stroke-width="1.5"/>
<line x1="1527.55" y1="1844.9" x2="1784.9" y2="1844.9" stroke="#000" stroke-width="1.5"/>
<line x1="1522.3" y1="1844.9" x2="1528.3" y2="1844.9" stroke="#000" stroke-width="1.5"/>
<text x="1508.5" y="1852.8" font-size="20.9">0</text>
<line x1="1522.3" y1="1780.9" x2="1528.3" y2="1780.9" stroke="#000" stroke-width="1.5"/>
<text x="1485.2" y="1788.8" font-size="20.9">500</text>
<line x1="1522.3" y1="1716.9" x2="1528.3" y2="1716.9" stroke="#000" stroke-width="1.5"/>
<text x="1473.6" y="1724.8" font-size="20.9">1000</text>
<line x1="1522.3" y1="1652.9" x2="1528.3" y2="1652.9" stroke="#000" stroke-width="1.5"/>
<text x="1473.6" y="1660.8" font-size="20.9">1500</text>
<line x1="1522.3" y1="1588.9" x2="1528.3" y2="1588.9" stroke="#000" stroke-width="1.5"/>
<text x="1473.6" y="1596.8" font-size="20.9">2000</text>
<line x1="1528.3" y1="1844.9" x2="1528.3" y2="1850.9" stroke="#000" stroke-width="1.5"/>
<text x="1522.5" y="1870.4" font-size="20.9">0</text>
<line x1="1592.46" y1="1844.9" x2="1592.46" y2="1850.9" stroke="#000" stroke-width="1.5"/>
<text x="1580.86" y="1870.4" font-size="20.9">20</text>
<line x1="1656.62" y1="1844.9" x2="1656.62" y2="1850.9" stroke="#000" stroke-width="1.5"/>
<text x="1645.02" y="1870.4" font-size="20.9">40</text>
<line x1="1720.78" y1="1844.9" x2="1720.78" y2="1850.9" stroke="#000" stroke-width="1.5"/>
<text x="1709.18" y="1870.4" font-size="20.9">60</text>
<line x1="1784.94" y1="1844.9" x2="1784.94" y2="1850.9" stroke="#000" stroke-width="1.5"/>
<text x="1773.34" y="1870.4" font-size="20.9">80</text>
<polyline points="1550.76,1830.82 1557.17,1826.98 1563.59,1825.7 1576.42,1822.5 1586.04,1824.42 1592.46,1823.14 1595.67,1815.46 1602.08,1816.74 1608.5,1821.86 1618.12,1825.7 1624.54,1801.38 1630.96,1819.3 1637.37,1768.1 1643.79,1704.1 1653.41,1654.18" stroke="#1297f0" stroke-width="1.5" fill="none" stroke-linejoin="round"/>
<polyline points="1550.76,1829.54 1557.17,1825.7 1563.59,1820.58 1573.21,1823.14 1586.04,1819.3 1595.67,1826.98 1605.29,1819.3 1618.12,1823.14 1624.54,1803.94 1634.16,1798.82 1643.79,1794.98 1650.2,1800.1 1663.04,1805.22 1675.87,1807.78 1685.49,1806.5 1698.32,1807.14 1707.95,1807.14 1714.36,1814.18 1720.78,1812.9 1733.61,1812.26 1743.24,1814.18 1759.28,1806.5 1775.32,1816.74" stroke="#1297f0" stroke-width="1.5" fill="none" stroke-linejoin="round"/>
<polyline points="1550.76,1834.66 1563.59,1828.26 1576.42,1826.98 1589.25,1825.7 1602.08,1828.26 1611.71,1824.42 1624.54,1821.86 1634.16,1819.3 1647,1787.3 1653.41,1751.46 1666.24,1745.06 1675.87,1747.62 1688.7,1746.34 1691.91,1745.7 1698.32,1760.42 1707.95,1757.86 1714.36,1769.38 1723.99,1771.94 1730.4,1771.94 1746.44,1778.34 1759.28,1780.9 1775.32,1793.7" stroke="#1297f0" stroke-width="1.5" fill="none" stroke-linejoin="round"/>
<polyline points="1550.76,1838.5 1563.59,1829.54 1573.21,1832.1 1579.63,1835.94 1586.04,1837.22 1595.67,1834.66 1608.5,1832.1 1624.54,1828.26 1630.96,1819.3 1640.58,1805.22 1650.2,1815.46 1663.04,1816.74 1675.87,1828.26 1685.49,1824.42 1695.12,1833.38 1707.95,1837.22 1720.78,1844.9 1730.4,1844.9 1775.32,1844.9" stroke="#1297f0" stroke-width="1.5" fill="none" stroke-linejoin="round"/>
<polyline points="1550.76,1838.5 1553.96,1837.22 1563.59,1830.82 1576.42,1826.98 1592.46,1838.5 1598.88,1837.22 1618.12,1828.26 1630.96,1832.1 1643.79,1830.82 1666.24,1824.42 1675.87,1828.26 1685.49,1825.7 1698.32,1827.62 1707.95,1827.62 1720.78,1844.9 1723.99,1838.5 1730.4,1844.9 1775.32,1844.9" stroke="#1297f0" stroke-width="1.5" fill="none" stroke-linejoin="round"/>
<text x="1550.78" y="1586.3" font-size="22.4">CarboCell TLR:TGFb</text>
<text x="0" y="0" font-size="22.4" text-anchor="middle" transform="translate(1464.8 1701.7) rotate(-90)">Tumor Volume (mm<tspan font-size="0.7em" dy="-0.47em">3</tspan><tspan dy="0.329em">)</tspan></text>
<text x="1516.94" y="1899" font-size="22.4">Time (days post inoculation)</text>
<text x="0" y="0" font-size="38.5" font-weight="bold" transform="translate(10.8 1892.1) scale(1.04 1)">i</text>
<rect x="66.6" y="1902.5" width="430.6" height="431.2" fill="none" stroke="#000" stroke-width="2.1"/>
<line x1="60.6" y1="2333.7" x2="66.6" y2="2333.7" stroke="#000" stroke-width="2.1"/>
<text x="45.39" y="2341.5" font-size="22">0</text>
<line x1="60.6" y1="2137.75" x2="66.6" y2="2137.75" stroke="#000" stroke-width="2.1"/>
<text x="33.18" y="2145.55" font-size="22">50</text>
<line x1="60.6" y1="1941.8" x2="66.6" y2="1941.8" stroke="#000" stroke-width="2.1"/>
<text x="20.86" y="1949.6" font-size="22">100</text>
<line x1="66.6" y1="2333.7" x2="66.6" y2="2339.7" stroke="#000" stroke-width="2.1"/>
<text x="60.49" y="2362.7" font-size="22">0</text>
<line x1="120.43" y1="2333.7" x2="120.43" y2="2339.7" stroke="#000" stroke-width="2.1"/>
<text x="108.22" y="2362.7" font-size="22">10</text>
<line x1="174.26" y1="2333.7" x2="174.26" y2="2339.7" stroke="#000" stroke-width="2.1"/>
<text x="162.05" y="2362.7" font-size="22">20</text>
<line x1="228.09" y1="2333.7" x2="228.09" y2="2339.7" stroke="#000" stroke-width="2.1"/>
<text x="215.88" y="2362.7" font-size="22">30</text>
<line x1="281.92" y1="2333.7" x2="281.92" y2="2339.7" stroke="#000" stroke-width="2.1"/>
<text x="269.71" y="2362.7" font-size="22">40</text>
<line x1="335.75" y1="2333.7" x2="335.75" y2="2339.7" stroke="#000" stroke-width="2.1"/>
<text x="323.54" y="2362.7" font-size="22">50</text>
<line x1="389.58" y1="2333.7" x2="389.58" y2="2339.7" stroke="#000" stroke-width="2.1"/>
<text x="377.37" y="2362.7" font-size="22">60</text>
<line x1="443.41" y1="2333.7" x2="443.41" y2="2339.7" stroke="#000" stroke-width="2.1"/>
<text x="431.2" y="2362.7" font-size="22">70</text>
<line x1="497.24" y1="2333.7" x2="497.24" y2="2339.7" stroke="#000" stroke-width="2.1"/>
<text x="485.03" y="2362.7" font-size="22">80</text>
<path d="M66.6,1941.8 H276.54 V2020.18 H481.09 M481.09,2012.18 V2020.18" stroke="#0096ff" stroke-width="2.7" fill="none"/>
<line x1="276.54" y1="2013.18" x2="276.54" y2="2020.18" stroke="#0a7f8f" stroke-width="1.6"/>
<path d="M66.6,1941.8 H255 V2137.75 H481.09 M481.09,2129.75 V2137.75" stroke="#fe2a7a" stroke-width="2.7" fill="none"/>
<path d="M66.6,1941.8 H201.17 V2039.77 H217.32 V2088.76 H238.86 V2284.71 H276.54 V2333.7" stroke="#000" stroke-width="2.7" fill="none"/>
<text x="454.72" y="2003.9" font-size="24.3" fill="#0096ff">4/5</text>
<text x="454.72" y="2116.5" font-size="24.3" fill="#fe2a7a">3/6</text>
<text x="297.7" y="2311.9" font-size="24.32">0/8</text>
<text x="129.02" y="2390.6" font-size="24.6">Time (days post inoculation)</text>
<text x="0" y="0" font-size="24.5" text-anchor="middle" transform="translate(17.6 2113.3) rotate(-90)">Percent survival</text>
<line x1="103.6" y1="2437.4" x2="131.3" y2="2437.4" stroke="#8a8a8a" stroke-width="2.6"/>
<line x1="117.5" y1="2427" x2="117.5" y2="2437.4" stroke="#000" stroke-width="1.8"/>
<text x="144.8" y="2446.3" font-size="25.3">UT</text>
<line x1="191.5" y1="2440" x2="218.8" y2="2440" stroke="#fe2a7a" stroke-width="2.6"/>
<line x1="205" y1="2430" x2="205" y2="2440" stroke="#fe2a7a" stroke-width="1.8"/>
<text x="232.3" y="2449.6" font-size="25.3">CarboCell TLR</text>
<line x1="103.6" y1="2470.5" x2="131.3" y2="2470.5" stroke="#0096ff" stroke-width="2.6"/>
<line x1="117.5" y1="2460" x2="117.5" y2="2470.5" stroke="#0a7f8f" stroke-width="1.8"/>
<text x="144.8" y="2481.5" font-size="25.3">CarboCell TLR:TGFb</text>
<text x="0" y="0" font-size="38.5" font-weight="bold" transform="translate(547.7 1976) scale(1.04 1)">j</text>
<text x="620" y="1980.3" font-size="25.46" font-weight="bold">Immune cell infiltration in tdLNs</text>
<text x="0" y="0" font-size="38.5" font-weight="bold" transform="translate(1391.1 1979.8) scale(1.04 1)">k</text>
<text x="1459.3" y="1980.3" font-size="25.49" font-weight="bold">Immune cell infiltration in tumors</text>
<rect x="659" y="2176.47" width="50.3" height="164.03" fill="#a9a9a9"/>
<rect x="734.9" y="2129.97" width="50" height="210.53" fill="#008e8e"/>
<line x1="684.15" y1="2185.77" x2="684.15" y2="2168.02" stroke="#000" stroke-width="1.5"/>
<line x1="672.15" y1="2185.77" x2="696.15" y2="2185.77" stroke="#000" stroke-width="1.5"/>
<line x1="672.15" y1="2168.02" x2="696.15" y2="2168.02" stroke="#000" stroke-width="1.5"/>
<path d="M684.15,2144.59 L688.74,2152.8 L679.56,2152.8Z" fill="#000"/>
<path d="M676.15,2155.58 L680.74,2163.79 L671.56,2163.79Z" fill="#000"/>
<path d="M692.15,2158.96 L696.74,2167.17 L687.56,2167.17Z" fill="#000"/>
<path d="M684.15,2178.41 L688.74,2186.62 L679.56,2186.62Z" fill="#000"/>
<path d="M676.15,2194.47 L680.74,2202.68 L671.56,2202.68Z" fill="#000"/>
<path d="M692.15,2192.78 L696.74,2200.99 L687.56,2200.99Z" fill="#000"/>
<line x1="759.9" y1="2146.03" x2="759.9" y2="2113.91" stroke="#000" stroke-width="1.5"/>
<line x1="747.9" y1="2146.03" x2="771.9" y2="2146.03" stroke="#000" stroke-width="1.5"/>
<line x1="747.9" y1="2113.91" x2="771.9" y2="2113.91" stroke="#000" stroke-width="1.5"/>
<path d="M759.9,2080.69 L764.49,2072.48 L755.31,2072.48Z" fill="#000"/>
<path d="M759.9,2103.52 L764.49,2095.31 L755.31,2095.31Z" fill="#000"/>
<path d="M759.9,2117.05 L764.49,2108.83 L755.31,2108.83Z" fill="#000"/>
<path d="M759.9,2149.17 L764.49,2140.96 L755.31,2140.96Z" fill="#000"/>
<path d="M759.9,2159.32 L764.49,2151.11 L755.31,2151.11Z" fill="#000"/>
<path d="M759.9,2190.6 L764.49,2182.39 L755.31,2182.39Z" fill="#000"/>
<line x1="633" y1="2341" x2="633" y2="2046" stroke="#000" stroke-width="2"/>
<line x1="632" y1="2340" x2="810.8" y2="2340" stroke="#000" stroke-width="2"/>
<line x1="626.4" y1="2340.5" x2="633.4" y2="2340.5" stroke="#000" stroke-width="2"/>
<text x="608.1" y="2350.1" font-size="29">0</text>
<line x1="626.4" y1="2255.95" x2="633.4" y2="2255.95" stroke="#000" stroke-width="2"/>
<text x="608.1" y="2265.55" font-size="29">1</text>
<line x1="626.4" y1="2171.4" x2="633.4" y2="2171.4" stroke="#000" stroke-width="2"/>
<text x="608.1" y="2181" font-size="29">2</text>
<line x1="626.4" y1="2086.85" x2="633.4" y2="2086.85" stroke="#000" stroke-width="2"/>
<text x="608.1" y="2096.45" font-size="29">3</text>
<line x1="684.15" y1="2340.5" x2="684.15" y2="2348.5" stroke="#000" stroke-width="2"/>
<line x1="759.9" y1="2340.5" x2="759.9" y2="2348.5" stroke="#000" stroke-width="2"/>
<path d="M683.8,2110.5 V2046.8 H759.7 V2055.2" stroke="#000" stroke-width="1.5" fill="none"/>
<text x="691.76" y="2037.3" font-size="19.6">0.0281</text>
<text x="0" y="0" font-size="31" text-anchor="middle" transform="translate(597.8 2182.2) rotate(-90)">% cDC1s (of CD45<tspan font-size="0.7em" dy="-0.5em">+</tspan><tspan dy="0.35em">)</tspan></text>
<rect x="987.8" y="2242.38" width="49.6" height="96.12" fill="#a9a9a9"/>
<rect x="1061.7" y="2121.83" width="50.3" height="216.67" fill="#008e8e"/>
<line x1="1012.6" y1="2247.06" x2="1012.6" y2="2236.82" stroke="#000" stroke-width="1.5"/>
<line x1="1000.6" y1="2247.06" x2="1024.6" y2="2247.06" stroke="#000" stroke-width="1.5"/>
<line x1="1000.6" y1="2236.82" x2="1024.6" y2="2236.82" stroke="#000" stroke-width="1.5"/>
<path d="M1020.6,2222.48 L1025.19,2230.69 L1016.01,2230.69Z" fill="#000"/>
<path d="M1004.6,2226.87 L1009.19,2235.08 L1000.01,2235.08Z" fill="#000"/>
<path d="M1012.6,2231.26 L1017.19,2239.47 L1008.01,2239.47Z" fill="#000"/>
<path d="M1012.6,2238.58 L1017.19,2246.79 L1008.01,2246.79Z" fill="#000"/>
<path d="M1003.6,2249.55 L1008.19,2257.76 L999.01,2257.76Z" fill="#000"/>
<path d="M1021.6,2249.55 L1026.19,2257.76 L1017.01,2257.76Z" fill="#000"/>
<line x1="1086.85" y1="2129.29" x2="1086.85" y2="2112.47" stroke="#000" stroke-width="1.5"/>
<line x1="1074.85" y1="2129.29" x2="1098.85" y2="2129.29" stroke="#000" stroke-width="1.5"/>
<line x1="1074.85" y1="2112.47" x2="1098.85" y2="2112.47" stroke="#000" stroke-width="1.5"/>
<path d="M1086.85,2096.81 L1091.44,2088.6 L1082.26,2088.6Z" fill="#000"/>
<path d="M1077.85,2116.57 L1082.44,2108.35 L1073.26,2108.35Z" fill="#000"/>
<path d="M1095.85,2116.57 L1100.44,2108.35 L1091.26,2108.35Z" fill="#000"/>
<path d="M1086.85,2130.46 L1091.44,2122.25 L1082.26,2122.25Z" fill="#000"/>
<path d="M1086.85,2140.7 L1091.44,2132.49 L1082.26,2132.49Z" fill="#000"/>
<path d="M1086.85,2152.41 L1091.44,2144.2 L1082.26,2144.2Z" fill="#000"/>
<line x1="961" y1="2339" x2="961" y2="2046" stroke="#000" stroke-width="2"/>
<line x1="960" y1="2338" x2="1136.9" y2="2338" stroke="#000" stroke-width="2"/>
<line x1="954.4" y1="2338.5" x2="961.4" y2="2338.5" stroke="#000" stroke-width="2"/>
<text x="936.22" y="2348.8" font-size="28.8">0</text>
<line x1="954.4" y1="2265.35" x2="961.4" y2="2265.35" stroke="#000" stroke-width="2"/>
<text x="904.1" y="2275.65" font-size="28.8">500</text>
<line x1="954.4" y1="2192.2" x2="961.4" y2="2192.2" stroke="#000" stroke-width="2"/>
<text x="888.12" y="2202.5" font-size="28.8">1000</text>
<line x1="954.4" y1="2119.05" x2="961.4" y2="2119.05" stroke="#000" stroke-width="2"/>
<text x="888.12" y="2129.35" font-size="28.8">1500</text>
<line x1="954.4" y1="2045.9" x2="961.4" y2="2045.9" stroke="#000" stroke-width="2"/>
<text x="888.12" y="2056.2" font-size="28.8">2000</text>
<line x1="1012.6" y1="2338.5" x2="1012.6" y2="2346.5" stroke="#000" stroke-width="2"/>
<line x1="1086.85" y1="2338.5" x2="1086.85" y2="2346.5" stroke="#000" stroke-width="2"/>
<path d="M1011.8,2202.4 V2068.9 H1087.3 V2079.2" stroke="#000" stroke-width="1.5" fill="none"/>
<text x="1013.83" y="2061.3" font-size="19.6">&lt;0.0001</text>
<text x="0" y="0" font-size="30.5" text-anchor="middle" transform="translate(842.6 2182.1) rotate(-90)">CD86 expression</text>
<text x="0" y="0" font-size="30.5" text-anchor="middle" transform="translate(881.8 2184.2) rotate(-90)">(MFI) on cDC1s</text>
<rect x="1254.1" y="2307.38" width="50.4" height="27.02" fill="#a9a9a9"/>
<rect x="1329.3" y="2152.98" width="49.9" height="181.42" fill="#008e8e"/>
<line x1="1279.3" y1="2310.28" x2="1279.3" y2="2304.49" stroke="#000" stroke-width="1.5"/>
<line x1="1267.3" y1="2310.28" x2="1291.3" y2="2310.28" stroke="#000" stroke-width="1.5"/>
<line x1="1267.3" y1="2304.49" x2="1291.3" y2="2304.49" stroke="#000" stroke-width="1.5"/>
<path d="M1260.3,2296.76 L1264.89,2304.97 L1255.71,2304.97Z" fill="#000"/>
<path d="M1286.3,2295.8 L1290.89,2304.01 L1281.71,2304.01Z" fill="#000"/>
<path d="M1272.3,2300.62 L1276.89,2308.83 L1267.71,2308.83Z" fill="#000"/>
<path d="M1260.3,2304.48 L1264.89,2312.69 L1255.71,2312.69Z" fill="#000"/>
<path d="M1279.3,2304.48 L1283.89,2312.69 L1274.71,2312.69Z" fill="#000"/>
<path d="M1297.3,2305.45 L1301.89,2313.66 L1292.71,2313.66Z" fill="#000"/>
<line x1="1354.25" y1="2180" x2="1354.25" y2="2126.93" stroke="#000" stroke-width="1.5"/>
<line x1="1342.25" y1="2180" x2="1366.25" y2="2180" stroke="#000" stroke-width="1.5"/>
<line x1="1342.25" y1="2126.93" x2="1366.25" y2="2126.93" stroke="#000" stroke-width="1.5"/>
<path d="M1354.25,2049.73 L1358.84,2041.52 L1349.66,2041.52Z" fill="#000"/>
<path d="M1354.25,2125 L1358.84,2116.79 L1349.66,2116.79Z" fill="#000"/>
<path d="M1346.25,2163.6 L1350.84,2155.39 L1341.66,2155.39Z" fill="#000"/>
<path d="M1362.25,2163.6 L1366.84,2155.39 L1357.66,2155.39Z" fill="#000"/>
<path d="M1354.25,2195.45 L1358.84,2187.23 L1349.66,2187.23Z" fill="#000"/>
<path d="M1354.25,2239.84 L1358.84,2231.62 L1349.66,2231.62Z" fill="#000"/>
<line x1="1230" y1="2335" x2="1230" y2="2044.8" stroke="#000" stroke-width="2"/>
<line x1="1229" y1="2334" x2="1404" y2="2334" stroke="#000" stroke-width="2"/>
<line x1="1222.8" y1="2334.4" x2="1229.8" y2="2334.4" stroke="#000" stroke-width="2"/>
<text x="1205.89" y="2343.9" font-size="26.5">0</text>
<line x1="1222.8" y1="2237.9" x2="1229.8" y2="2237.9" stroke="#000" stroke-width="2"/>
<text x="1205.89" y="2247.4" font-size="26.5">1</text>
<line x1="1222.8" y1="2141.4" x2="1229.8" y2="2141.4" stroke="#000" stroke-width="2"/>
<text x="1205.89" y="2150.9" font-size="26.5">2</text>
<line x1="1222.8" y1="2044.9" x2="1229.8" y2="2044.9" stroke="#000" stroke-width="2"/>
<text x="1205.89" y="2054.4" font-size="26.5">3</text>
<line x1="1279.3" y1="2334.4" x2="1279.3" y2="2342.4" stroke="#000" stroke-width="2"/>
<line x1="1354.25" y1="2334.4" x2="1354.25" y2="2342.4" stroke="#000" stroke-width="2"/>
<path d="M1279.3,2216.4 V2027.6 H1354 V2035" stroke="#000" stroke-width="1.5" fill="none"/>
<text x="1286.66" y="2019.6" font-size="19.6">0.0002</text>
<text x="0" y="0" font-size="31" text-anchor="middle" transform="translate(1156.1 2178.7) rotate(-90)">% Inflammatory</text>
<text x="0" y="0" font-size="31" text-anchor="middle" transform="translate(1194.5 2181.7) rotate(-90)">monocytes (of CD45<tspan font-size="0.7em" dy="-0.5em">+</tspan><tspan dy="0.35em">)</tspan></text>
<rect x="1577.8" y="2112.39" width="48.6" height="222.51" fill="#a9a9a9"/>
<rect x="1651.6" y="2237.2" width="49.1" height="97.7" fill="#008e8e"/>
<line x1="1602.1" y1="2131.49" x2="1602.1" y2="2092.33" stroke="#000" stroke-width="1.5"/>
<line x1="1590.1" y1="2131.49" x2="1614.1" y2="2131.49" stroke="#000" stroke-width="1.5"/>
<line x1="1590.1" y1="2092.33" x2="1614.1" y2="2092.33" stroke="#000" stroke-width="1.5"/>
<path d="M1593.1,2066.49 L1597.69,2074.7 L1588.51,2074.7Z" fill="#000"/>
<path d="M1610.1,2066.49 L1614.69,2074.7 L1605.51,2074.7Z" fill="#000"/>
<path d="M1602.1,2085.59 L1606.69,2093.8 L1597.51,2093.8Z" fill="#000"/>
<path d="M1593.1,2114.24 L1597.69,2122.45 L1588.51,2122.45Z" fill="#000"/>
<path d="M1610.1,2119.02 L1614.69,2127.23 L1605.51,2127.23Z" fill="#000"/>
<path d="M1602.1,2203.06 L1606.69,2211.27 L1597.51,2211.27Z" fill="#000"/>
<line x1="1676.15" y1="2243.22" x2="1676.15" y2="2227.94" stroke="#000" stroke-width="1.5"/>
<line x1="1664.15" y1="2243.22" x2="1688.15" y2="2243.22" stroke="#000" stroke-width="1.5"/>
<line x1="1664.15" y1="2227.94" x2="1688.15" y2="2227.94" stroke="#000" stroke-width="1.5"/>
<path d="M1676.15,2206.03 L1680.74,2197.82 L1671.56,2197.82Z" fill="#000"/>
<path d="M1676.15,2229.91 L1680.74,2221.69 L1671.56,2221.69Z" fill="#000"/>
<path d="M1668.15,2245.18 L1672.74,2236.97 L1663.56,2236.97Z" fill="#000"/>
<path d="M1684.15,2245.18 L1688.74,2236.97 L1679.56,2236.97Z" fill="#000"/>
<path d="M1676.15,2256.64 L1680.74,2248.43 L1671.56,2248.43Z" fill="#000"/>
<path d="M1676.15,2267.63 L1680.74,2259.42 L1671.56,2259.42Z" fill="#000"/>
<line x1="1553" y1="2336" x2="1553" y2="2048.3" stroke="#000" stroke-width="2"/>
<line x1="1552" y1="2335" x2="1725" y2="2335" stroke="#000" stroke-width="2"/>
<line x1="1546.4" y1="2334.9" x2="1553.4" y2="2334.9" stroke="#000" stroke-width="2"/>
<text x="1528.94" y="2344.7" font-size="27.5">0</text>
<line x1="1546.4" y1="2239.4" x2="1553.4" y2="2239.4" stroke="#000" stroke-width="2"/>
<text x="1513.67" y="2249.2" font-size="27.5">10</text>
<line x1="1546.4" y1="2143.9" x2="1553.4" y2="2143.9" stroke="#000" stroke-width="2"/>
<text x="1513.67" y="2153.7" font-size="27.5">20</text>
<line x1="1546.4" y1="2048.4" x2="1553.4" y2="2048.4" stroke="#000" stroke-width="2"/>
<text x="1513.67" y="2058.2" font-size="27.5">30</text>
<line x1="1602.1" y1="2334.9" x2="1602.1" y2="2342.9" stroke="#000" stroke-width="2"/>
<line x1="1676.15" y1="2334.9" x2="1676.15" y2="2342.9" stroke="#000" stroke-width="2"/>
<path d="M1602,2059.4 V2051.4 H1676 V2197" stroke="#000" stroke-width="1.5" fill="none"/>
<text x="1609.01" y="2044" font-size="19.6">0.0003</text>
<text x="0" y="0" font-size="30.2" text-anchor="middle" transform="translate(1502.5 2181.9) rotate(-90)">% TAMs (of CD45<tspan font-size="0.7em" dy="-0.5em">+</tspan><tspan dy="0.35em">)</tspan></text>
<rect x="1025" y="2372" width="14.5" height="26" fill="#a9a9a9"/>
<text x="1048" y="2395" font-size="27">UT</text>
<rect x="1110.9" y="2370.8" width="16" height="28.8" fill="#008e8e"/>
<text x="1135.2" y="2395" font-size="27.2">CarboCell TLR:TGFb</text>
</svg>
</body></html>
